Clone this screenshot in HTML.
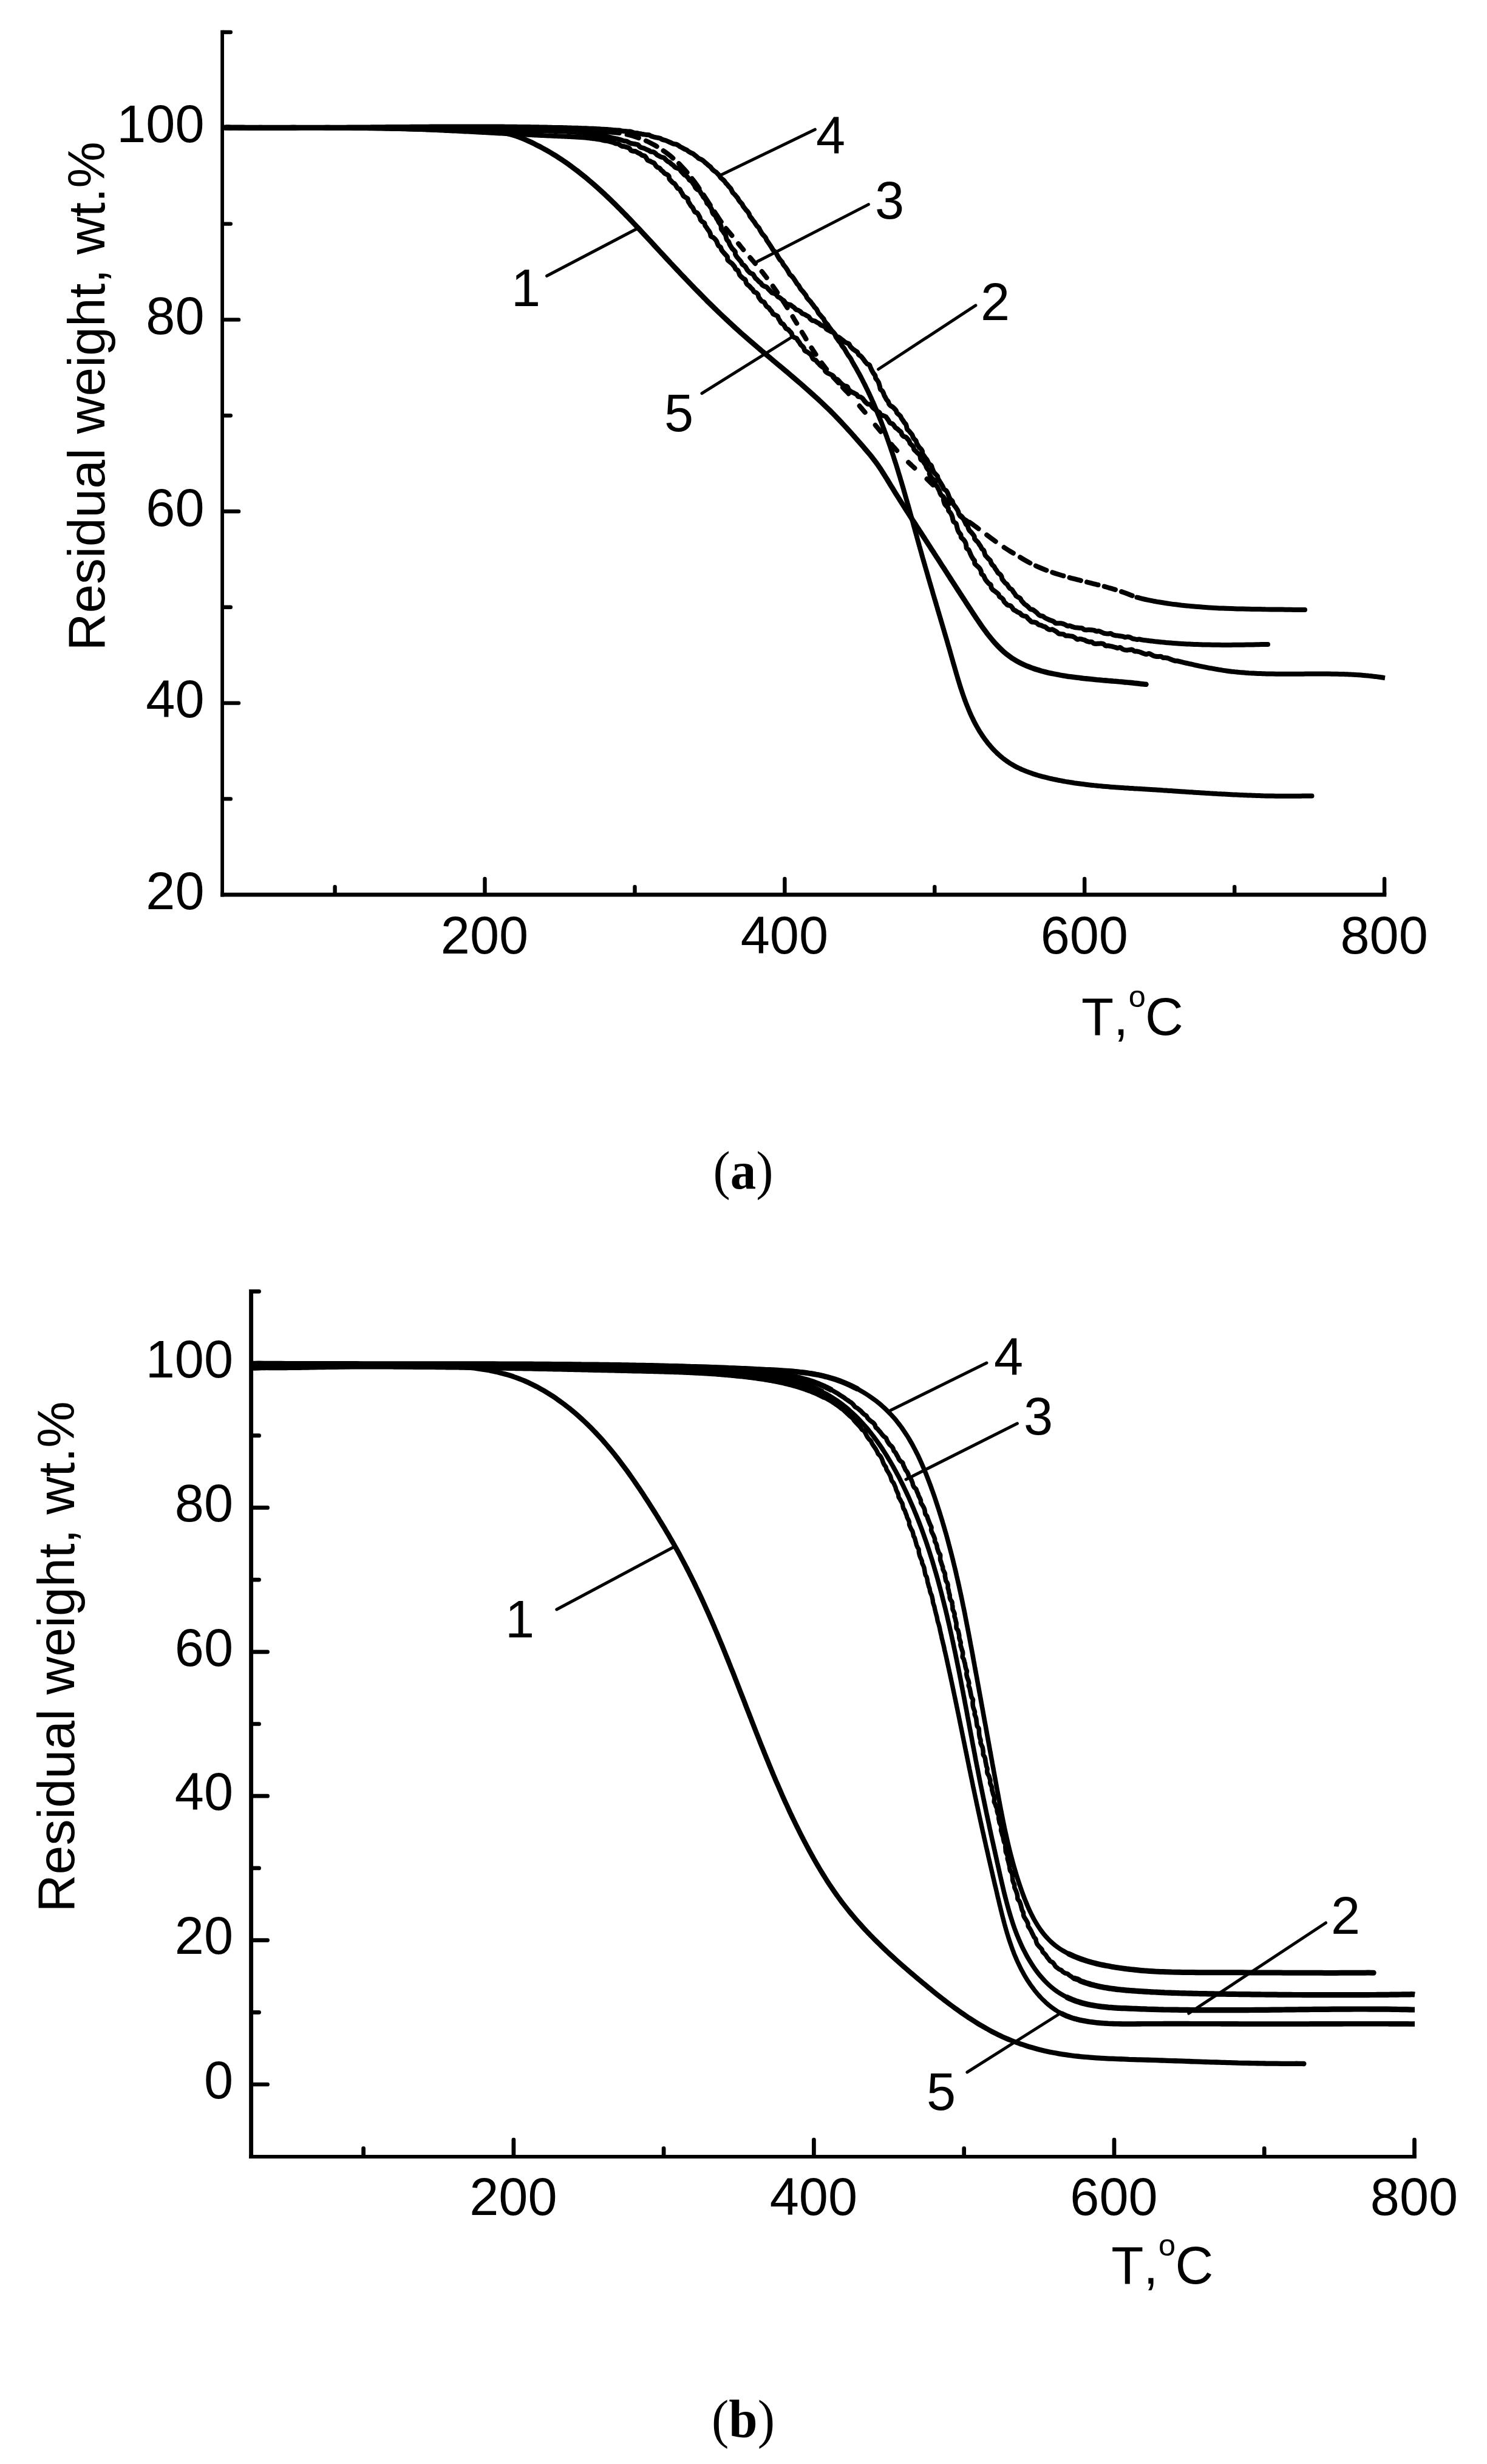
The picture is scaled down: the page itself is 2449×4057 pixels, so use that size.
<!DOCTYPE html>
<html lang="en"><head><meta charset="utf-8"><title>Residual weight vs T</title>
<style>html,body{margin:0;padding:0;background:#fff}svg{display:block}text{font-family:"Liberation Sans",sans-serif;fill:#000;font-kerning:none}.cap{font-family:"Liberation Serif",serif}.c{fill:none;stroke:#000;stroke-linecap:round;stroke-linejoin:round}</style></head><body>
<svg width="2449" height="4057" viewBox="0 0 2449 4057">
<rect width="2449" height="4057" fill="#fff"/>
<g class="c">
<path d="M366.1 49.8 V1476.5" stroke-width="5.8" stroke-linecap="butt"/>
<path d="M363.2 1473.2 H2283.3" stroke-width="6.7" stroke-linecap="butt"/>
<path d="M367.1 1315.4 h12.7M367.1 1157.6 h26.0M367.1 999.8 h12.7M367.1 842.0 h26.0M367.1 684.2 h12.7M367.1 526.4 h26.0M367.1 368.6 h12.7M367.1 210.8 h26.0M367.1 53.0 h12.7M551.6 1472.2 v-12.0M798.5 1472.2 v-25.3M1045.5 1472.2 v-12.0M1292.4 1472.2 v-25.3M1539.3 1472.2 v-12.0M1786.2 1472.2 v-25.3M2033.2 1472.2 v-12.0M2280.1 1472.2 v-25.3" stroke-width="6.4"/>
</g>
<g class="c">
<path d="M413.6 2123.0 V3553.9" stroke-width="6.9" stroke-linecap="butt"/>
<path d="M410.2 3550.9 H2332.8" stroke-width="6" stroke-linecap="butt"/>
<path d="M414.6 3432.0 h26.0M414.6 3313.3 h12.0M414.6 3194.6 h26.0M414.6 3075.9 h12.0M414.6 2957.2 h26.0M414.6 2838.5 h12.0M414.6 2719.8 h26.0M414.6 2601.1 h12.0M414.6 2482.4 h26.0M414.6 2363.7 h12.0M414.6 2245.0 h26.0M414.6 2126.3 h12.0M598.6 3549.9 v-12.5M845.9 3549.9 v-26.7M1093.1 3549.9 v-12.5M1340.4 3549.9 v-26.7M1587.7 3549.9 v-12.5M1835.0 3549.9 v-26.7M2082.2 3549.9 v-12.5M2329.5 3549.9 v-26.7" stroke-width="6.7"/>
</g>
<text x="336.5" y="234.4" font-size="86.5" text-anchor="end">100</text>
<text x="336.5" y="550.0" font-size="86.5" text-anchor="end">80</text>
<text x="336.5" y="865.6" font-size="86.5" text-anchor="end">60</text>
<text x="336.5" y="1181.2" font-size="86.5" text-anchor="end">40</text>
<text x="336.5" y="1496.8" font-size="86.5" text-anchor="end">20</text>
<text x="798.0" y="1570.0" font-size="86.5" text-anchor="middle">200</text>
<text x="1291.9" y="1570.0" font-size="86.5" text-anchor="middle">400</text>
<text x="1785.8" y="1570.0" font-size="86.5" text-anchor="middle">600</text>
<text x="2279.6" y="1570.0" font-size="86.5" text-anchor="middle">800</text>
<text x="384.0" y="2267.8" font-size="86.5" text-anchor="end">100</text>
<text x="384.0" y="2505.2" font-size="86.5" text-anchor="end">80</text>
<text x="384.0" y="2742.6" font-size="86.5" text-anchor="end">60</text>
<text x="384.0" y="2980.0" font-size="86.5" text-anchor="end">40</text>
<text x="384.0" y="3217.4" font-size="86.5" text-anchor="end">20</text>
<text x="384.0" y="3454.8" font-size="86.5" text-anchor="end">0</text>
<text x="845.4" y="3647.0" font-size="86.5" text-anchor="middle">200</text>
<text x="1339.9" y="3647.0" font-size="86.5" text-anchor="middle">400</text>
<text x="1834.5" y="3647.0" font-size="86.5" text-anchor="middle">600</text>
<text x="2329.0" y="3647.0" font-size="86.5" text-anchor="middle">800</text>
<text transform="translate(172.4 1071.5) rotate(-90)" font-size="85.7">Residual weight, wt.%</text>
<text transform="translate(121.8 3148.5) rotate(-90)" font-size="86">Residual weight, wt.%</text>
<text x="1780.9" y="1704.0" font-size="87">T,<tspan font-size="50.5" x="1858.8" dy="-46">o</tspan><tspan x="1886.1" dy="46">C</tspan></text>
<text x="1830.2" y="3759.6" font-size="87">T,<tspan font-size="50.5" x="1908.1" dy="-46">o</tspan><tspan x="1935.4" dy="46">C</tspan></text>
<text class="cap" x="1224" y="1957.4" font-size="88" text-anchor="middle" textLength="99" lengthAdjust="spacingAndGlyphs">(<tspan font-weight="bold">a</tspan>)</text>
<text class="cap" x="1224" y="4013.4" font-size="88" text-anchor="middle" textLength="104" lengthAdjust="spacingAndGlyphs">(<tspan font-weight="bold">b</tspan>)</text>
<text x="842.0" y="503.5" font-size="86.5" text-anchor="start">1</text>
<text x="1344.0" y="252.6" font-size="86.5" text-anchor="start">4</text>
<text x="1441.0" y="360.0" font-size="86.5" text-anchor="start">3</text>
<text x="1615.0" y="527.0" font-size="86.5" text-anchor="start">2</text>
<text x="1094.0" y="709.5" font-size="86.5" text-anchor="start">5</text>
<text x="832.0" y="2696.0" font-size="86.5" text-anchor="start">1</text>
<text x="1637.0" y="2264.0" font-size="86.5" text-anchor="start">4</text>
<text x="1686.0" y="2362.0" font-size="86.5" text-anchor="start">3</text>
<text x="2192.0" y="3184.0" font-size="86.5" text-anchor="start">2</text>
<text x="1526.0" y="3473.5" font-size="86.5" text-anchor="start">5</text>
<path class="c" stroke-width="8.6" d="M369.0 210.3C370.5 210.3 375.0 210.3 378.0 210.3C381.1 210.3 384.1 210.3 387.1 210.3C390.1 210.3 393.1 210.3 396.1 210.4C399.1 210.4 402.1 210.4 405.2 210.4C408.2 210.4 411.2 210.4 414.2 210.4C417.2 210.4 420.2 210.4 423.2 210.4C426.3 210.4 429.3 210.4 432.3 210.4C435.3 210.4 438.3 210.4 441.3 210.4C444.3 210.4 447.4 210.4 450.4 210.4C453.4 210.4 456.4 210.4 459.4 210.4C462.4 210.4 465.4 210.4 468.5 210.4C471.5 210.4 474.5 210.4 477.5 210.4C480.5 210.4 483.5 210.4 486.6 210.4C489.6 210.4 492.6 210.4 495.6 210.3C498.6 210.3 501.6 210.3 504.6 210.3C507.7 210.3 510.7 210.3 513.7 210.3C516.7 210.3 519.7 210.3 522.7 210.3C525.7 210.3 528.8 210.3 531.8 210.3C534.8 210.3 537.8 210.4 540.8 210.4C543.8 210.4 546.8 210.4 549.9 210.4C552.9 210.4 555.9 210.4 558.9 210.4C561.9 210.4 564.9 210.5 567.9 210.5C571.0 210.5 574.0 210.5 577.0 210.5C580.0 210.6 583.0 210.6 586.0 210.6C589.0 210.6 592.1 210.7 595.1 210.7C598.1 210.7 601.1 210.8 604.1 210.8C607.1 210.9 610.1 210.9 613.1 211.0C616.2 211.0 619.2 211.0 622.2 211.1C625.2 211.2 628.2 211.2 631.2 211.3C634.2 211.3 637.2 211.4 640.3 211.4C643.3 211.5 646.3 211.6 649.3 211.6C652.3 211.7 655.3 211.8 658.3 211.8C661.3 211.9 664.4 212.0 667.4 212.0C670.4 212.1 673.4 212.2 676.4 212.2C679.4 212.3 682.4 212.4 685.4 212.4C688.5 212.5 691.5 212.6 694.5 212.6C697.5 212.7 700.5 212.8 703.5 212.9C706.5 212.9 709.6 213.0 712.6 213.1C715.6 213.1 718.6 213.2 721.6 213.3C724.6 213.3 727.6 213.4 730.7 213.5C733.7 213.6 736.7 213.6 739.7 213.7C742.7 213.8 745.7 213.8 748.8 213.9C751.8 214.0 754.8 214.0 757.8 214.1C760.8 214.2 763.8 214.3 766.9 214.4C769.9 214.5 772.9 214.6 775.9 214.7C778.9 214.8 781.9 214.9 784.9 215.0C788.0 215.1 791.0 215.3 794.0 215.4C797.0 215.6 800.0 215.7 803.0 215.9C806.0 216.1 809.0 216.3 812.0 216.5C815.0 216.8 818.0 217.1 821.0 217.4C824.0 217.8 827.0 218.2 829.9 218.7C832.9 219.3 835.8 219.9 838.7 220.6C841.7 221.3 844.6 222.2 847.5 223.1C850.3 224.0 853.2 225.1 856.0 226.1C858.9 227.2 861.7 228.4 864.5 229.6C867.3 230.8 870.1 232.1 872.8 233.3C875.6 234.6 878.3 235.9 881.0 237.3C883.7 238.6 886.4 240.0 889.1 241.4C891.7 242.8 894.4 244.2 897.0 245.7C899.6 247.1 902.2 248.6 904.8 250.1C907.4 251.6 910.0 253.2 912.5 254.8C915.1 256.3 917.6 257.9 920.1 259.6C922.6 261.2 925.1 262.8 927.6 264.5C930.0 266.2 932.5 267.9 934.9 269.6C937.4 271.4 939.8 273.1 942.2 274.9C944.6 276.6 947.0 278.4 949.4 280.3C951.8 282.1 954.1 283.9 956.5 285.8C958.8 287.6 961.1 289.5 963.5 291.4C965.8 293.3 968.1 295.2 970.4 297.2C972.7 299.1 974.9 301.0 977.2 303.0C979.5 305.0 981.7 307.0 984.0 309.0C986.2 311.0 988.4 313.0 990.6 315.0C992.9 317.1 995.1 319.1 997.3 321.2C999.5 323.2 1001.7 325.3 1003.8 327.4C1006.0 329.5 1008.2 331.6 1010.3 333.7C1012.5 335.8 1014.7 337.9 1016.8 340.1C1018.9 342.2 1021.1 344.4 1023.2 346.5C1025.3 348.7 1027.5 350.8 1029.6 353.0C1031.7 355.2 1033.8 357.3 1035.9 359.5C1038.0 361.7 1040.1 363.9 1042.2 366.1C1044.3 368.3 1046.4 370.5 1048.4 372.7C1050.5 374.9 1052.6 377.1 1054.7 379.3C1056.8 381.6 1058.8 383.8 1060.9 386.0C1063.0 388.2 1065.0 390.4 1067.1 392.7C1069.1 394.9 1071.2 397.1 1073.3 399.3C1075.3 401.6 1077.4 403.8 1079.4 406.0C1081.5 408.2 1083.6 410.5 1085.6 412.7C1087.7 414.9 1089.7 417.1 1091.8 419.3C1093.8 421.6 1095.9 423.8 1097.9 426.0C1100.0 428.2 1102.1 430.4 1104.1 432.6C1106.2 434.8 1108.2 437.0 1110.3 439.2C1112.4 441.4 1114.4 443.6 1116.5 445.8C1118.6 448.0 1120.6 450.2 1122.7 452.4C1124.8 454.6 1126.9 456.7 1128.9 458.9C1131.0 461.1 1133.1 463.3 1135.2 465.4C1137.3 467.6 1139.3 469.8 1141.4 471.9C1143.5 474.1 1145.6 476.2 1147.7 478.4C1149.8 480.5 1151.9 482.7 1154.0 484.8C1156.1 487.0 1158.3 489.1 1160.4 491.2C1162.5 493.3 1164.6 495.5 1166.7 497.6C1168.9 499.7 1171.0 501.8 1173.1 503.9C1175.3 506.0 1177.4 508.1 1179.6 510.2C1181.7 512.3 1183.9 514.4 1186.1 516.5C1188.2 518.5 1190.4 520.6 1192.6 522.7C1194.8 524.7 1197.0 526.8 1199.2 528.8C1201.4 530.9 1203.6 532.9 1205.8 535.0C1208.0 537.0 1210.2 539.0 1212.4 541.1C1214.7 543.1 1216.9 545.1 1219.1 547.1C1221.4 549.1 1223.6 551.1 1225.9 553.1C1228.2 555.1 1230.4 557.0 1232.7 559.0C1235.0 561.0 1237.3 563.0 1239.6 564.9C1241.9 566.9 1244.1 568.9 1246.4 570.8C1248.7 572.8 1251.0 574.7 1253.4 576.7C1255.7 578.6 1258.0 580.6 1260.3 582.5C1262.6 584.5 1264.9 586.4 1267.2 588.3C1269.5 590.3 1271.9 592.2 1274.2 594.2C1276.5 596.1 1278.8 598.0 1281.1 600.0C1283.4 601.9 1285.8 603.9 1288.1 605.8C1290.4 607.8 1292.7 609.7 1295.0 611.6C1297.3 613.6 1299.6 615.5 1301.9 617.5C1304.2 619.5 1306.6 621.4 1308.8 623.4C1311.1 625.3 1313.4 627.3 1315.7 629.3C1318.0 631.2 1320.3 633.2 1322.6 635.2C1324.8 637.2 1327.1 639.2 1329.4 641.2C1331.6 643.2 1333.9 645.2 1336.1 647.2C1338.4 649.2 1340.6 651.2 1342.8 653.3C1345.1 655.3 1347.3 657.3 1349.5 659.4C1351.7 661.4 1353.9 663.5 1356.1 665.6C1358.2 667.6 1360.4 669.7 1362.6 671.8C1364.7 673.9 1366.9 676.0 1369.0 678.1C1371.1 680.2 1373.3 682.4 1375.4 684.5C1377.5 686.7 1379.6 688.8 1381.6 691.0C1383.7 693.2 1385.8 695.4 1387.8 697.6C1389.9 699.8 1391.9 702.0 1393.9 704.2C1395.9 706.4 1398.0 708.7 1400.0 710.9C1402.0 713.1 1404.0 715.4 1406.0 717.6C1408.0 719.9 1409.9 722.2 1411.9 724.4C1413.9 726.7 1415.9 729.0 1417.9 731.2C1419.9 733.5 1421.9 735.8 1423.8 738.1C1425.8 740.4 1427.8 742.7 1429.7 745.0C1431.7 747.3 1433.6 749.6 1435.5 751.9C1437.4 754.3 1439.2 756.7 1441.0 759.1C1442.8 761.5 1444.6 763.9 1446.3 766.4C1448.0 768.8 1449.6 771.3 1451.3 773.8C1452.9 776.3 1454.5 778.9 1456.1 781.4C1457.7 783.9 1459.3 786.5 1460.9 789.0C1462.4 791.6 1464.0 794.2 1465.5 796.7C1467.1 799.3 1468.7 801.9 1470.3 804.4C1471.8 807.0 1473.4 809.6 1475.0 812.2C1476.6 814.7 1478.2 817.3 1479.8 819.8C1481.4 822.4 1483.1 825.0 1484.7 827.5C1486.3 830.1 1487.9 832.6 1489.6 835.2C1491.2 837.8 1492.8 840.3 1494.5 842.9C1496.1 845.4 1497.7 848.0 1499.4 850.5C1501.0 853.1 1502.7 855.6 1504.3 858.1C1506.0 860.7 1507.6 863.2 1509.3 865.8C1510.9 868.3 1512.6 870.8 1514.2 873.4C1515.8 875.9 1517.5 878.4 1519.1 881.0C1520.8 883.5 1522.4 886.0 1524.0 888.5C1525.7 891.1 1527.3 893.6 1528.9 896.1C1530.6 898.6 1532.2 901.1 1533.8 903.7C1535.4 906.2 1537.1 908.7 1538.7 911.2C1540.3 913.7 1541.9 916.2 1543.5 918.7C1545.2 921.2 1546.8 923.7 1548.4 926.2C1550.0 928.8 1551.6 931.3 1553.3 933.8C1554.9 936.3 1556.5 938.8 1558.1 941.3C1559.7 943.8 1561.4 946.3 1563.0 948.8C1564.6 951.3 1566.2 953.9 1567.8 956.4C1569.5 958.9 1571.1 961.4 1572.7 963.9C1574.4 966.4 1576.0 969.0 1577.6 971.5C1579.3 974.0 1580.9 976.5 1582.6 979.1C1584.2 981.6 1585.8 984.1 1587.5 986.7C1589.2 989.2 1590.8 991.7 1592.5 994.3C1594.1 996.8 1595.8 999.4 1597.5 1001.9C1599.2 1004.5 1600.8 1007.0 1602.5 1009.6C1604.2 1012.2 1605.9 1014.7 1607.6 1017.3C1609.3 1019.8 1611.0 1022.4 1612.8 1024.9C1614.5 1027.5 1616.3 1030.0 1618.0 1032.5C1619.8 1035.0 1621.6 1037.5 1623.5 1039.9C1625.3 1042.4 1627.1 1044.8 1629.0 1047.2C1630.9 1049.6 1632.8 1051.9 1634.8 1054.2C1636.7 1056.5 1638.7 1058.8 1640.8 1061.0C1642.8 1063.2 1644.9 1065.3 1647.0 1067.4C1649.1 1069.5 1651.3 1071.5 1653.5 1073.4C1655.8 1075.4 1658.0 1077.2 1660.4 1079.0C1662.7 1080.8 1665.1 1082.5 1667.5 1084.2C1670.0 1085.8 1672.5 1087.3 1675.1 1088.8C1677.6 1090.2 1680.3 1091.6 1683.0 1092.9C1685.6 1094.2 1688.4 1095.4 1691.1 1096.6C1693.9 1097.7 1696.7 1098.8 1699.5 1099.8C1702.4 1100.8 1705.2 1101.8 1708.1 1102.7C1711.0 1103.6 1714.0 1104.4 1716.9 1105.2C1719.9 1106.0 1722.8 1106.8 1725.8 1107.5C1728.8 1108.1 1731.8 1108.8 1734.8 1109.4C1737.8 1110.0 1740.8 1110.6 1743.8 1111.1C1746.8 1111.7 1749.8 1112.2 1752.8 1112.7C1755.8 1113.2 1758.8 1113.6 1761.8 1114.1C1764.8 1114.5 1767.8 1114.9 1770.8 1115.3C1773.8 1115.7 1776.8 1116.0 1779.8 1116.4C1782.8 1116.7 1785.7 1117.1 1788.7 1117.4C1791.7 1117.7 1794.7 1118.0 1797.7 1118.3C1800.6 1118.6 1803.6 1118.9 1806.6 1119.2C1809.6 1119.4 1812.6 1119.7 1815.5 1120.0C1818.5 1120.2 1821.5 1120.5 1824.5 1120.7C1827.5 1121.0 1830.4 1121.2 1833.4 1121.5C1836.4 1121.7 1839.4 1122.0 1842.4 1122.3C1845.4 1122.5 1848.4 1122.8 1851.4 1123.1C1854.4 1123.4 1857.4 1123.6 1860.4 1123.9C1863.4 1124.2 1866.4 1124.5 1869.4 1124.9C1872.4 1125.2 1875.4 1125.5 1878.5 1125.9C1881.5 1126.2 1886.0 1126.6 1887.5 1126.8"/>
<path class="c" stroke-width="8" d="M369.0 209.8C369.6 209.7 371.4 209.3 372.7 209.2C374.0 209.2 375.4 209.3 376.8 209.3C378.1 209.3 379.4 209.3 380.8 209.4C382.1 209.4 383.5 209.4 384.8 209.4C386.2 209.4 387.5 209.5 388.8 209.5C390.2 209.5 391.5 209.5 392.9 209.5C394.2 209.5 395.5 209.5 396.9 209.6C398.2 209.6 399.6 209.6 400.9 209.6C402.3 209.6 403.6 209.6 404.9 209.7C406.3 209.7 407.6 209.7 409.0 209.7C410.3 209.7 411.6 209.7 413.0 209.7C414.3 209.7 415.7 209.7 417.0 209.8C418.3 209.8 419.7 209.8 421.0 209.8C422.4 209.8 423.7 209.8 425.0 209.8C426.4 209.8 427.7 209.8 429.0 209.8C430.4 209.9 431.7 209.9 433.1 209.9C434.4 209.9 435.7 209.9 437.1 209.9C438.4 209.9 439.8 209.9 441.1 209.9C442.4 209.9 443.8 209.9 445.1 209.9C446.4 209.9 447.8 209.9 449.1 209.9C450.5 210.0 451.8 210.0 453.1 210.0C454.5 210.0 455.8 210.0 457.1 210.0C458.5 210.0 459.8 210.0 461.1 210.0C462.5 210.0 463.8 210.0 465.2 210.0C466.5 210.0 467.8 210.0 469.2 210.0C470.5 210.0 471.8 210.0 473.2 210.0C474.5 210.0 475.8 210.0 477.2 210.0C478.5 210.0 479.8 210.0 481.2 210.0C482.5 210.0 483.9 210.0 485.2 210.0C486.5 210.0 487.9 210.0 489.2 210.0C490.5 210.0 491.9 210.0 493.2 210.0C494.5 210.0 495.9 210.0 497.2 210.0C498.5 210.0 499.9 210.0 501.2 210.0C502.5 210.0 503.9 210.0 505.2 210.0C506.5 210.0 507.9 210.0 509.2 210.0C510.5 210.0 511.9 210.0 513.2 209.9C514.5 209.9 515.9 209.9 517.2 209.9C518.5 209.9 519.9 209.9 521.2 209.9C522.5 209.9 523.9 209.9 525.2 209.9C526.5 209.9 527.9 209.9 529.2 209.9C530.5 209.9 531.9 209.9 533.2 209.9C534.5 209.9 535.9 209.9 537.2 209.8C538.5 209.8 539.9 209.8 541.2 209.8C542.5 209.8 543.9 209.8 545.2 209.8C546.5 209.8 547.9 209.8 549.2 209.8C550.5 209.8 551.8 209.8 553.2 209.8C554.5 209.8 555.8 209.7 557.2 209.7C558.5 209.7 559.8 209.7 561.2 209.7C562.5 209.7 563.8 209.7 565.2 209.7C566.5 209.7 567.8 209.7 569.2 209.7C570.5 209.6 571.8 209.6 573.2 209.6C574.5 209.6 575.8 209.6 577.1 209.6C578.5 209.6 579.8 209.6 581.1 209.6C582.5 209.6 583.8 209.6 585.1 209.5C586.5 209.5 587.8 209.5 589.1 209.5C590.5 209.5 591.8 209.5 593.1 209.5C594.4 209.5 595.8 209.5 597.1 209.5C598.4 209.4 599.8 209.4 601.1 209.4C602.4 209.4 603.8 209.4 605.1 209.4C606.4 209.4 607.8 209.4 609.1 209.4C610.4 209.4 611.7 209.3 613.1 209.3C614.4 209.3 615.7 209.3 617.1 209.3C618.4 209.3 619.7 209.3 621.1 209.3C622.4 209.3 623.7 209.2 625.0 209.2C626.4 209.2 627.7 209.2 629.0 209.2C630.4 209.2 631.7 209.2 633.0 209.2C634.4 209.2 635.7 209.2 637.0 209.1C638.3 209.1 639.7 209.1 641.0 209.1C642.3 209.1 643.7 209.1 645.0 209.1C646.3 209.1 647.7 209.1 649.0 209.0C650.3 209.0 651.6 209.0 653.0 209.0C654.3 209.0 655.6 209.0 657.0 209.0C658.3 209.0 659.6 209.0 661.0 209.0C662.3 208.9 663.6 208.9 664.9 208.9C666.3 208.9 667.6 208.9 668.9 208.9C670.3 208.9 671.6 208.9 672.9 208.9C674.3 208.9 675.6 208.9 676.9 208.8C678.2 208.8 679.6 208.8 680.9 208.8C682.2 208.8 683.6 208.8 684.9 208.8C686.2 208.8 687.6 208.8 688.9 208.8C690.2 208.8 691.5 208.7 692.9 208.7C694.2 208.7 695.5 208.7 696.9 208.7C698.2 208.7 699.5 208.7 700.9 208.7C702.2 208.7 703.5 208.7 704.8 208.7C706.2 208.7 707.5 208.7 708.8 208.6C710.2 208.6 711.5 208.6 712.8 208.6C714.2 208.6 715.5 208.6 716.8 208.6C718.2 208.6 719.5 208.6 720.8 208.6C722.1 208.6 723.5 208.6 724.8 208.6C726.1 208.6 727.5 208.6 728.8 208.5C730.1 208.5 731.5 208.5 732.8 208.5C734.1 208.5 735.5 208.5 736.8 208.5C738.1 208.5 739.4 208.5 740.8 208.5C742.1 208.5 743.4 208.5 744.8 208.5C746.1 208.5 747.4 208.5 748.8 208.5C750.1 208.5 751.4 208.5 752.8 208.5C754.1 208.5 755.4 208.5 756.8 208.5C758.1 208.5 759.4 208.5 760.7 208.5C762.1 208.5 763.4 208.5 764.7 208.5C766.1 208.5 767.4 208.5 768.7 208.5C770.1 208.5 771.4 208.5 772.7 208.5C774.1 208.5 775.4 208.5 776.7 208.5C778.1 208.5 779.4 208.5 780.7 208.5C782.1 208.5 783.4 208.5 784.7 208.5C786.1 208.5 787.4 208.5 788.7 208.5C790.1 208.5 791.4 208.5 792.7 208.5C794.1 208.5 795.4 208.5 796.7 208.5C798.1 208.5 799.4 208.5 800.7 208.5C802.1 208.5 803.4 208.5 804.7 208.5C806.1 208.5 807.4 208.5 808.7 208.5C810.1 208.5 811.4 208.5 812.7 208.6C814.1 208.6 815.4 208.6 816.7 208.6C818.1 208.6 819.4 208.6 820.7 208.6C822.1 208.6 823.4 208.6 824.7 208.6C826.1 208.6 827.4 208.6 828.7 208.6C830.1 208.7 831.4 208.7 832.7 208.7C834.1 208.7 835.4 208.7 836.7 208.7C838.1 208.7 839.4 208.7 840.8 208.7C842.1 208.8 843.4 208.8 844.8 208.8C846.1 208.8 847.4 208.8 848.8 208.8C850.1 208.8 851.4 208.9 852.8 208.9C854.1 208.9 855.5 208.9 856.8 208.9C858.1 208.9 859.5 208.9 860.8 209.0C862.1 209.0 863.5 209.0 864.8 209.0C866.1 209.0 867.5 209.0 868.8 209.1C870.2 209.1 871.5 209.1 872.8 209.1C874.2 209.1 875.5 209.2 876.8 209.2C878.2 209.2 879.5 209.2 880.9 209.2C882.2 209.3 883.5 209.3 884.9 209.3C886.2 209.3 887.6 209.4 888.9 209.4C890.2 209.4 891.6 209.4 892.9 209.5C894.2 209.5 895.6 209.5 896.9 209.5C898.3 209.6 899.6 209.6 900.9 209.6C902.3 209.6 903.6 209.7 905.0 209.7C906.3 209.7 907.6 209.7 909.0 209.8C910.3 209.8 911.7 209.8 913.0 209.9C914.3 209.9 915.7 209.9 917.0 209.9C918.4 210.0 919.7 210.0 921.1 210.0C922.4 210.1 923.7 210.1 925.1 210.1C926.4 210.2 927.8 210.2 929.1 210.2C930.4 210.3 931.8 210.3 933.1 210.3C934.5 210.4 935.8 210.4 937.2 210.5C938.5 210.5 939.8 210.5 941.2 210.6C942.5 210.6 943.9 210.6 945.2 210.7C946.6 210.7 947.9 210.8 949.2 210.8C950.6 210.8 951.9 210.9 953.3 210.9C954.6 211.0 956.0 211.0 957.3 211.1C958.7 211.1 960.0 211.1 961.3 211.2C962.7 211.2 964.0 211.3 965.4 211.3C966.7 211.4 968.1 211.4 969.4 211.5C970.8 211.5 972.1 211.6 973.4 211.7C974.8 211.7 976.1 211.8 977.5 211.8C978.8 211.9 980.2 212.0 981.5 212.0C982.8 212.1 984.2 212.2 985.5 212.2C986.9 212.3 988.2 212.4 989.5 212.5C990.9 212.5 992.2 212.6 993.6 212.7C994.9 212.8 996.2 212.9 997.6 213.0C998.9 213.1 1000.2 213.1 1001.6 213.2C1002.9 213.3 1004.2 213.5 1005.6 213.6C1006.9 213.7 1008.2 213.7 1009.6 213.9C1010.9 214.0 1012.2 214.2 1013.5 214.3C1014.9 214.4 1016.2 214.4 1017.5 214.5C1018.9 214.6 1020.2 214.6 1021.5 214.8C1022.8 215.1 1024.1 215.6 1025.4 215.8C1026.7 216.0 1028.1 216.0 1029.4 216.1C1030.7 216.2 1032.1 216.3 1033.4 216.4C1034.7 216.4 1036.1 216.3 1037.4 216.5C1038.7 216.7 1040.0 217.1 1041.2 217.6C1042.5 218.0 1043.7 218.7 1045.0 219.0C1046.3 219.2 1047.7 218.9 1049.0 219.1C1050.3 219.2 1051.6 219.7 1052.9 219.9C1054.2 220.2 1055.5 220.3 1056.8 220.6C1058.1 220.8 1059.3 221.2 1060.6 221.4C1061.9 221.6 1063.2 221.8 1064.5 221.9C1065.9 222.0 1067.3 221.8 1068.5 222.1C1069.8 222.5 1070.9 223.4 1072.2 224.0C1073.4 224.5 1074.6 224.9 1075.9 225.2C1077.1 225.6 1078.4 225.9 1079.7 226.2C1081.0 226.4 1082.3 226.6 1083.6 226.9C1084.9 227.2 1086.2 227.3 1087.4 227.8C1088.6 228.3 1089.7 229.3 1090.9 229.8C1092.1 230.3 1093.4 230.5 1094.7 230.8C1096.0 231.2 1097.2 231.6 1098.4 232.1C1099.6 232.6 1100.8 233.3 1102.0 233.8C1103.2 234.3 1104.4 234.8 1105.6 235.3C1106.8 235.9 1107.9 236.6 1109.2 236.9C1110.5 237.3 1112.0 237.1 1113.3 237.5C1114.6 237.8 1115.7 238.5 1116.9 239.2C1118.0 239.9 1119.0 240.8 1120.2 241.5C1121.3 242.2 1122.5 242.8 1123.7 243.4C1124.9 244.0 1126.0 244.8 1127.2 245.3C1128.4 245.9 1129.8 246.2 1130.9 246.9C1132.0 247.6 1132.9 248.7 1134.0 249.4C1135.2 250.2 1136.3 250.8 1137.5 251.4C1138.7 252.0 1140.1 252.4 1141.3 253.0C1142.4 253.7 1143.4 254.7 1144.5 255.6C1145.5 256.4 1146.6 257.2 1147.6 258.0C1148.7 258.9 1149.5 260.0 1150.6 260.8C1151.8 261.5 1153.2 261.8 1154.5 262.4C1155.7 263.0 1156.9 263.7 1158.0 264.5C1159.0 265.3 1159.9 266.4 1160.9 267.3C1161.9 268.2 1163.0 268.9 1164.1 269.8C1165.1 270.7 1166.0 271.7 1167.0 272.6C1168.1 273.4 1169.3 274.1 1170.3 275.0C1171.2 276.0 1171.8 277.3 1172.7 278.3C1173.6 279.3 1174.6 280.3 1175.6 281.1C1176.7 281.9 1178.1 282.5 1179.1 283.3C1180.2 284.1 1181.0 285.2 1182.0 286.2C1182.9 287.1 1183.9 288.1 1184.7 289.1C1185.5 290.2 1186.0 291.6 1186.9 292.6C1187.7 293.6 1188.9 294.3 1190.0 295.2C1191.0 296.1 1192.0 296.9 1192.9 297.9C1193.8 299.0 1194.4 300.2 1195.2 301.2C1196.1 302.3 1197.1 303.1 1198.0 304.1C1198.9 305.1 1199.7 306.2 1200.5 307.3C1201.4 308.3 1202.6 309.1 1203.3 310.2C1204.1 311.3 1204.5 312.6 1205.1 313.8C1205.7 315.0 1206.2 316.3 1207.0 317.4C1207.8 318.5 1209.1 319.2 1210.0 320.2C1210.9 321.2 1211.7 322.3 1212.5 323.3C1213.4 324.3 1214.3 325.3 1215.1 326.4C1215.8 327.5 1216.2 328.8 1217.0 329.9C1217.7 331.1 1218.6 332.0 1219.5 333.1C1220.4 334.1 1221.4 334.9 1222.2 336.0C1222.9 337.1 1223.3 338.5 1224.0 339.7C1224.7 340.8 1225.6 341.8 1226.4 342.8C1227.3 343.9 1228.0 345.0 1228.9 346.0C1229.7 347.0 1230.9 347.8 1231.7 348.9C1232.5 349.9 1233.2 351.1 1233.8 352.3C1234.3 353.5 1234.5 355.0 1235.2 356.2C1235.8 357.3 1236.9 358.2 1237.7 359.3C1238.5 360.3 1239.2 361.5 1240.0 362.5C1240.8 363.6 1241.8 364.6 1242.5 365.6C1243.3 366.7 1243.8 368.0 1244.6 369.1C1245.3 370.2 1246.1 371.3 1246.9 372.3C1247.8 373.3 1249.1 374.0 1249.9 375.1C1250.6 376.2 1251.0 377.6 1251.6 378.8C1252.2 380.0 1252.9 381.1 1253.6 382.2C1254.3 383.4 1254.9 384.5 1255.8 385.6C1256.6 386.6 1257.6 387.5 1258.5 388.5C1259.4 389.5 1260.4 390.4 1261.1 391.6C1261.8 392.7 1261.9 394.2 1262.6 395.4C1263.2 396.6 1264.1 397.5 1264.9 398.6C1265.7 399.7 1266.4 400.8 1267.1 401.9C1267.8 403.0 1268.6 404.1 1269.3 405.2C1270.0 406.4 1270.7 407.5 1271.4 408.7C1272.1 409.8 1272.6 411.0 1273.5 412.0C1274.4 413.0 1275.8 413.7 1276.7 414.7C1277.6 415.7 1278.2 416.9 1278.9 418.0C1279.6 419.2 1280.1 420.4 1280.8 421.5C1281.4 422.7 1282.1 423.9 1282.8 425.0C1283.5 426.1 1284.3 427.2 1285.1 428.3C1286.0 429.3 1287.2 430.1 1287.9 431.2C1288.7 432.3 1289.0 433.7 1289.6 434.8C1290.3 436.0 1291.2 437.0 1292.0 438.0C1292.8 439.1 1293.7 440.1 1294.5 441.2C1295.3 442.3 1296.0 443.4 1296.7 444.5C1297.4 445.7 1298.1 446.8 1298.7 447.9C1299.4 449.1 1299.7 450.6 1300.5 451.6C1301.3 452.7 1302.6 453.4 1303.6 454.3C1304.6 455.2 1305.5 456.2 1306.3 457.3C1307.1 458.3 1307.8 459.5 1308.5 460.6C1309.2 461.8 1310.0 462.9 1310.7 464.0C1311.4 465.1 1312.0 466.3 1312.8 467.4C1313.6 468.4 1314.9 469.2 1315.6 470.3C1316.4 471.4 1316.8 472.8 1317.5 473.9C1318.1 475.1 1318.8 476.2 1319.7 477.3C1320.5 478.3 1321.6 479.2 1322.5 480.2C1323.4 481.2 1324.2 482.2 1325.0 483.3C1325.8 484.4 1326.7 485.4 1327.4 486.5C1328.1 487.7 1328.3 489.2 1329.0 490.4C1329.7 491.5 1330.8 492.4 1331.7 493.3C1332.7 494.3 1333.7 495.2 1334.6 496.2C1335.5 497.2 1336.1 498.4 1336.9 499.5C1337.7 500.5 1338.7 501.5 1339.5 502.6C1340.3 503.7 1340.9 504.9 1341.7 505.9C1342.6 507.0 1343.8 507.7 1344.6 508.8C1345.4 509.9 1345.8 511.2 1346.5 512.4C1347.1 513.6 1347.6 514.9 1348.3 516.0C1349.1 517.1 1350.2 518.0 1351.1 519.0C1352.0 520.0 1352.8 521.0 1353.7 522.0C1354.6 523.1 1355.7 523.9 1356.4 525.0C1357.1 526.2 1357.4 527.6 1358.1 528.8C1358.8 529.9 1359.7 530.9 1360.6 532.0C1361.4 533.0 1362.5 533.9 1363.3 534.9C1364.1 536.0 1364.6 537.2 1365.4 538.3C1366.2 539.4 1367.1 540.4 1367.9 541.5C1368.7 542.6 1369.3 543.8 1370.1 544.8C1371.0 545.8 1372.3 546.6 1373.1 547.6C1374.0 548.6 1374.7 549.8 1375.3 551.0C1375.9 552.2 1376.1 553.7 1376.7 554.9C1377.4 556.0 1378.3 557.0 1379.1 558.1C1379.8 559.2 1380.5 560.3 1381.4 561.4C1382.2 562.4 1383.3 563.3 1384.1 564.4C1384.8 565.5 1385.3 566.8 1386.0 567.9C1386.6 569.1 1387.4 570.2 1388.2 571.2C1389.0 572.3 1390.0 573.2 1390.8 574.3C1391.5 575.4 1392.0 576.7 1392.7 577.8C1393.3 579.0 1394.1 580.1 1394.7 581.2C1395.4 582.4 1396.0 583.6 1396.7 584.7C1397.5 585.8 1398.4 586.8 1399.2 587.8C1400.0 588.9 1400.8 590.0 1401.5 591.1C1402.1 592.3 1402.5 593.6 1403.2 594.7C1403.8 595.9 1404.5 597.0 1405.2 598.2C1405.8 599.3 1406.4 600.5 1407.1 601.7C1407.8 602.8 1408.5 603.9 1409.2 605.1C1409.8 606.2 1410.4 607.4 1411.1 608.5C1411.7 609.7 1412.3 610.9 1413.0 612.0C1413.6 613.2 1414.3 614.3 1415.0 615.5C1415.6 616.6 1416.2 617.8 1416.8 619.0C1417.5 620.1 1418.1 621.3 1418.7 622.5C1419.3 623.7 1419.9 624.8 1420.5 626.0C1421.1 627.2 1421.7 628.4 1422.3 629.6C1422.9 630.7 1423.5 631.9 1424.1 633.1C1424.7 634.3 1425.3 635.5 1425.9 636.7C1426.4 637.9 1427.0 639.1 1427.6 640.2C1428.2 641.4 1428.8 642.6 1429.3 643.8C1429.9 645.0 1430.5 646.2 1431.0 647.4C1431.6 648.6 1432.1 649.8 1432.7 651.0C1433.3 652.2 1433.8 653.4 1434.4 654.6C1434.9 655.8 1435.5 657.1 1436.0 658.3C1436.5 659.5 1437.1 660.7 1437.6 661.9C1438.2 663.1 1438.7 664.3 1439.2 665.5C1439.7 666.8 1440.3 668.0 1440.8 669.2C1441.3 670.4 1441.8 671.6 1442.4 672.9C1442.9 674.1 1443.4 675.3 1443.9 676.5C1444.4 677.8 1444.9 679.0 1445.4 680.2C1445.9 681.5 1446.4 682.7 1446.9 683.9C1447.4 685.1 1447.9 686.4 1448.4 687.6C1448.9 688.8 1449.4 690.1 1449.9 691.3C1450.4 692.6 1450.9 693.8 1451.4 695.0C1451.8 696.3 1452.3 697.5 1452.8 698.8C1453.3 700.0 1453.8 701.2 1454.2 702.5C1454.7 703.7 1455.2 705.0 1455.6 706.2C1456.1 707.5 1456.6 708.7 1457.0 710.0C1457.5 711.2 1458.0 712.5 1458.4 713.7C1458.9 715.0 1459.3 716.2 1459.8 717.5C1460.2 718.7 1460.7 720.0 1461.1 721.3C1461.6 722.5 1462.0 723.8 1462.5 725.0C1462.9 726.3 1463.4 727.5 1463.8 728.8C1464.2 730.1 1464.7 731.3 1465.1 732.6C1465.5 733.9 1466.0 735.1 1466.4 736.4C1466.8 737.7 1467.3 738.9 1467.7 740.2C1468.1 741.5 1468.5 742.7 1469.0 744.0C1469.4 745.3 1469.8 746.5 1470.2 747.8C1470.6 749.1 1471.1 750.3 1471.5 751.6C1471.9 752.9 1472.3 754.2 1472.7 755.4C1473.1 756.7 1473.5 758.0 1473.9 759.2C1474.4 760.5 1474.8 761.8 1475.2 763.1C1475.6 764.3 1476.0 765.6 1476.4 766.9C1476.8 768.2 1477.2 769.5 1477.6 770.7C1478.0 772.0 1478.4 773.3 1478.8 774.6C1479.2 775.9 1479.5 777.1 1479.9 778.4C1480.3 779.7 1480.7 781.0 1481.1 782.3C1481.5 783.5 1481.9 784.8 1482.3 786.1C1482.7 787.4 1483.0 788.7 1483.4 790.0C1483.8 791.2 1484.2 792.5 1484.6 793.8C1485.0 795.1 1485.3 796.4 1485.7 797.7C1486.1 799.0 1486.5 800.2 1486.9 801.5C1487.2 802.8 1487.6 804.1 1488.0 805.4C1488.4 806.7 1488.7 808.0 1489.1 809.3C1489.5 810.5 1489.8 811.8 1490.2 813.1C1490.6 814.4 1491.0 815.7 1491.3 817.0C1491.7 818.3 1492.1 819.6 1492.4 820.9C1492.8 822.1 1493.2 823.4 1493.5 824.7C1493.9 826.0 1494.3 827.3 1494.6 828.6C1495.0 829.9 1495.4 831.2 1495.7 832.5C1496.1 833.8 1496.4 835.0 1496.8 836.3C1497.2 837.6 1497.5 838.9 1497.9 840.2C1498.2 841.5 1498.6 842.8 1499.0 844.1C1499.3 845.4 1499.7 846.7 1500.0 847.9C1500.4 849.2 1500.8 850.5 1501.1 851.8C1501.5 853.1 1501.8 854.4 1502.2 855.7C1502.5 857.0 1502.9 858.3 1503.3 859.6C1503.6 860.8 1504.0 862.1 1504.3 863.4C1504.7 864.7 1505.0 866.0 1505.4 867.3C1505.7 868.6 1506.1 869.9 1506.5 871.2C1506.8 872.4 1507.2 873.7 1507.5 875.0C1507.9 876.3 1508.2 877.6 1508.6 878.9C1508.9 880.2 1509.3 881.5 1509.7 882.7C1510.0 884.0 1510.4 885.3 1510.7 886.6C1511.1 887.9 1511.4 889.2 1511.8 890.5C1512.2 891.7 1512.5 893.0 1512.9 894.3C1513.2 895.6 1513.6 896.9 1513.9 898.2C1514.3 899.4 1514.7 900.7 1515.0 902.0C1515.4 903.3 1515.7 904.6 1516.1 905.8C1516.4 907.1 1516.8 908.4 1517.2 909.7C1517.5 911.0 1517.9 912.2 1518.2 913.5C1518.6 914.8 1519.0 916.1 1519.3 917.4C1519.7 918.6 1520.0 919.9 1520.4 921.2C1520.8 922.5 1521.1 923.7 1521.5 925.0C1521.9 926.3 1522.2 927.6 1522.6 928.8C1523.0 930.1 1523.3 931.4 1523.7 932.7C1524.1 933.9 1524.4 935.2 1524.8 936.5C1525.2 937.7 1525.5 939.0 1525.9 940.3C1526.3 941.6 1526.6 942.8 1527.0 944.1C1527.4 945.4 1527.7 946.6 1528.1 947.9C1528.5 949.2 1528.8 950.4 1529.2 951.7C1529.6 953.0 1529.9 954.3 1530.3 955.5C1530.7 956.8 1531.0 958.1 1531.4 959.3C1531.8 960.6 1532.2 961.9 1532.5 963.1C1532.9 964.4 1533.3 965.7 1533.6 966.9C1534.0 968.2 1534.4 969.5 1534.8 970.7C1535.1 972.0 1535.5 973.3 1535.9 974.6C1536.2 975.8 1536.6 977.1 1537.0 978.4C1537.4 979.6 1537.7 980.9 1538.1 982.2C1538.5 983.4 1538.9 984.7 1539.2 986.0C1539.6 987.2 1540.0 988.5 1540.4 989.8C1540.7 991.0 1541.1 992.3 1541.5 993.6C1541.9 994.8 1542.2 996.1 1542.6 997.4C1543.0 998.7 1543.4 999.9 1543.7 1001.2C1544.1 1002.5 1544.5 1003.7 1544.8 1005.0C1545.2 1006.3 1545.6 1007.5 1546.0 1008.8C1546.3 1010.1 1546.7 1011.4 1547.1 1012.6C1547.5 1013.9 1547.9 1015.2 1548.2 1016.4C1548.6 1017.7 1549.0 1019.0 1549.4 1020.3C1549.7 1021.5 1550.1 1022.8 1550.5 1024.1C1550.9 1025.4 1551.2 1026.6 1551.6 1027.9C1552.0 1029.2 1552.4 1030.5 1552.7 1031.7C1553.1 1033.0 1553.5 1034.3 1553.9 1035.6C1554.2 1036.8 1554.6 1038.1 1555.0 1039.4C1555.4 1040.7 1555.7 1042.0 1556.1 1043.2C1556.5 1044.5 1556.9 1045.8 1557.2 1047.1C1557.6 1048.4 1558.0 1049.6 1558.4 1050.9C1558.7 1052.2 1559.1 1053.5 1559.5 1054.8C1559.9 1056.1 1560.2 1057.3 1560.6 1058.6C1561.0 1059.9 1561.3 1061.2 1561.7 1062.5C1562.1 1063.8 1562.5 1065.1 1562.8 1066.3C1563.2 1067.6 1563.6 1068.9 1564.0 1070.2C1564.3 1071.5 1564.7 1072.8 1565.1 1074.1C1565.4 1075.4 1565.8 1076.7 1566.2 1078.0C1566.6 1079.3 1566.9 1080.6 1567.3 1081.9C1567.7 1083.2 1568.0 1084.5 1568.4 1085.8C1568.8 1087.1 1569.2 1088.4 1569.5 1089.7C1569.9 1091.0 1570.3 1092.3 1570.6 1093.6C1571.0 1094.9 1571.4 1096.2 1571.8 1097.5C1572.1 1098.8 1572.5 1100.1 1572.9 1101.4C1573.2 1102.7 1573.6 1104.0 1574.0 1105.3C1574.4 1106.6 1574.8 1107.9 1575.1 1109.2C1575.5 1110.5 1575.9 1111.8 1576.3 1113.1C1576.7 1114.4 1577.0 1115.7 1577.4 1117.0C1577.8 1118.3 1578.2 1119.6 1578.6 1120.9C1579.0 1122.2 1579.4 1123.5 1579.8 1124.8C1580.2 1126.1 1580.6 1127.4 1581.0 1128.7C1581.4 1130.0 1581.8 1131.3 1582.2 1132.5C1582.6 1133.8 1583.1 1135.1 1583.5 1136.4C1583.9 1137.7 1584.3 1139.0 1584.8 1140.3C1585.2 1141.5 1585.6 1142.8 1586.1 1144.1C1586.5 1145.4 1586.9 1146.6 1587.4 1147.9C1587.8 1149.2 1588.3 1150.4 1588.8 1151.7C1589.2 1153.0 1589.7 1154.2 1590.2 1155.5C1590.6 1156.7 1591.1 1158.0 1591.6 1159.2C1592.1 1160.5 1592.6 1161.7 1593.1 1163.0C1593.6 1164.2 1594.1 1165.5 1594.6 1166.7C1595.1 1167.9 1595.6 1169.2 1596.1 1170.4C1596.6 1171.6 1597.2 1172.8 1597.7 1174.1C1598.2 1175.3 1598.8 1176.5 1599.3 1177.7C1599.9 1178.9 1600.5 1180.1 1601.0 1181.3C1601.6 1182.5 1602.2 1183.7 1602.8 1184.9C1603.3 1186.1 1603.9 1187.3 1604.5 1188.4C1605.2 1189.6 1605.8 1190.8 1606.4 1192.0C1607.0 1193.1 1607.6 1194.3 1608.3 1195.4C1608.9 1196.6 1609.6 1197.7 1610.2 1198.9C1610.9 1200.0 1611.6 1201.2 1612.2 1202.3C1612.9 1203.4 1613.6 1204.5 1614.3 1205.7C1615.0 1206.8 1615.7 1207.9 1616.5 1209.0C1617.2 1210.1 1617.9 1211.2 1618.7 1212.3C1619.4 1213.4 1620.2 1214.4 1620.9 1215.5C1621.7 1216.6 1622.5 1217.6 1623.3 1218.7C1624.1 1219.7 1624.9 1220.8 1625.7 1221.8C1626.5 1222.9 1627.3 1223.9 1628.1 1224.9C1629.0 1225.9 1629.8 1226.9 1630.7 1227.9C1631.5 1228.9 1632.4 1229.9 1633.3 1230.9C1634.1 1231.9 1635.0 1232.8 1635.9 1233.8C1636.8 1234.7 1637.7 1235.7 1638.6 1236.6C1639.6 1237.5 1640.5 1238.4 1641.4 1239.3C1642.4 1240.3 1643.3 1241.1 1644.3 1242.0C1645.3 1242.9 1646.2 1243.8 1647.2 1244.6C1648.2 1245.5 1649.2 1246.3 1650.2 1247.1C1651.2 1248.0 1652.2 1248.8 1653.3 1249.6C1654.3 1250.4 1655.3 1251.2 1656.4 1251.9C1657.4 1252.7 1658.5 1253.4 1659.6 1254.2C1660.7 1254.9 1661.7 1255.6 1662.8 1256.3C1663.9 1257.0 1665.1 1257.7 1666.2 1258.4C1667.3 1259.1 1668.4 1259.7 1669.6 1260.4C1670.7 1261.0 1671.9 1261.6 1673.0 1262.3C1674.2 1262.9 1675.4 1263.5 1676.5 1264.0C1677.7 1264.6 1678.9 1265.2 1680.1 1265.7C1681.3 1266.3 1682.5 1266.8 1683.7 1267.4C1684.9 1267.9 1686.2 1268.4 1687.4 1268.9C1688.6 1269.4 1689.9 1269.9 1691.1 1270.4C1692.3 1270.9 1693.6 1271.3 1694.8 1271.8C1696.1 1272.2 1697.4 1272.7 1698.6 1273.1C1699.9 1273.6 1701.2 1274.0 1702.4 1274.4C1703.7 1274.8 1705.0 1275.2 1706.3 1275.6C1707.6 1276.0 1708.9 1276.4 1710.2 1276.8C1711.5 1277.1 1712.8 1277.5 1714.1 1277.8C1715.4 1278.2 1716.7 1278.6 1718.0 1278.9C1719.3 1279.2 1720.6 1279.6 1721.9 1279.9C1723.2 1280.2 1724.5 1280.5 1725.8 1280.9C1727.1 1281.2 1728.5 1281.5 1729.8 1281.8C1731.1 1282.1 1732.4 1282.4 1733.7 1282.7C1735.0 1282.9 1736.3 1283.2 1737.7 1283.5C1739.0 1283.8 1740.3 1284.1 1741.6 1284.3C1742.9 1284.6 1744.3 1284.8 1745.6 1285.1C1746.9 1285.4 1748.2 1285.6 1749.5 1285.8C1750.8 1286.1 1752.2 1286.3 1753.5 1286.6C1754.8 1286.8 1756.1 1287.0 1757.4 1287.3C1758.8 1287.5 1760.1 1287.7 1761.4 1287.9C1762.7 1288.1 1764.1 1288.3 1765.4 1288.5C1766.7 1288.8 1768.0 1289.0 1769.3 1289.2C1770.7 1289.3 1772.0 1289.5 1773.3 1289.7C1774.6 1289.9 1776.0 1290.1 1777.3 1290.3C1778.6 1290.5 1779.9 1290.6 1781.3 1290.8C1782.6 1291.0 1783.9 1291.2 1785.2 1291.3C1786.6 1291.5 1787.9 1291.6 1789.2 1291.8C1790.5 1292.0 1791.9 1292.1 1793.2 1292.3C1794.5 1292.4 1795.8 1292.6 1797.2 1292.7C1798.5 1292.9 1799.8 1293.0 1801.1 1293.1C1802.5 1293.3 1803.8 1293.4 1805.1 1293.5C1806.5 1293.7 1807.8 1293.8 1809.1 1293.9C1810.4 1294.1 1811.8 1294.2 1813.1 1294.3C1814.4 1294.4 1815.7 1294.6 1817.1 1294.7C1818.4 1294.8 1819.7 1294.9 1821.1 1295.0C1822.4 1295.1 1823.7 1295.2 1825.1 1295.3C1826.4 1295.4 1827.7 1295.6 1829.0 1295.7C1830.4 1295.8 1831.7 1295.9 1833.0 1296.0C1834.4 1296.1 1835.7 1296.2 1837.0 1296.3C1838.3 1296.4 1839.7 1296.4 1841.0 1296.5C1842.3 1296.6 1843.7 1296.7 1845.0 1296.8C1846.3 1296.9 1847.7 1297.0 1849.0 1297.1C1850.3 1297.2 1851.6 1297.3 1853.0 1297.4C1854.3 1297.4 1855.6 1297.5 1857.0 1297.6C1858.3 1297.7 1859.6 1297.8 1861.0 1297.9C1862.3 1297.9 1863.6 1298.0 1865.0 1298.1C1866.3 1298.2 1867.6 1298.3 1868.9 1298.4C1870.3 1298.4 1871.6 1298.5 1872.9 1298.6C1874.3 1298.7 1875.6 1298.8 1876.9 1298.8C1878.3 1298.9 1879.6 1299.0 1880.9 1299.1C1882.3 1299.2 1883.6 1299.2 1884.9 1299.3C1886.2 1299.4 1887.6 1299.5 1888.9 1299.6C1890.2 1299.7 1891.6 1299.7 1892.9 1299.8C1894.2 1299.9 1895.6 1300.0 1896.9 1300.1C1898.2 1300.2 1899.5 1300.2 1900.9 1300.3C1902.2 1300.4 1903.5 1300.5 1904.9 1300.6C1906.2 1300.7 1907.5 1300.8 1908.9 1300.8C1910.2 1300.9 1911.5 1301.0 1912.9 1301.1C1914.2 1301.2 1915.5 1301.3 1916.8 1301.4C1918.2 1301.4 1919.5 1301.5 1920.8 1301.6C1922.2 1301.7 1923.5 1301.8 1924.8 1301.9C1926.1 1302.0 1927.5 1302.1 1928.8 1302.1C1930.1 1302.2 1931.5 1302.3 1932.8 1302.4C1934.1 1302.5 1935.5 1302.6 1936.8 1302.7C1938.1 1302.8 1939.4 1302.8 1940.8 1302.9C1942.1 1303.0 1943.4 1303.1 1944.8 1303.2C1946.1 1303.3 1947.4 1303.4 1948.8 1303.5C1950.1 1303.6 1951.4 1303.6 1952.7 1303.7C1954.1 1303.8 1955.4 1303.9 1956.7 1304.0C1958.1 1304.1 1959.4 1304.2 1960.7 1304.2C1962.0 1304.3 1963.4 1304.4 1964.7 1304.5C1966.0 1304.6 1967.4 1304.7 1968.7 1304.8C1970.0 1304.9 1971.4 1304.9 1972.7 1305.0C1974.0 1305.1 1975.3 1305.2 1976.7 1305.3C1978.0 1305.4 1979.3 1305.4 1980.7 1305.5C1982.0 1305.6 1983.3 1305.7 1984.6 1305.8C1986.0 1305.9 1987.3 1305.9 1988.6 1306.0C1990.0 1306.1 1991.3 1306.2 1992.6 1306.3C1994.0 1306.3 1995.3 1306.4 1996.6 1306.5C1997.9 1306.6 1999.3 1306.7 2000.6 1306.7C2001.9 1306.8 2003.3 1306.9 2004.6 1307.0C2005.9 1307.0 2007.3 1307.1 2008.6 1307.2C2009.9 1307.3 2011.2 1307.3 2012.6 1307.4C2013.9 1307.5 2015.2 1307.6 2016.6 1307.6C2017.9 1307.7 2019.2 1307.8 2020.6 1307.8C2021.9 1307.9 2023.2 1308.0 2024.5 1308.0C2025.9 1308.1 2027.2 1308.2 2028.5 1308.2C2029.9 1308.3 2031.2 1308.4 2032.5 1308.4C2033.9 1308.5 2035.2 1308.6 2036.5 1308.6C2037.8 1308.7 2039.2 1308.8 2040.5 1308.8C2041.8 1308.9 2043.2 1308.9 2044.5 1309.0C2045.8 1309.1 2047.2 1309.1 2048.5 1309.2C2049.8 1309.2 2051.2 1309.3 2052.5 1309.3C2053.8 1309.4 2055.2 1309.4 2056.5 1309.5C2057.8 1309.5 2059.1 1309.6 2060.5 1309.6C2061.8 1309.7 2063.1 1309.7 2064.5 1309.8C2065.8 1309.8 2067.1 1309.9 2068.5 1309.9C2069.8 1310.0 2071.1 1310.0 2072.5 1310.0C2073.8 1310.1 2075.1 1310.1 2076.5 1310.2C2077.8 1310.2 2079.1 1310.2 2080.5 1310.3C2081.8 1310.3 2083.1 1310.3 2084.5 1310.4C2085.8 1310.4 2087.1 1310.4 2088.5 1310.5C2089.8 1310.5 2091.1 1310.5 2092.5 1310.5C2093.8 1310.6 2095.1 1310.6 2096.5 1310.6C2097.8 1310.6 2099.1 1310.6 2100.5 1310.7C2101.8 1310.7 2103.1 1310.7 2104.5 1310.7C2105.8 1310.7 2107.1 1310.7 2108.5 1310.8C2109.8 1310.8 2111.1 1310.8 2112.5 1310.8C2113.8 1310.8 2115.1 1310.8 2116.5 1310.8C2117.8 1310.8 2119.1 1310.8 2120.5 1310.8C2121.8 1310.8 2123.1 1310.8 2124.5 1310.8C2125.8 1310.8 2127.1 1310.8 2128.5 1310.8C2129.8 1310.8 2131.1 1310.8 2132.5 1310.8C2133.8 1310.8 2135.2 1310.8 2136.5 1310.7C2137.8 1310.7 2139.2 1310.7 2140.5 1310.7C2141.8 1310.7 2143.2 1310.6 2144.5 1310.6C2145.8 1310.6 2147.2 1310.6 2148.5 1310.6C2149.9 1310.5 2151.2 1310.5 2152.5 1310.5C2153.9 1310.4 2155.2 1310.4 2156.5 1310.4C2157.9 1310.4 2159.8 1310.5 2160.5 1310.5"/>
<path class="c" stroke-width="8" d="M369.0 210.0C369.7 210.1 371.6 210.4 372.9 210.5C374.2 210.6 375.6 210.5 376.9 210.4C378.3 210.4 379.6 210.4 380.9 210.4C382.3 210.4 383.6 210.3 385.0 210.3C386.3 210.3 387.6 210.3 389.0 210.3C390.3 210.2 391.6 210.2 393.0 210.2C394.3 210.2 395.6 210.2 397.0 210.2C398.3 210.1 399.7 210.1 401.0 210.1C402.3 210.1 403.7 210.1 405.0 210.1C406.3 210.1 407.7 210.0 409.0 210.0C410.3 210.0 411.7 210.0 413.0 210.0C414.3 210.0 415.7 210.0 417.0 209.9C418.4 209.9 419.7 209.9 421.0 209.9C422.4 209.9 423.7 209.9 425.0 209.9C426.4 209.9 427.7 209.9 429.0 209.8C430.4 209.8 431.7 209.8 433.0 209.8C434.4 209.8 435.7 209.8 437.1 209.8C438.4 209.8 439.7 209.8 441.1 209.8C442.4 209.8 443.7 209.8 445.1 209.7C446.4 209.7 447.7 209.7 449.1 209.7C450.4 209.7 451.7 209.7 453.1 209.7C454.4 209.7 455.7 209.7 457.1 209.7C458.4 209.7 459.7 209.7 461.1 209.7C462.4 209.7 463.7 209.7 465.1 209.7C466.4 209.7 467.7 209.7 469.1 209.7C470.4 209.7 471.8 209.7 473.1 209.7C474.4 209.7 475.8 209.7 477.1 209.7C478.4 209.7 479.8 209.7 481.1 209.6C482.4 209.6 483.8 209.6 485.1 209.6C486.4 209.7 487.8 209.7 489.1 209.7C490.4 209.7 491.8 209.7 493.1 209.7C494.4 209.7 495.8 209.7 497.1 209.7C498.4 209.7 499.8 209.7 501.1 209.7C502.4 209.7 503.8 209.7 505.1 209.7C506.4 209.7 507.8 209.7 509.1 209.7C510.4 209.7 511.8 209.7 513.1 209.7C514.4 209.7 515.8 209.7 517.1 209.7C518.4 209.7 519.8 209.7 521.1 209.7C522.4 209.7 523.8 209.7 525.1 209.8C526.4 209.8 527.8 209.8 529.1 209.8C530.4 209.8 531.8 209.8 533.1 209.8C534.4 209.8 535.8 209.8 537.1 209.8C538.4 209.8 539.8 209.8 541.1 209.8C542.4 209.9 543.8 209.9 545.1 209.9C546.4 209.9 547.8 209.9 549.1 209.9C550.4 209.9 551.8 209.9 553.1 209.9C554.4 209.9 555.8 209.9 557.1 210.0C558.4 210.0 559.8 210.0 561.1 210.0C562.4 210.0 563.8 210.0 565.1 210.0C566.4 210.0 567.7 210.0 569.1 210.1C570.4 210.1 571.7 210.1 573.1 210.1C574.4 210.1 575.7 210.1 577.1 210.1C578.4 210.2 579.7 210.2 581.1 210.2C582.4 210.2 583.7 210.2 585.1 210.2C586.4 210.2 587.7 210.2 589.1 210.3C590.4 210.3 591.7 210.3 593.1 210.3C594.4 210.3 595.7 210.3 597.1 210.4C598.4 210.4 599.7 210.4 601.1 210.4C602.4 210.4 603.7 210.4 605.1 210.4C606.4 210.5 607.7 210.5 609.1 210.5C610.4 210.5 611.7 210.5 613.1 210.5C614.4 210.6 615.7 210.6 617.1 210.6C618.4 210.6 619.7 210.6 621.0 210.6C622.4 210.7 623.7 210.7 625.0 210.7C626.4 210.7 627.7 210.7 629.0 210.8C630.4 210.8 631.7 210.8 633.0 210.8C634.4 210.8 635.7 210.8 637.0 210.9C638.4 210.9 639.7 210.9 641.0 210.9C642.4 210.9 643.7 211.0 645.0 211.0C646.4 211.0 647.7 211.0 649.0 211.0C650.4 211.1 651.7 211.1 653.0 211.1C654.4 211.1 655.7 211.1 657.0 211.2C658.4 211.2 659.7 211.2 661.0 211.2C662.4 211.2 663.7 211.3 665.0 211.3C666.4 211.3 667.7 211.3 669.0 211.4C670.4 211.4 671.7 211.4 673.0 211.4C674.3 211.4 675.7 211.5 677.0 211.5C678.3 211.5 679.7 211.5 681.0 211.5C682.3 211.6 683.7 211.6 685.0 211.6C686.3 211.6 687.7 211.7 689.0 211.7C690.3 211.7 691.7 211.7 693.0 211.7C694.3 211.8 695.7 211.8 697.0 211.8C698.3 211.8 699.7 211.9 701.0 211.9C702.3 211.9 703.7 211.9 705.0 212.0C706.3 212.0 707.7 212.0 709.0 212.0C710.3 212.0 711.7 212.1 713.0 212.1C714.3 212.1 715.7 212.1 717.0 212.2C718.3 212.2 719.7 212.2 721.0 212.2C722.3 212.3 723.7 212.3 725.0 212.3C726.3 212.3 727.7 212.4 729.0 212.4C730.3 212.4 731.7 212.4 733.0 212.5C734.3 212.5 735.7 212.5 737.0 212.5C738.3 212.6 739.7 212.6 741.0 212.6C742.3 212.6 743.7 212.7 745.0 212.7C746.3 212.7 747.7 212.7 749.0 212.7C750.3 212.8 751.7 212.8 753.0 212.8C754.3 212.8 755.7 212.9 757.0 212.9C758.3 212.9 759.7 212.9 761.0 213.0C762.3 213.0 763.7 213.0 765.0 213.0C766.3 213.1 767.7 213.1 769.0 213.1C770.3 213.1 771.7 213.2 773.0 213.2C774.3 213.2 775.7 213.2 777.0 213.3C778.3 213.3 779.7 213.3 781.0 213.3C782.3 213.4 783.7 213.4 785.0 213.4C786.3 213.4 787.7 213.5 789.0 213.5C790.3 213.5 791.7 213.5 793.0 213.6C794.3 213.6 795.7 213.6 797.0 213.6C798.4 213.7 799.7 213.7 801.0 213.7C802.4 213.7 803.7 213.8 805.0 213.8C806.4 213.8 807.7 213.8 809.0 213.9C810.4 213.9 811.7 213.9 813.0 213.9C814.4 214.0 815.7 214.0 817.0 214.0C818.4 214.0 819.7 214.1 821.0 214.1C822.4 214.1 823.7 214.1 825.0 214.2C826.4 214.2 827.7 214.2 829.1 214.2C830.4 214.3 831.7 214.3 833.1 214.3C834.4 214.3 835.7 214.4 837.1 214.4C838.4 214.4 839.7 214.4 841.1 214.5C842.4 214.5 843.7 214.5 845.1 214.5C846.4 214.6 847.8 214.6 849.1 214.6C850.4 214.6 851.8 214.7 853.1 214.7C854.4 214.7 855.8 214.7 857.1 214.8C858.4 214.8 859.8 214.8 861.1 214.8C862.5 214.8 863.8 214.9 865.1 214.9C866.5 214.9 867.8 214.9 869.1 215.0C870.5 215.0 871.8 215.0 873.1 215.0C874.5 215.1 875.8 215.1 877.2 215.1C878.5 215.1 879.8 215.1 881.2 215.2C882.5 215.2 883.8 215.2 885.2 215.2C886.5 215.3 887.9 215.3 889.2 215.3C890.5 215.3 891.9 215.4 893.2 215.4C894.5 215.4 895.9 215.4 897.2 215.5C898.5 215.5 899.9 215.5 901.2 215.6C902.6 215.6 903.9 215.6 905.2 215.7C906.6 215.7 907.9 215.7 909.2 215.8C910.6 215.8 911.9 215.9 913.2 215.9C914.6 216.0 915.9 216.0 917.2 216.1C918.6 216.1 919.9 216.2 921.2 216.2C922.6 216.3 923.9 216.3 925.2 216.4C926.6 216.4 927.9 216.5 929.2 216.6C930.6 216.6 931.9 216.7 933.2 216.8C934.6 216.9 935.9 216.9 937.2 217.0C938.6 217.1 939.9 217.2 941.2 217.3C942.5 217.4 943.9 217.5 945.2 217.6C946.5 217.7 947.9 217.8 949.2 217.9C950.5 218.0 951.8 218.1 953.2 218.2C954.5 218.3 955.8 218.4 957.1 218.6C958.5 218.7 959.8 218.8 961.1 219.0C962.4 219.1 963.8 219.2 965.1 219.4C966.4 219.5 967.7 219.7 969.0 219.9C970.4 220.0 971.7 220.2 973.0 220.4C974.3 220.5 975.6 220.7 977.0 220.9C978.3 221.1 979.6 221.3 980.9 221.5C982.2 221.7 983.5 221.9 984.8 222.1C986.2 222.3 987.5 222.5 988.8 222.7C990.1 223.0 991.4 223.2 992.7 223.4C994.0 223.7 995.3 223.9 996.6 224.2C997.9 224.4 999.2 224.7 1000.6 225.0C1001.9 225.2 1003.2 225.4 1004.5 225.8C1005.8 226.1 1007.0 226.6 1008.3 227.0C1009.6 227.3 1010.9 227.5 1012.2 227.8C1013.5 228.0 1014.8 228.3 1016.1 228.5C1017.4 228.8 1018.7 229.2 1020.0 229.5C1021.3 229.9 1022.6 230.3 1023.8 230.8C1025.1 231.2 1026.3 231.9 1027.6 232.2C1028.9 232.5 1030.4 232.1 1031.7 232.5C1033.0 232.9 1034.1 233.8 1035.3 234.4C1036.5 235.0 1037.7 235.6 1038.9 236.0C1040.2 236.3 1041.6 236.4 1042.9 236.6C1044.3 236.9 1045.6 237.1 1046.9 237.4C1048.2 237.7 1049.7 237.7 1050.8 238.4C1052.0 239.1 1052.7 240.9 1053.8 241.7C1054.9 242.5 1056.2 242.8 1057.4 243.3C1058.7 243.7 1060.1 243.9 1061.3 244.4C1062.5 244.9 1063.7 245.6 1064.9 246.1C1066.1 246.7 1067.4 247.1 1068.5 247.7C1069.7 248.3 1070.7 249.3 1071.9 249.8C1073.2 250.2 1074.9 249.8 1076.1 250.3C1077.4 250.7 1078.5 251.6 1079.5 252.4C1080.6 253.2 1081.3 254.6 1082.4 255.3C1083.5 256.1 1084.8 256.5 1086.0 257.1C1087.2 257.7 1088.3 258.3 1089.6 258.8C1090.9 259.2 1092.5 259.1 1093.6 259.8C1094.8 260.4 1095.4 261.8 1096.4 262.8C1097.4 263.8 1098.2 264.8 1099.3 265.5C1100.4 266.3 1101.8 266.6 1102.9 267.3C1104.0 268.1 1104.8 269.2 1105.8 270.1C1106.8 270.9 1108.0 271.6 1109.0 272.4C1109.9 273.3 1110.6 274.6 1111.7 275.3C1112.8 276.1 1114.3 276.3 1115.6 276.8C1116.8 277.4 1118.3 277.6 1119.3 278.5C1120.4 279.4 1120.8 280.9 1121.6 282.0C1122.4 283.1 1123.5 283.9 1124.4 284.9C1125.3 285.8 1126.0 287.0 1127.1 287.8C1128.1 288.6 1129.6 289.0 1130.6 289.9C1131.7 290.7 1132.5 291.7 1133.3 292.8C1134.1 293.9 1134.5 295.3 1135.4 296.3C1136.3 297.3 1137.9 297.7 1138.8 298.6C1139.8 299.5 1140.5 300.7 1141.3 301.8C1142.1 302.9 1143.0 303.9 1143.6 305.1C1144.3 306.3 1144.6 307.8 1145.3 308.9C1146.1 310.0 1147.0 310.9 1148.2 311.8C1149.3 312.6 1151.1 312.9 1152.1 313.8C1153.1 314.8 1153.4 316.3 1154.1 317.4C1154.8 318.5 1155.7 319.6 1156.4 320.7C1157.2 321.9 1157.6 323.2 1158.4 324.3C1159.2 325.4 1160.4 326.2 1161.2 327.3C1162.0 328.4 1162.7 329.6 1163.2 330.9C1163.8 332.1 1163.7 333.8 1164.5 334.9C1165.2 336.0 1166.7 336.7 1167.7 337.7C1168.6 338.7 1169.3 339.9 1170.0 341.1C1170.7 342.2 1171.6 343.3 1172.1 344.6C1172.6 345.9 1172.5 347.5 1173.0 348.8C1173.4 350.1 1174.0 351.3 1174.9 352.4C1175.7 353.4 1177.3 354.1 1178.1 355.2C1179.0 356.3 1179.1 357.7 1179.8 358.9C1180.4 360.1 1181.3 361.2 1182.0 362.3C1182.7 363.5 1183.1 364.8 1183.8 366.0C1184.5 367.1 1185.6 368.1 1186.3 369.2C1186.9 370.4 1187.4 371.7 1187.7 373.1C1187.9 374.4 1187.5 376.1 1188.0 377.4C1188.5 378.7 1189.8 379.5 1190.6 380.6C1191.4 381.7 1192.0 382.9 1192.8 384.0C1193.5 385.1 1194.5 386.1 1195.0 387.3C1195.5 388.6 1195.6 390.0 1196.0 391.3C1196.3 392.6 1196.6 394.0 1197.3 395.1C1198.0 396.2 1199.5 397.0 1200.2 398.1C1200.8 399.2 1200.9 400.7 1201.5 401.9C1202.0 403.1 1202.7 404.2 1203.4 405.3C1204.1 406.4 1204.7 407.6 1205.5 408.7C1206.3 409.7 1207.4 410.6 1208.3 411.6C1209.1 412.6 1210.3 413.4 1210.8 414.6C1211.3 415.9 1210.8 417.7 1211.2 419.0C1211.6 420.2 1212.5 421.3 1213.2 422.4C1214.0 423.4 1214.8 424.4 1215.7 425.4C1216.5 426.4 1217.4 427.4 1218.3 428.4C1219.1 429.4 1220.0 430.3 1220.7 431.4C1221.4 432.5 1221.6 434.1 1222.4 435.1C1223.3 436.1 1224.8 436.5 1225.8 437.4C1226.8 438.2 1227.6 439.3 1228.4 440.3C1229.1 441.4 1229.6 442.8 1230.3 443.9C1231.1 444.9 1232.0 445.9 1232.9 446.8C1233.8 447.8 1234.6 448.8 1235.7 449.6C1236.9 450.3 1238.6 450.4 1239.7 451.2C1240.7 452.0 1241.3 453.3 1242.0 454.5C1242.7 455.6 1243.3 457.0 1244.1 458.0C1245.0 459.0 1246.2 459.7 1247.1 460.6C1248.1 461.5 1248.9 462.6 1249.8 463.5C1250.8 464.4 1252.1 464.9 1253.0 465.9C1253.9 466.9 1254.4 468.4 1255.4 469.3C1256.4 470.2 1257.7 470.7 1259.0 471.3C1260.2 471.9 1261.7 472.1 1262.8 472.9C1263.9 473.7 1264.5 475.0 1265.4 476.0C1266.3 477.0 1267.4 477.9 1268.3 478.8C1269.3 479.8 1270.0 481.1 1271.1 481.8C1272.2 482.5 1273.9 482.6 1275.1 483.2C1276.4 483.8 1277.5 484.5 1278.5 485.4C1279.5 486.3 1280.1 487.7 1281.2 488.6C1282.2 489.4 1283.6 489.8 1284.7 490.5C1285.9 491.3 1286.8 492.3 1287.9 493.1C1288.9 494.0 1290.2 494.5 1291.2 495.4C1292.2 496.4 1292.7 498.0 1293.7 498.9C1294.7 499.8 1296.0 500.4 1297.3 500.9C1298.6 501.4 1300.3 501.3 1301.5 501.8C1302.8 502.4 1303.7 503.4 1304.8 504.2C1305.9 505.0 1307.1 505.7 1308.1 506.6C1309.1 507.5 1309.9 508.8 1311.0 509.6C1312.1 510.3 1313.7 510.4 1314.9 511.0C1316.1 511.6 1317.2 512.3 1318.3 513.2C1319.3 514.0 1320.1 515.4 1321.2 516.2C1322.3 516.9 1323.8 517.1 1325.0 517.7C1326.2 518.3 1327.3 519.1 1328.5 519.7C1329.6 520.4 1331.0 520.7 1332.0 521.6C1333.1 522.5 1333.6 524.1 1334.6 525.1C1335.5 526.1 1336.5 527.0 1337.7 527.6C1338.9 528.2 1340.6 528.1 1341.8 528.6C1343.1 529.1 1344.1 530.0 1345.2 530.6C1346.4 531.3 1347.7 531.7 1348.8 532.5C1349.9 533.2 1350.7 534.4 1351.8 535.1C1352.9 535.8 1354.3 536.1 1355.5 536.7C1356.7 537.2 1358.0 537.7 1359.0 538.6C1360.0 539.5 1360.4 541.2 1361.4 542.1C1362.4 543.0 1363.7 543.4 1364.9 544.0C1366.0 544.7 1367.2 545.4 1368.4 545.9C1369.6 546.5 1371.0 546.7 1372.1 547.4C1373.3 548.1 1374.2 549.2 1375.0 550.2C1375.9 551.2 1376.4 552.8 1377.5 553.6C1378.5 554.5 1380.0 554.6 1381.2 555.2C1382.3 555.9 1383.3 556.8 1384.3 557.6C1385.4 558.4 1386.6 559.1 1387.6 559.9C1388.7 560.7 1389.6 561.6 1390.7 562.4C1391.8 563.2 1392.9 563.9 1394.1 564.5C1395.3 565.1 1397.0 565.2 1398.0 566.0C1399.0 566.9 1399.4 568.6 1400.1 569.8C1400.9 570.9 1401.8 571.9 1402.7 572.9C1403.7 573.9 1404.7 574.8 1405.7 575.6C1406.8 576.4 1408.1 577.0 1409.2 577.8C1410.3 578.6 1411.5 579.3 1412.4 580.3C1413.2 581.4 1413.4 583.1 1414.3 584.1C1415.2 585.1 1416.7 585.5 1417.7 586.4C1418.7 587.3 1419.5 588.3 1420.4 589.4C1421.3 590.4 1422.1 591.5 1422.9 592.6C1423.6 593.7 1424.3 594.9 1425.2 595.9C1426.0 596.9 1426.8 598.0 1427.9 598.9C1429.0 599.7 1430.9 600.0 1431.8 600.9C1432.8 601.9 1433.0 603.4 1433.5 604.7C1434.1 605.9 1434.6 607.2 1435.2 608.4C1435.7 609.6 1436.3 610.8 1437.0 612.0C1437.6 613.2 1438.4 614.2 1439.1 615.4C1439.9 616.5 1440.9 617.4 1441.4 618.6C1441.9 619.9 1441.6 621.5 1442.2 622.7C1442.7 624.0 1443.9 624.9 1444.7 626.0C1445.5 627.1 1446.3 628.2 1446.8 629.4C1447.4 630.6 1447.7 631.9 1448.1 633.2C1448.5 634.5 1448.7 635.9 1449.1 637.2C1449.4 638.5 1449.3 640.0 1450.0 641.1C1450.7 642.2 1452.5 642.9 1453.3 644.0C1454.2 645.1 1454.5 646.3 1455.1 647.5C1455.6 648.7 1455.9 650.1 1456.4 651.3C1457.0 652.4 1457.7 653.5 1458.3 654.7C1458.9 655.8 1459.4 657.1 1460.2 658.1C1460.9 659.2 1462.2 659.9 1462.8 661.1C1463.5 662.2 1463.5 663.9 1464.1 665.1C1464.8 666.2 1465.7 667.2 1466.7 668.1C1467.8 668.9 1469.3 669.4 1470.4 670.2C1471.5 671.0 1472.3 672.0 1473.2 673.0C1474.1 674.0 1475.1 674.9 1475.8 676.0C1476.5 677.2 1476.5 678.8 1477.3 679.9C1478.0 681.0 1479.3 681.7 1480.3 682.6C1481.3 683.5 1482.4 684.4 1483.2 685.4C1483.9 686.5 1484.1 688.0 1484.8 689.1C1485.5 690.3 1486.5 691.2 1487.2 692.3C1488.0 693.4 1488.5 694.6 1489.3 695.7C1490.1 696.8 1491.4 697.5 1492.0 698.7C1492.6 699.9 1492.8 701.4 1493.1 702.7C1493.5 704.0 1493.4 705.6 1494.1 706.8C1494.8 707.9 1496.2 708.6 1497.1 709.6C1498.0 710.6 1498.7 711.7 1499.6 712.7C1500.4 713.8 1501.6 714.6 1502.2 715.8C1502.9 716.9 1503.0 718.4 1503.6 719.6C1504.2 720.8 1505.0 721.9 1505.8 723.0C1506.6 724.0 1508.0 724.7 1508.6 725.9C1509.3 727.0 1509.2 728.6 1509.8 729.9C1510.3 731.1 1511.1 732.1 1511.8 733.3C1512.5 734.4 1513.1 735.6 1513.9 736.7C1514.8 737.7 1516.1 738.4 1517.0 739.5C1517.8 740.5 1518.5 741.7 1519.0 743.0C1519.4 744.3 1519.0 746.1 1519.5 747.3C1520.0 748.6 1521.1 749.5 1521.8 750.6C1522.6 751.6 1523.2 752.8 1524.0 753.9C1524.8 755.0 1525.9 755.9 1526.6 757.0C1527.3 758.1 1527.8 759.4 1528.4 760.6C1529.1 761.7 1529.6 763.0 1530.5 764.0C1531.4 765.0 1533.1 765.5 1533.8 766.6C1534.6 767.7 1534.7 769.3 1535.1 770.5C1535.6 771.8 1536.1 773.1 1536.6 774.3C1537.1 775.5 1537.6 776.8 1538.3 777.9C1539.1 779.0 1540.1 780.0 1541.1 780.9C1542.0 781.9 1543.3 782.7 1543.9 783.9C1544.5 785.1 1544.3 786.8 1544.8 788.1C1545.3 789.3 1546.2 790.3 1546.9 791.4C1547.6 792.6 1548.3 793.7 1549.0 794.8C1549.7 796.0 1550.5 797.1 1551.1 798.2C1551.8 799.4 1552.4 800.6 1553.0 801.8C1553.6 803.0 1553.8 804.4 1554.7 805.4C1555.6 806.4 1557.5 806.9 1558.4 807.8C1559.4 808.8 1559.9 810.1 1560.5 811.3C1561.1 812.5 1561.5 813.8 1562.0 815.1C1562.5 816.3 1562.8 817.7 1563.4 818.9C1564.0 820.1 1564.6 821.3 1565.4 822.3C1566.3 823.4 1567.8 824.0 1568.5 825.2C1569.2 826.3 1569.1 827.9 1569.6 829.1C1570.2 830.3 1571.1 831.4 1571.9 832.5C1572.6 833.5 1573.6 834.5 1574.4 835.6C1575.1 836.7 1575.8 837.9 1576.5 839.0C1577.1 840.2 1577.8 841.3 1578.3 842.6C1578.7 843.9 1578.6 845.6 1579.3 846.7C1580.1 847.8 1581.7 848.3 1582.7 849.3C1583.8 850.2 1584.8 851.2 1585.5 852.2C1586.3 853.3 1586.8 854.6 1587.4 855.8C1588.0 857.0 1588.6 858.2 1589.2 859.4C1589.8 860.6 1590.1 862.0 1590.8 863.1C1591.6 864.2 1593.0 864.9 1593.7 866.0C1594.4 867.2 1594.4 868.8 1594.9 870.0C1595.4 871.3 1595.9 872.5 1596.7 873.6C1597.5 874.7 1598.7 875.5 1599.6 876.5C1600.5 877.5 1601.3 878.6 1602.1 879.6C1603.0 880.7 1603.9 881.6 1604.5 882.9C1605.0 884.2 1604.7 885.9 1605.2 887.2C1605.8 888.4 1607.0 889.2 1607.9 890.2C1608.8 891.2 1610.0 892.0 1610.8 893.1C1611.7 894.1 1612.2 895.4 1612.9 896.5C1613.6 897.6 1614.5 898.6 1615.2 899.8C1615.9 900.9 1616.2 902.3 1617.0 903.4C1617.8 904.4 1619.3 905.1 1620.1 906.2C1620.8 907.3 1621.0 908.7 1621.4 910.1C1621.8 911.4 1621.9 912.9 1622.6 914.1C1623.2 915.3 1624.4 916.1 1625.3 917.1C1626.2 918.1 1627.0 919.1 1628.0 920.1C1629.0 921.1 1630.3 921.8 1631.0 922.9C1631.7 924.0 1631.7 925.7 1632.3 926.9C1632.9 928.1 1633.6 929.2 1634.5 930.2C1635.4 931.2 1636.6 932.0 1637.4 933.0C1638.2 934.1 1638.6 935.5 1639.3 936.6C1640.0 937.7 1641.0 938.7 1641.7 939.8C1642.4 940.9 1642.8 942.3 1643.7 943.3C1644.6 944.3 1646.2 944.8 1647.1 945.8C1648.1 946.7 1648.9 947.8 1649.4 949.0C1650.0 950.3 1649.9 952.0 1650.4 953.2C1651.0 954.5 1652.0 955.4 1652.8 956.5C1653.6 957.5 1654.3 958.7 1655.3 959.6C1656.2 960.6 1657.7 961.1 1658.6 962.1C1659.5 963.1 1659.9 964.4 1660.7 965.5C1661.4 966.6 1662.1 967.8 1663.1 968.7C1664.1 969.6 1665.6 970.0 1666.6 970.9C1667.5 971.9 1668.0 973.2 1668.8 974.3C1669.6 975.4 1670.4 976.4 1671.2 977.5C1672.0 978.6 1672.4 980.0 1673.3 981.0C1674.3 981.9 1675.6 982.5 1676.8 983.2C1678.0 983.9 1679.4 984.3 1680.4 985.3C1681.3 986.2 1681.5 987.9 1682.3 989.0C1683.1 990.1 1684.1 990.9 1685.0 991.9C1685.9 992.9 1686.7 994.1 1687.7 994.9C1688.7 995.8 1690.1 996.3 1691.1 997.2C1692.2 998.0 1693.1 999.0 1694.0 999.9C1695.0 1000.9 1695.6 1002.2 1696.8 1002.9C1698.0 1003.6 1699.7 1003.4 1701.0 1004.0C1702.2 1004.5 1703.2 1005.4 1704.3 1006.2C1705.3 1007.0 1706.4 1007.7 1707.4 1008.7C1708.4 1009.6 1709.1 1010.9 1710.1 1011.7C1711.1 1012.6 1712.2 1013.4 1713.5 1013.8C1714.7 1014.3 1716.4 1014.0 1717.6 1014.6C1718.8 1015.1 1719.6 1016.3 1720.7 1017.1C1721.9 1017.8 1723.1 1018.3 1724.3 1018.9C1725.4 1019.4 1726.6 1020.0 1727.8 1020.5C1729.0 1021.0 1730.3 1021.4 1731.6 1021.9C1732.8 1022.3 1734.1 1022.6 1735.2 1023.3C1736.4 1024.0 1737.3 1025.5 1738.5 1026.0C1739.7 1026.5 1741.3 1026.1 1742.6 1026.2C1744.0 1026.2 1745.4 1026.1 1746.8 1026.3C1748.1 1026.5 1749.4 1026.7 1750.7 1027.1C1751.9 1027.5 1753.2 1028.1 1754.4 1028.6C1755.6 1029.2 1756.7 1030.3 1758.0 1030.6C1759.3 1030.9 1760.9 1030.2 1762.2 1030.4C1763.5 1030.6 1764.7 1031.4 1766.0 1031.9C1767.3 1032.3 1768.6 1032.8 1769.9 1033.1C1771.2 1033.4 1772.6 1033.5 1773.9 1033.6C1775.3 1033.7 1776.6 1033.8 1778.0 1033.9C1779.3 1034.0 1780.8 1033.7 1782.1 1034.2C1783.3 1034.6 1784.4 1036.2 1785.7 1036.7C1787.0 1037.2 1788.4 1037.1 1789.8 1037.2C1791.1 1037.2 1792.5 1037.0 1793.9 1037.0C1795.3 1037.0 1796.6 1037.1 1798.0 1037.2C1799.3 1037.4 1800.7 1037.5 1802.0 1037.9C1803.3 1038.3 1804.5 1039.2 1805.8 1039.4C1807.1 1039.6 1808.6 1038.9 1810.0 1039.1C1811.3 1039.3 1812.5 1040.1 1813.7 1040.7C1815.0 1041.3 1816.2 1042.0 1817.5 1042.4C1818.8 1042.9 1820.1 1043.0 1821.4 1043.2C1822.8 1043.3 1824.1 1043.4 1825.5 1043.4C1826.8 1043.4 1828.3 1042.8 1829.6 1043.1C1830.9 1043.4 1832.0 1044.8 1833.2 1045.3C1834.5 1045.8 1835.8 1046.1 1837.1 1046.3C1838.4 1046.6 1839.8 1046.4 1841.1 1046.6C1842.4 1046.8 1843.7 1047.1 1845.0 1047.3C1846.3 1047.5 1847.7 1047.5 1849.0 1047.8C1850.3 1048.1 1851.5 1049.0 1852.8 1049.2C1854.1 1049.3 1855.6 1048.6 1856.9 1048.6C1858.3 1048.6 1859.6 1048.8 1860.9 1049.2C1862.1 1049.7 1863.3 1050.7 1864.6 1051.2C1865.8 1051.7 1867.1 1051.9 1868.4 1052.2C1869.7 1052.5 1871.0 1052.8 1872.4 1052.9C1873.7 1052.9 1875.1 1052.4 1876.5 1052.5C1877.8 1052.6 1879.1 1053.1 1880.4 1053.4C1881.7 1053.7 1883.0 1054.0 1884.3 1054.1C1885.6 1054.3 1886.9 1054.2 1888.3 1054.4C1889.6 1054.5 1890.9 1054.8 1892.2 1055.0C1893.5 1055.1 1894.9 1055.3 1896.2 1055.4C1897.5 1055.6 1898.8 1055.8 1900.1 1055.9C1901.5 1056.1 1902.8 1056.2 1904.1 1056.4C1905.4 1056.5 1906.8 1056.7 1908.1 1056.8C1909.4 1056.9 1910.7 1057.1 1912.1 1057.2C1913.4 1057.3 1914.7 1057.5 1916.0 1057.6C1917.4 1057.7 1918.7 1057.8 1920.0 1058.0C1921.3 1058.1 1922.7 1058.2 1924.0 1058.3C1925.3 1058.4 1926.7 1058.5 1928.0 1058.6C1929.3 1058.7 1930.6 1058.8 1932.0 1058.9C1933.3 1059.0 1934.6 1059.1 1936.0 1059.2C1937.3 1059.3 1938.6 1059.4 1940.0 1059.5C1941.3 1059.6 1942.6 1059.7 1943.9 1059.8C1945.3 1059.9 1946.6 1059.9 1947.9 1060.0C1949.3 1060.1 1950.6 1060.2 1951.9 1060.2C1953.3 1060.3 1954.6 1060.4 1955.9 1060.4C1957.3 1060.5 1958.6 1060.6 1959.9 1060.6C1961.3 1060.7 1962.6 1060.7 1964.0 1060.8C1965.3 1060.9 1966.6 1060.9 1968.0 1061.0C1969.3 1061.0 1970.6 1061.1 1972.0 1061.1C1973.3 1061.2 1974.6 1061.2 1976.0 1061.2C1977.3 1061.3 1978.6 1061.3 1980.0 1061.4C1981.3 1061.4 1982.6 1061.4 1984.0 1061.5C1985.3 1061.5 1986.7 1061.5 1988.0 1061.6C1989.3 1061.6 1990.7 1061.6 1992.0 1061.6C1993.3 1061.7 1994.7 1061.7 1996.0 1061.7C1997.3 1061.7 1998.7 1061.8 2000.0 1061.8C2001.4 1061.8 2002.7 1061.8 2004.0 1061.8C2005.4 1061.8 2006.7 1061.8 2008.0 1061.8C2009.4 1061.9 2010.7 1061.9 2012.0 1061.9C2013.4 1061.9 2014.7 1061.9 2016.0 1061.9C2017.4 1061.9 2018.7 1061.9 2020.1 1061.9C2021.4 1061.9 2022.7 1061.9 2024.1 1061.9C2025.4 1061.9 2026.7 1061.9 2028.1 1061.9C2029.4 1061.9 2030.7 1061.8 2032.1 1061.8C2033.4 1061.8 2034.7 1061.8 2036.1 1061.8C2037.4 1061.8 2038.7 1061.8 2040.1 1061.8C2041.4 1061.7 2042.7 1061.7 2044.1 1061.7C2045.4 1061.7 2046.7 1061.7 2048.1 1061.7C2049.4 1061.6 2050.7 1061.6 2052.1 1061.6C2053.4 1061.6 2054.7 1061.6 2056.1 1061.5C2057.4 1061.5 2058.7 1061.5 2060.1 1061.5C2061.4 1061.4 2062.7 1061.4 2064.0 1061.4C2065.4 1061.3 2066.7 1061.3 2068.0 1061.3C2069.4 1061.3 2070.7 1061.2 2072.0 1061.2C2073.3 1061.2 2074.7 1061.1 2076.0 1061.1C2077.3 1061.1 2078.6 1061.0 2080.0 1061.0C2081.3 1061.0 2082.6 1060.9 2083.9 1060.9C2085.3 1060.9 2087.3 1061.0 2088.0 1061.0"/>
<path class="c" stroke-width="8" style="stroke-linecap:butt" d="M366.5 210.5C367.2 210.5 369.2 210.3 370.6 210.2C371.9 210.2 373.2 210.3 374.6 210.3C375.9 210.3 377.2 210.3 378.6 210.4C379.9 210.4 381.2 210.4 382.5 210.4C383.9 210.4 385.2 210.5 386.5 210.5C387.9 210.5 389.2 210.5 390.5 210.5C391.9 210.5 393.2 210.6 394.5 210.6C395.9 210.6 397.2 210.6 398.5 210.6C399.9 210.6 401.2 210.6 402.5 210.6C403.9 210.7 405.2 210.7 406.5 210.7C407.9 210.7 409.2 210.7 410.5 210.7C411.9 210.7 413.2 210.7 414.5 210.7C415.9 210.7 417.2 210.7 418.5 210.7C419.9 210.7 421.2 210.8 422.5 210.8C423.9 210.8 425.2 210.8 426.5 210.8C427.9 210.8 429.2 210.8 430.5 210.8C431.9 210.8 433.2 210.8 434.5 210.8C435.9 210.8 437.2 210.8 438.5 210.8C439.9 210.8 441.2 210.8 442.5 210.8C443.9 210.8 445.2 210.8 446.6 210.8C447.9 210.8 449.2 210.8 450.6 210.8C451.9 210.8 453.2 210.8 454.6 210.8C455.9 210.8 457.2 210.8 458.6 210.8C459.9 210.8 461.2 210.8 462.6 210.8C463.9 210.8 465.3 210.7 466.6 210.7C467.9 210.7 469.3 210.7 470.6 210.7C471.9 210.7 473.3 210.7 474.6 210.7C475.9 210.7 477.3 210.7 478.6 210.7C480.0 210.7 481.3 210.7 482.6 210.7C484.0 210.7 485.3 210.7 486.6 210.7C488.0 210.7 489.3 210.7 490.7 210.6C492.0 210.6 493.3 210.6 494.7 210.6C496.0 210.6 497.3 210.6 498.7 210.6C500.0 210.6 501.4 210.6 502.7 210.6C504.0 210.6 505.4 210.6 506.7 210.6C508.0 210.6 509.4 210.6 510.7 210.6C512.1 210.6 513.4 210.6 514.7 210.5C516.1 210.5 517.4 210.5 518.7 210.5C520.1 210.5 521.4 210.5 522.8 210.5C524.1 210.5 525.4 210.5 526.8 210.5C528.1 210.5 529.4 210.5 530.8 210.5C532.1 210.5 533.5 210.5 534.8 210.5C536.1 210.5 537.5 210.5 538.8 210.5C540.1 210.5 541.5 210.5 542.8 210.5C544.2 210.5 545.5 210.5 546.8 210.5C548.2 210.5 549.5 210.5 550.8 210.5C552.2 210.5 553.5 210.5 554.9 210.5C556.2 210.5 557.5 210.5 558.9 210.5C560.2 210.5 561.5 210.5 562.9 210.5C564.2 210.5 565.6 210.5 566.9 210.5C568.2 210.5 569.6 210.5 570.9 210.5C572.2 210.5 573.6 210.5 574.9 210.5C576.2 210.5 577.6 210.5 578.9 210.5C580.3 210.5 581.6 210.5 582.9 210.5C584.3 210.5 585.6 210.6 586.9 210.6C588.3 210.6 589.6 210.6 591.0 210.6C592.3 210.6 593.6 210.6 595.0 210.6C596.3 210.6 597.6 210.7 599.0 210.7C600.3 210.7 601.6 210.7 603.0 210.7C604.3 210.7 605.6 210.7 607.0 210.8C608.3 210.8 609.7 210.8 611.0 210.8C612.3 210.8 613.7 210.8 615.0 210.9C616.3 210.9 617.7 210.9 619.0 210.9C620.3 211.0 621.7 211.0 623.0 211.0C624.3 211.0 625.7 211.0 627.0 211.1C628.3 211.1 629.7 211.1 631.0 211.2C632.3 211.2 633.7 211.2 635.0 211.2C636.3 211.3 637.7 211.3 639.0 211.3C640.3 211.4 641.7 211.4 643.0 211.4C644.3 211.5 645.7 211.5 647.0 211.5C648.3 211.6 649.7 211.6 651.0 211.6C652.3 211.7 653.7 211.7 655.0 211.8C656.3 211.8 657.7 211.8 659.0 211.9C660.3 211.9 661.7 211.9 663.0 212.0C664.3 212.0 665.7 212.1 667.0 212.1C668.3 212.2 669.7 212.2 671.0 212.2C672.3 212.3 673.7 212.3 675.0 212.4C676.3 212.4 677.7 212.5 679.0 212.5C680.3 212.6 681.7 212.6 683.0 212.7C684.3 212.7 685.7 212.8 687.0 212.8C688.3 212.9 689.6 212.9 691.0 213.0C692.3 213.0 693.6 213.1 695.0 213.1C696.3 213.2 697.6 213.2 699.0 213.3C700.3 213.3 701.6 213.4 703.0 213.4C704.3 213.5 705.6 213.6 707.0 213.6C708.3 213.7 709.6 213.7 710.9 213.8C712.3 213.8 713.6 213.9 714.9 214.0C716.3 214.0 717.6 214.1 718.9 214.1C720.3 214.2 721.6 214.2 722.9 214.3C724.3 214.4 725.6 214.4 726.9 214.5C728.3 214.6 729.6 214.6 730.9 214.7C732.2 214.7 733.6 214.8 734.9 214.9C736.2 214.9 737.6 215.0 738.9 215.1C740.2 215.1 741.6 215.2 742.9 215.2C744.2 215.3 745.6 215.4 746.9 215.4C748.2 215.5 749.5 215.6 750.9 215.6C752.2 215.7 753.5 215.8 754.9 215.8C756.2 215.9 757.5 216.0 758.9 216.0C760.2 216.1 761.5 216.2 762.9 216.2C764.2 216.3 765.5 216.4 766.9 216.4C768.2 216.5 769.5 216.6 770.8 216.6C772.2 216.7 773.5 216.8 774.8 216.8C776.2 216.9 777.5 217.0 778.8 217.1C780.2 217.1 781.5 217.2 782.8 217.3C784.2 217.3 785.5 217.4 786.8 217.5C788.2 217.5 789.5 217.6 790.8 217.7C792.2 217.8 793.5 217.8 794.8 217.9C796.2 218.0 797.5 218.0 798.8 218.1C800.1 218.2 801.5 218.3 802.8 218.3C804.1 218.4 805.5 218.5 806.8 218.5C808.1 218.6 809.5 218.7 810.8 218.7C812.1 218.8 813.5 218.9 814.8 219.0C816.1 219.0 817.5 219.1 818.8 219.2C820.1 219.2 821.5 219.3 822.8 219.4C824.1 219.5 825.5 219.5 826.8 219.6C828.1 219.7 829.5 219.7 830.8 219.8C832.1 219.9 833.5 220.0 834.8 220.0C836.1 220.1 837.5 220.2 838.8 220.2C840.2 220.3 841.5 220.4 842.8 220.4C844.2 220.5 845.5 220.6 846.8 220.7C848.2 220.7 849.5 220.8 850.8 220.9C852.2 220.9 853.5 221.0 854.8 221.1C856.2 221.1 857.5 221.2 858.8 221.3C860.2 221.4 861.5 221.4 862.9 221.5C864.2 221.6 865.5 221.6 866.9 221.7C868.2 221.8 869.5 221.8 870.9 221.9C872.2 222.0 873.5 222.0 874.9 222.1C876.2 222.2 877.6 222.2 878.9 222.3C880.2 222.4 881.6 222.4 882.9 222.5C884.2 222.6 885.6 222.6 886.9 222.7C888.3 222.8 889.6 222.8 890.9 222.9C892.3 223.0 893.6 223.0 895.0 223.1C896.3 223.1 897.6 223.2 899.0 223.3C900.3 223.3 901.6 223.4 903.0 223.5C904.3 223.5 905.7 223.6 907.0 223.6C908.3 223.7 909.7 223.8 911.0 223.8C912.4 223.9 913.7 223.9 915.1 224.0C916.4 224.1 917.7 224.1 919.1 224.2C920.4 224.2 921.8 224.3 923.1 224.3C924.4 224.4 925.8 224.5 927.1 224.5C928.5 224.6 929.8 224.6 931.2 224.7C932.5 224.7 933.8 224.8 935.2 224.9C936.5 224.9 937.9 225.0 939.2 225.0C940.5 225.1 941.9 225.2 943.2 225.2C944.6 225.3 945.9 225.4 947.2 225.5C948.6 225.5 949.9 225.6 951.3 225.7C952.6 225.8 953.9 225.9 955.3 226.0C956.6 226.1 957.9 226.2 959.3 226.3C960.6 226.4 961.9 226.5 963.3 226.6C964.6 226.7 965.9 226.8 967.3 227.0C968.6 227.1 969.9 227.2 971.2 227.4C972.6 227.5 973.9 227.7 975.2 227.9C976.5 228.0 977.8 228.2 979.2 228.4C980.5 228.6 981.8 228.8 983.1 229.0C984.4 229.2 985.7 229.4 987.0 229.6C988.3 229.8 989.6 230.0 990.9 230.3C992.2 230.6 993.5 231.0 994.8 231.3C996.1 231.6 997.4 231.7 998.7 231.9C1000.1 232.1 1001.4 232.2 1002.7 232.5C1004.0 232.8 1005.3 233.2 1006.5 233.6C1007.8 233.9 1009.1 234.3 1010.3 234.8C1011.6 235.2 1012.7 235.9 1014.0 236.3C1015.3 236.6 1016.8 236.3 1018.1 236.8C1019.3 237.2 1020.3 238.4 1021.5 239.1C1022.6 239.8 1023.8 240.5 1025.0 240.9C1026.3 241.2 1027.8 241.0 1029.1 241.3C1030.5 241.6 1031.7 242.1 1032.9 242.6C1034.2 243.0 1035.5 243.3 1036.6 244.2C1037.7 245.0 1038.2 247.0 1039.3 247.8C1040.4 248.6 1041.8 248.6 1043.2 248.8C1044.5 249.1 1046.1 249.0 1047.3 249.5C1048.6 249.9 1049.6 251.0 1050.7 251.6C1051.9 252.2 1053.2 252.6 1054.4 253.3C1055.5 254.0 1056.3 255.2 1057.5 255.7C1058.7 256.3 1060.4 256.1 1061.6 256.8C1062.7 257.6 1063.5 258.9 1064.3 260.0C1065.1 261.1 1065.6 262.8 1066.6 263.7C1067.6 264.6 1069.1 264.7 1070.3 265.2C1071.5 265.8 1072.6 266.6 1073.9 267.1C1075.1 267.7 1076.7 267.9 1077.6 268.8C1078.6 269.6 1079.0 271.3 1079.8 272.4C1080.6 273.5 1081.5 274.5 1082.6 275.3C1083.7 276.0 1085.4 276.1 1086.4 276.9C1087.5 277.7 1088.0 279.1 1088.9 280.1C1089.9 281.0 1091.0 281.7 1092.0 282.6C1093.0 283.6 1093.6 284.8 1094.7 285.6C1095.8 286.4 1097.4 286.6 1098.6 287.4C1099.7 288.1 1100.9 288.9 1101.6 290.1C1102.2 291.3 1101.9 293.4 1102.5 294.7C1103.1 295.9 1104.3 296.7 1105.2 297.7C1106.1 298.7 1106.8 299.8 1107.9 300.6C1108.9 301.5 1110.5 301.9 1111.4 302.9C1112.4 303.8 1112.9 305.1 1113.6 306.3C1114.4 307.4 1114.8 308.8 1115.8 309.7C1116.8 310.6 1118.6 310.9 1119.6 311.8C1120.6 312.8 1120.9 314.3 1121.5 315.4C1122.2 316.6 1123.0 317.7 1123.7 318.9C1124.4 320.1 1124.7 321.5 1125.6 322.5C1126.5 323.5 1128.0 324.1 1129.2 324.9C1130.3 325.7 1131.9 326.2 1132.7 327.3C1133.4 328.5 1133.0 330.4 1133.6 331.7C1134.1 333.0 1135.0 334.0 1135.7 335.1C1136.4 336.3 1136.9 337.6 1137.7 338.7C1138.5 339.8 1139.8 340.5 1140.6 341.6C1141.4 342.7 1141.8 344.0 1142.4 345.2C1143.1 346.4 1143.3 347.9 1144.3 348.8C1145.3 349.8 1147.4 349.9 1148.5 350.9C1149.5 351.8 1150.0 353.1 1150.6 354.2C1151.3 355.4 1152.0 356.5 1152.5 357.8C1153.0 359.1 1153.1 360.7 1153.7 361.9C1154.4 363.0 1155.4 364.0 1156.5 364.9C1157.5 365.7 1159.3 366.2 1160.1 367.2C1160.9 368.3 1160.7 370.0 1161.3 371.3C1161.9 372.5 1162.9 373.4 1163.6 374.5C1164.4 375.6 1164.9 376.9 1165.7 377.9C1166.4 379.0 1167.5 379.9 1168.2 381.1C1168.9 382.2 1169.4 383.5 1169.8 384.8C1170.3 386.1 1170.0 387.9 1170.8 388.9C1171.7 390.0 1173.7 390.2 1174.8 391.1C1176.0 391.9 1176.9 392.9 1177.8 393.9C1178.7 394.9 1179.5 395.9 1180.1 397.1C1180.8 398.3 1181.0 399.7 1181.6 400.9C1182.1 402.2 1182.5 403.5 1183.3 404.5C1184.2 405.5 1186.0 405.9 1186.8 407.0C1187.6 408.0 1187.6 409.7 1188.1 410.9C1188.7 412.1 1189.5 413.2 1190.3 414.2C1191.1 415.3 1192.1 416.2 1193.0 417.2C1193.9 418.2 1194.9 419.1 1195.7 420.2C1196.6 421.2 1197.6 422.0 1198.1 423.4C1198.5 424.7 1197.9 426.8 1198.4 428.0C1199.0 429.2 1200.3 429.9 1201.4 430.8C1202.4 431.7 1203.6 432.4 1204.7 433.3C1205.7 434.2 1206.6 435.2 1207.4 436.2C1208.3 437.2 1209.2 438.2 1209.9 439.3C1210.6 440.4 1210.7 442.0 1211.6 443.0C1212.5 444.0 1214.3 444.3 1215.2 445.3C1216.0 446.3 1216.3 447.7 1216.9 449.0C1217.4 450.3 1217.6 451.8 1218.3 452.9C1219.0 454.0 1220.1 454.9 1221.1 455.8C1222.0 456.8 1223.0 457.7 1224.1 458.5C1225.1 459.4 1226.9 459.7 1227.6 460.8C1228.4 461.9 1228.1 463.8 1228.7 465.1C1229.2 466.4 1229.9 467.5 1230.8 468.5C1231.7 469.4 1233.1 470.0 1234.1 471.0C1235.1 471.9 1235.8 473.0 1236.7 474.0C1237.6 475.0 1238.8 475.7 1239.6 476.7C1240.5 477.8 1240.7 479.3 1241.7 480.2C1242.7 481.1 1244.5 481.3 1245.6 482.1C1246.8 482.9 1247.7 483.8 1248.4 485.0C1249.0 486.2 1249.0 488.0 1249.6 489.3C1250.1 490.6 1251.1 491.5 1251.9 492.6C1252.7 493.7 1253.4 494.9 1254.4 495.7C1255.5 496.5 1257.4 496.6 1258.4 497.5C1259.4 498.4 1259.8 499.9 1260.5 501.1C1261.2 502.2 1261.7 503.6 1262.6 504.5C1263.5 505.5 1265.1 505.9 1266.1 506.8C1267.0 507.8 1267.6 509.0 1268.5 510.1C1269.3 511.1 1270.4 511.9 1271.2 513.0C1272.0 514.1 1272.1 515.8 1273.1 516.7C1274.0 517.7 1275.6 518.0 1276.9 518.7C1278.2 519.3 1279.8 519.7 1280.6 520.7C1281.5 521.7 1281.6 523.4 1282.3 524.6C1282.9 525.9 1283.7 526.9 1284.4 528.1C1285.1 529.3 1285.5 530.7 1286.4 531.7C1287.3 532.6 1289.0 533.0 1290.0 533.9C1291.0 534.8 1291.6 536.0 1292.3 537.2C1293.0 538.3 1293.4 539.8 1294.4 540.7C1295.4 541.6 1297.1 541.8 1298.2 542.7C1299.3 543.5 1300.0 544.6 1300.9 545.6C1301.8 546.6 1302.9 547.5 1303.6 548.6C1304.2 549.8 1304.2 551.6 1304.9 552.8C1305.7 553.9 1306.7 554.8 1307.9 555.5C1309.1 556.2 1311.0 556.4 1312.0 557.2C1313.0 558.1 1313.3 559.6 1314.1 560.7C1314.9 561.8 1315.9 562.7 1316.6 563.8C1317.3 565.0 1317.7 566.4 1318.6 567.4C1319.4 568.5 1320.7 569.1 1321.6 570.1C1322.5 571.0 1323.3 572.1 1324.0 573.3C1324.6 574.5 1324.5 576.4 1325.4 577.4C1326.3 578.4 1328.0 578.7 1329.2 579.4C1330.4 580.1 1331.4 580.9 1332.5 581.7C1333.6 582.6 1334.9 583.2 1335.7 584.2C1336.6 585.2 1336.9 586.8 1337.5 588.0C1338.1 589.2 1338.6 590.6 1339.6 591.5C1340.6 592.3 1342.5 592.3 1343.6 593.2C1344.7 594.0 1345.1 595.3 1346.0 596.3C1346.9 597.3 1347.9 598.2 1348.8 599.1C1349.8 600.1 1350.5 601.2 1351.5 602.1C1352.5 603.0 1353.7 603.6 1354.8 604.4C1355.9 605.2 1357.2 605.7 1358.0 606.8C1358.7 608.0 1358.5 610.2 1359.3 611.3C1360.0 612.5 1361.3 613.0 1362.5 613.8C1363.6 614.5 1364.8 615.1 1366.1 615.7C1367.3 616.3 1368.7 616.7 1369.9 617.4C1371.0 618.1 1372.1 618.9 1373.0 619.9C1373.9 620.9 1374.2 622.6 1375.2 623.4C1376.3 624.3 1378.1 624.1 1379.2 624.8C1380.3 625.6 1381.1 626.7 1382.0 627.7C1383.0 628.7 1383.8 629.8 1384.7 630.7C1385.7 631.7 1386.7 632.6 1387.8 633.4C1388.8 634.2 1390.0 634.9 1391.3 635.4C1392.5 635.9 1394.4 635.7 1395.4 636.6C1396.4 637.4 1396.6 639.4 1397.4 640.6C1398.2 641.8 1399.1 642.8 1400.1 643.6C1401.2 644.5 1402.4 645.1 1403.5 645.8C1404.7 646.4 1406.0 647.0 1407.2 647.6C1408.4 648.3 1409.7 648.7 1410.8 649.5C1411.8 650.4 1412.2 652.1 1413.3 652.8C1414.5 653.5 1416.3 653.3 1417.6 653.9C1418.8 654.4 1419.9 655.2 1420.8 656.2C1421.8 657.1 1422.4 658.5 1423.3 659.6C1424.2 660.7 1425.0 661.7 1426.0 662.7C1427.0 663.6 1427.8 664.7 1429.1 665.3C1430.3 665.8 1432.4 665.4 1433.5 666.0C1434.7 666.7 1435.2 668.2 1436.1 669.3C1437.0 670.3 1437.8 671.5 1438.8 672.4C1439.8 673.3 1441.0 673.9 1442.0 674.7C1443.1 675.5 1444.1 676.4 1445.2 677.2C1446.2 678.0 1447.6 678.4 1448.5 679.4C1449.5 680.4 1449.7 682.2 1450.8 683.0C1451.8 683.8 1453.5 683.9 1454.8 684.4C1456.2 684.9 1457.7 685.2 1458.7 686.0C1459.8 686.8 1460.4 688.1 1461.2 689.2C1462.0 690.3 1462.8 691.4 1463.6 692.6C1464.3 693.8 1464.6 695.4 1465.6 696.2C1466.7 697.1 1468.5 697.0 1469.6 697.8C1470.8 698.5 1471.5 699.6 1472.4 700.7C1473.2 701.7 1473.7 703.1 1474.7 704.0C1475.6 705.0 1477.0 705.4 1478.0 706.3C1479.1 707.1 1479.9 708.2 1480.9 709.0C1481.9 709.9 1483.2 710.4 1484.0 711.5C1484.8 712.6 1484.7 714.5 1485.4 715.7C1486.1 716.8 1487.1 717.7 1488.2 718.5C1489.4 719.2 1491.2 719.3 1492.4 720.1C1493.5 720.8 1494.1 722.0 1495.0 723.1C1495.8 724.1 1496.8 725.0 1497.5 726.2C1498.1 727.4 1498.1 729.1 1498.8 730.2C1499.5 731.3 1500.8 732.0 1501.7 732.9C1502.7 733.9 1503.7 734.8 1504.3 736.0C1504.9 737.2 1504.7 739.0 1505.4 740.1C1506.0 741.3 1507.4 742.0 1508.3 742.9C1509.3 743.9 1510.1 744.9 1511.1 745.8C1512.1 746.8 1513.6 747.4 1514.3 748.5C1515.1 749.6 1515.2 751.1 1515.6 752.4C1515.9 753.8 1515.8 755.4 1516.5 756.6C1517.3 757.7 1519.0 758.1 1520.0 759.1C1520.9 760.1 1521.4 761.3 1522.2 762.4C1523.0 763.5 1524.0 764.5 1524.6 765.7C1525.2 766.9 1525.3 768.4 1525.9 769.6C1526.5 770.8 1527.4 771.8 1528.2 772.9C1529.0 773.9 1530.4 774.7 1530.8 776.0C1531.2 777.3 1530.5 779.2 1530.8 780.6C1531.1 782.0 1531.9 783.0 1532.6 784.2C1533.3 785.3 1534.0 786.5 1534.9 787.5C1535.8 788.5 1537.4 789.2 1538.2 790.2C1539.1 791.3 1539.8 792.4 1540.2 793.7C1540.6 795.0 1540.1 796.8 1540.6 798.0C1541.2 799.3 1542.7 800.0 1543.5 801.1C1544.2 802.2 1544.6 803.5 1545.2 804.7C1545.8 805.9 1546.5 807.0 1547.0 808.3C1547.6 809.5 1547.8 810.9 1548.3 812.1C1548.9 813.3 1549.5 814.5 1550.4 815.5C1551.3 816.6 1553.1 817.1 1553.7 818.3C1554.3 819.5 1553.8 821.3 1553.9 822.7C1554.1 824.1 1554.4 825.5 1554.8 826.7C1555.2 828.0 1555.6 829.3 1556.3 830.5C1557.0 831.6 1558.1 832.6 1559.0 833.6C1559.9 834.7 1561.1 835.6 1561.7 836.8C1562.2 838.0 1561.7 839.7 1562.3 841.0C1562.8 842.2 1564.3 842.9 1565.1 844.0C1565.9 845.1 1566.5 846.3 1567.1 847.5C1567.6 848.8 1568.1 850.0 1568.5 851.3C1568.8 852.7 1569.0 854.1 1569.3 855.4C1569.7 856.7 1569.8 858.1 1570.7 859.2C1571.5 860.3 1573.7 860.7 1574.5 861.8C1575.3 862.9 1575.3 864.4 1575.6 865.7C1576.0 867.1 1576.2 868.4 1576.6 869.7C1577.0 871.1 1577.3 872.4 1577.8 873.6C1578.4 874.9 1579.1 876.0 1579.8 877.2C1580.6 878.3 1581.9 879.1 1582.4 880.4C1582.9 881.6 1582.3 883.4 1582.9 884.6C1583.5 885.8 1585.0 886.6 1586.0 887.6C1586.9 888.7 1588.0 889.6 1588.7 890.8C1589.5 891.9 1590.0 893.1 1590.5 894.4C1590.9 895.7 1591.0 897.2 1591.3 898.5C1591.5 899.9 1591.2 901.6 1591.9 902.8C1592.6 904.0 1594.6 904.4 1595.5 905.5C1596.3 906.6 1596.6 908.0 1597.1 909.2C1597.6 910.5 1598.1 911.7 1598.7 913.0C1599.2 914.2 1599.8 915.5 1600.4 916.6C1601.1 917.8 1601.8 919.0 1602.5 920.1C1603.3 921.2 1604.6 922.1 1605.0 923.3C1605.5 924.6 1604.8 926.6 1605.3 927.8C1605.8 929.1 1607.1 929.9 1608.1 930.9C1609.1 931.9 1610.4 932.7 1611.4 933.6C1612.4 934.6 1613.3 935.6 1614.0 936.7C1614.7 937.9 1615.3 939.1 1615.7 940.4C1616.1 941.8 1615.7 943.6 1616.4 944.7C1617.0 945.9 1618.7 946.4 1619.6 947.4C1620.4 948.5 1620.8 949.8 1621.4 951.0C1622.0 952.2 1622.5 953.5 1623.2 954.6C1623.9 955.8 1624.8 956.8 1625.7 957.8C1626.5 958.8 1627.4 959.8 1628.4 960.7C1629.4 961.6 1631.1 962.0 1631.8 963.1C1632.5 964.3 1632.1 966.2 1632.6 967.5C1633.1 968.8 1633.9 969.9 1634.8 970.9C1635.7 971.8 1637.1 972.4 1638.2 973.2C1639.3 974.0 1640.3 974.9 1641.3 975.7C1642.4 976.6 1643.6 977.2 1644.4 978.3C1645.2 979.3 1645.2 981.1 1646.0 982.2C1646.8 983.2 1648.3 983.6 1649.4 984.4C1650.4 985.2 1651.4 986.1 1652.2 987.1C1653.0 988.2 1653.2 989.9 1654.0 991.0C1654.8 992.1 1655.8 992.9 1656.8 993.8C1657.8 994.7 1658.6 995.9 1659.8 996.4C1661.0 997.0 1663.0 996.7 1664.2 997.4C1665.4 998.0 1666.1 999.2 1667.0 1000.3C1667.8 1001.3 1668.3 1002.9 1669.2 1003.8C1670.2 1004.7 1671.7 1005.0 1672.8 1005.7C1674.0 1006.4 1674.9 1007.3 1676.1 1007.9C1677.3 1008.6 1678.8 1008.7 1679.9 1009.5C1681.0 1010.3 1681.6 1011.8 1682.6 1012.6C1683.7 1013.4 1685.0 1013.8 1686.3 1014.2C1687.6 1014.7 1689.3 1014.5 1690.4 1015.2C1691.5 1015.9 1692.1 1017.5 1693.1 1018.5C1694.0 1019.6 1695.1 1020.4 1696.1 1021.3C1697.1 1022.2 1697.9 1023.6 1699.2 1024.1C1700.4 1024.6 1702.2 1024.2 1703.5 1024.5C1704.9 1024.7 1706.3 1025.0 1707.4 1025.7C1708.6 1026.4 1709.3 1027.9 1710.5 1028.5C1711.7 1029.2 1713.2 1029.1 1714.5 1029.5C1715.7 1030.0 1716.8 1030.8 1718.1 1031.2C1719.3 1031.7 1720.7 1031.8 1721.9 1032.5C1723.1 1033.1 1723.9 1034.5 1725.1 1035.2C1726.2 1035.9 1727.3 1036.7 1728.7 1036.8C1730.1 1037.0 1731.9 1036.1 1733.2 1036.3C1734.5 1036.6 1735.5 1037.6 1736.7 1038.3C1737.9 1039.0 1739.1 1039.6 1740.2 1040.3C1741.3 1041.1 1742.2 1042.5 1743.4 1043.1C1744.6 1043.7 1746.0 1043.7 1747.4 1043.9C1748.7 1044.1 1750.2 1043.8 1751.5 1044.2C1752.7 1044.6 1753.7 1046.2 1754.9 1046.6C1756.2 1047.0 1757.7 1046.7 1759.0 1046.8C1760.4 1047.0 1761.7 1047.2 1763.0 1047.4C1764.3 1047.6 1765.7 1047.5 1767.0 1048.0C1768.2 1048.4 1769.4 1049.3 1770.5 1050.0C1771.7 1050.8 1772.7 1052.3 1774.0 1052.7C1775.2 1053.0 1776.9 1052.0 1778.3 1052.0C1779.7 1052.0 1780.9 1052.4 1782.2 1052.7C1783.5 1053.1 1784.8 1053.4 1786.1 1053.8C1787.3 1054.3 1788.5 1055.2 1789.7 1055.7C1791.0 1056.2 1792.2 1056.7 1793.6 1056.9C1794.9 1057.1 1796.4 1056.4 1797.7 1056.8C1799.0 1057.2 1800.0 1058.8 1801.2 1059.3C1802.5 1059.9 1803.8 1059.9 1805.2 1059.9C1806.6 1060.0 1808.0 1059.8 1809.4 1059.8C1810.7 1059.7 1812.2 1059.3 1813.5 1059.4C1814.9 1059.5 1816.2 1059.6 1817.5 1060.3C1818.7 1060.9 1819.7 1062.8 1820.9 1063.2C1822.2 1063.7 1823.7 1063.1 1825.1 1063.2C1826.4 1063.3 1827.7 1063.6 1829.0 1063.9C1830.3 1064.1 1831.6 1064.5 1832.9 1064.8C1834.2 1065.2 1835.5 1065.6 1836.8 1065.9C1838.1 1066.3 1839.4 1066.8 1840.7 1066.9C1842.1 1066.9 1843.7 1065.8 1845.0 1066.1C1846.3 1066.4 1847.4 1068.0 1848.6 1068.6C1849.8 1069.3 1851.1 1069.9 1852.4 1070.1C1853.7 1070.4 1855.1 1070.4 1856.5 1070.4C1857.9 1070.3 1859.3 1070.0 1860.7 1069.9C1862.1 1069.8 1863.5 1069.3 1864.8 1069.7C1866.1 1070.1 1867.1 1071.8 1868.4 1072.2C1869.7 1072.7 1871.2 1072.2 1872.5 1072.4C1873.8 1072.6 1875.2 1072.8 1876.4 1073.2C1877.7 1073.6 1879.0 1074.3 1880.2 1074.8C1881.5 1075.3 1882.8 1075.8 1884.1 1076.2C1885.3 1076.6 1886.5 1077.3 1887.9 1077.3C1889.3 1077.2 1891.0 1075.9 1892.4 1076.0C1893.7 1076.0 1894.8 1077.1 1896.1 1077.8C1897.3 1078.4 1898.5 1079.3 1899.7 1079.7C1901.0 1080.2 1902.3 1080.5 1903.6 1080.7C1905.0 1080.9 1906.3 1081.0 1907.7 1081.1C1909.1 1081.1 1910.6 1080.5 1911.9 1080.8C1913.2 1081.1 1914.2 1082.5 1915.5 1082.9C1916.8 1083.3 1918.3 1083.0 1919.6 1083.1C1920.9 1083.3 1922.3 1083.4 1923.6 1083.7C1924.9 1084.1 1926.1 1084.8 1927.3 1085.3C1928.6 1085.8 1929.9 1086.3 1931.1 1086.7C1932.4 1087.2 1933.6 1087.8 1934.9 1088.0C1936.3 1088.3 1937.7 1088.0 1939.0 1088.2C1940.4 1088.4 1941.6 1088.8 1942.9 1089.1C1944.2 1089.5 1945.5 1089.8 1946.8 1090.2C1948.1 1090.5 1949.4 1090.8 1950.7 1091.1C1952.0 1091.4 1953.3 1091.7 1954.6 1092.0C1955.9 1092.3 1957.2 1092.6 1958.5 1092.9C1959.8 1093.2 1961.1 1093.4 1962.4 1093.7C1963.7 1094.0 1965.0 1094.3 1966.3 1094.6C1967.6 1094.9 1968.9 1095.2 1970.2 1095.5C1971.5 1095.7 1972.8 1096.0 1974.1 1096.3C1975.4 1096.6 1976.7 1096.9 1978.0 1097.1C1979.3 1097.4 1980.6 1097.7 1981.9 1097.9C1983.2 1098.2 1984.5 1098.5 1985.8 1098.7C1987.1 1099.0 1988.4 1099.2 1989.8 1099.5C1991.1 1099.7 1992.4 1100.0 1993.7 1100.2C1995.0 1100.5 1996.3 1100.7 1997.6 1100.9C1998.9 1101.2 2000.2 1101.4 2001.5 1101.6C2002.8 1101.9 2004.1 1102.1 2005.4 1102.3C2006.7 1102.5 2008.1 1102.7 2009.4 1102.9C2010.7 1103.2 2012.0 1103.4 2013.3 1103.6C2014.6 1103.8 2015.9 1103.9 2017.2 1104.1C2018.6 1104.3 2019.9 1104.5 2021.2 1104.7C2022.5 1104.9 2023.8 1105.0 2025.1 1105.2C2026.5 1105.4 2027.8 1105.5 2029.1 1105.7C2030.4 1105.8 2031.7 1106.0 2033.0 1106.1C2034.4 1106.3 2035.7 1106.4 2037.0 1106.5C2038.3 1106.7 2039.7 1106.8 2041.0 1106.9C2042.3 1107.0 2043.6 1107.2 2044.9 1107.3C2046.3 1107.4 2047.6 1107.5 2048.9 1107.6C2050.3 1107.7 2051.6 1107.8 2052.9 1107.9C2054.2 1108.0 2055.6 1108.1 2056.9 1108.2C2058.2 1108.2 2059.5 1108.3 2060.9 1108.4C2062.2 1108.5 2063.5 1108.5 2064.9 1108.6C2066.2 1108.7 2067.5 1108.8 2068.9 1108.8C2070.2 1108.9 2071.5 1108.9 2072.9 1109.0C2074.2 1109.0 2075.5 1109.1 2076.9 1109.1C2078.2 1109.2 2079.5 1109.2 2080.9 1109.3C2082.2 1109.3 2083.5 1109.4 2084.9 1109.4C2086.2 1109.4 2087.5 1109.5 2088.9 1109.5C2090.2 1109.5 2091.6 1109.5 2092.9 1109.6C2094.2 1109.6 2095.6 1109.6 2096.9 1109.6C2098.2 1109.7 2099.6 1109.7 2100.9 1109.7C2102.3 1109.7 2103.6 1109.7 2104.9 1109.7C2106.3 1109.7 2107.6 1109.7 2109.0 1109.8C2110.3 1109.8 2111.6 1109.8 2113.0 1109.8C2114.3 1109.8 2115.7 1109.8 2117.0 1109.8C2118.3 1109.8 2119.7 1109.8 2121.0 1109.8C2122.4 1109.8 2123.7 1109.8 2125.0 1109.8C2126.4 1109.8 2127.7 1109.8 2129.1 1109.8C2130.4 1109.7 2131.8 1109.7 2133.1 1109.7C2134.4 1109.7 2135.8 1109.7 2137.1 1109.7C2138.5 1109.7 2139.8 1109.7 2141.1 1109.7C2142.5 1109.7 2143.8 1109.7 2145.2 1109.7C2146.5 1109.7 2147.9 1109.6 2149.2 1109.6C2150.5 1109.6 2151.9 1109.6 2153.2 1109.6C2154.6 1109.6 2155.9 1109.6 2157.2 1109.6C2158.6 1109.6 2159.9 1109.6 2161.3 1109.6C2162.6 1109.6 2163.9 1109.6 2165.3 1109.6C2166.6 1109.5 2168.0 1109.5 2169.3 1109.5C2170.7 1109.5 2172.0 1109.5 2173.3 1109.5C2174.7 1109.5 2176.0 1109.5 2177.4 1109.5C2178.7 1109.5 2180.0 1109.5 2181.4 1109.6C2182.7 1109.6 2184.0 1109.6 2185.4 1109.6C2186.7 1109.6 2188.1 1109.6 2189.4 1109.6C2190.7 1109.6 2192.1 1109.6 2193.4 1109.7C2194.8 1109.7 2196.1 1109.7 2197.4 1109.7C2198.8 1109.7 2200.1 1109.8 2201.4 1109.8C2202.8 1109.8 2204.1 1109.9 2205.4 1109.9C2206.8 1109.9 2208.1 1110.0 2209.4 1110.0C2210.8 1110.0 2212.1 1110.1 2213.4 1110.1C2214.8 1110.2 2216.1 1110.2 2217.4 1110.3C2218.8 1110.3 2220.1 1110.4 2221.4 1110.4C2222.8 1110.5 2224.1 1110.6 2225.4 1110.6C2226.8 1110.7 2228.1 1110.8 2229.4 1110.8C2230.7 1110.9 2232.1 1111.0 2233.4 1111.1C2234.7 1111.1 2236.0 1111.2 2237.4 1111.3C2238.7 1111.4 2240.0 1111.5 2241.3 1111.6C2242.7 1111.7 2244.0 1111.8 2245.3 1111.9C2246.6 1112.0 2248.0 1112.1 2249.3 1112.3C2250.6 1112.4 2251.9 1112.5 2253.2 1112.6C2254.6 1112.8 2255.9 1112.9 2257.2 1113.0C2258.5 1113.2 2259.8 1113.3 2261.2 1113.5C2262.5 1113.6 2263.8 1113.8 2265.1 1113.9C2266.4 1114.1 2267.7 1114.3 2269.0 1114.4C2270.4 1114.6 2271.7 1114.8 2273.0 1115.0C2274.3 1115.2 2275.6 1115.3 2276.9 1115.5C2278.2 1115.8 2280.3 1116.3 2281.0 1116.4"/>
<path class="c" stroke-width="8" d="M369.0 210.0C370.5 210.0 375.0 210.0 378.0 210.0C381.0 210.0 384.0 210.0 387.0 210.0C390.0 210.0 393.0 210.0 396.0 210.0C399.1 210.0 402.1 210.0 405.1 210.0C408.1 210.0 411.1 210.0 414.1 210.0C417.1 210.0 420.1 210.0 423.1 210.0C426.1 210.0 429.1 210.0 432.1 210.0C435.1 210.0 438.1 210.0 441.1 210.0C444.1 210.0 447.1 210.0 450.1 210.0C453.1 210.0 456.2 210.0 459.2 210.0C462.2 210.0 465.2 210.0 468.2 210.0C471.2 210.0 474.2 210.0 477.2 210.0C480.2 210.0 483.2 210.0 486.2 210.0C489.2 210.0 492.2 210.0 495.2 210.0C498.2 210.0 501.2 210.0 504.2 210.0C507.2 210.0 510.2 210.0 513.3 210.0C516.3 210.0 519.3 210.0 522.3 210.0C525.3 210.0 528.3 210.0 531.3 210.0C534.3 210.0 537.3 210.0 540.3 210.0C543.3 210.0 546.3 210.0 549.3 210.0C552.3 210.0 555.3 210.0 558.3 210.0C561.3 210.0 564.3 210.0 567.4 210.0C570.4 210.0 573.4 210.0 576.4 210.0C579.4 210.0 582.4 210.0 585.4 210.0C588.4 210.0 591.4 210.0 594.4 210.0C597.4 210.0 600.4 210.0 603.4 210.1C606.4 210.1 609.4 210.1 612.4 210.1C615.4 210.1 618.4 210.1 621.5 210.1C624.5 210.1 627.5 210.1 630.5 210.1C633.5 210.1 636.5 210.1 639.5 210.2C642.5 210.2 645.5 210.2 648.5 210.2C651.5 210.2 654.5 210.2 657.5 210.2C660.5 210.3 663.5 210.3 666.5 210.3C669.5 210.3 672.5 210.3 675.5 210.3C678.6 210.3 681.6 210.4 684.6 210.4C687.6 210.4 690.6 210.4 693.6 210.4C696.6 210.5 699.6 210.5 702.6 210.5C705.6 210.5 708.6 210.5 711.6 210.6C714.6 210.6 717.6 210.6 720.6 210.6C723.6 210.7 726.6 210.7 729.6 210.7C732.6 210.8 735.7 210.8 738.7 210.8C741.7 210.8 744.7 210.9 747.7 210.9C750.7 210.9 753.7 211.0 756.7 211.0C759.7 211.0 762.7 211.1 765.7 211.1C768.7 211.1 771.7 211.2 774.7 211.2C777.7 211.2 780.7 211.3 783.7 211.3C786.7 211.4 789.7 211.4 792.7 211.4C795.8 211.5 798.8 211.5 801.8 211.6C804.8 211.6 807.8 211.7 810.8 211.7C813.8 211.8 816.8 211.8 819.8 211.8C822.8 211.9 825.8 211.9 828.8 212.0C831.8 212.0 834.8 212.1 837.8 212.2C840.8 212.2 843.8 212.3 846.8 212.3C849.8 212.4 852.8 212.4 855.8 212.5C858.9 212.6 861.9 212.6 864.9 212.7C867.9 212.7 870.9 212.8 873.9 212.9C876.9 212.9 879.9 213.0 882.9 213.1C885.9 213.1 888.9 213.2 891.9 213.3C894.9 213.3 897.9 213.4 900.9 213.5C903.9 213.6 906.9 213.6 909.9 213.7C912.9 213.8 915.9 213.9 918.9 213.9C921.9 214.0 924.9 214.1 927.9 214.2C930.9 214.3 934.0 214.4 937.0 214.4C940.0 214.5 943.0 214.6 946.0 214.7C949.0 214.8 952.0 214.9 955.0 215.0C958.0 215.1 961.0 215.2 964.0 215.3C967.0 215.4 970.0 215.4 973.0 215.5C976.0 215.6 979.0 215.7 982.0 215.9C985.0 216.0 988.0 216.0 991.0 216.2C994.0 216.4 998.5 216.9 1000.0 217.0"/>
<path class="c" stroke-width="8" stroke-dasharray="20 13" d="M1000.0 217.0C1001.5 217.2 1006.1 217.6 1009.2 218.0C1012.3 218.3 1015.4 218.5 1018.5 218.9C1021.6 219.3 1024.6 219.8 1027.7 220.4C1030.7 221.0 1033.7 221.7 1036.7 222.4C1039.7 223.2 1042.6 224.0 1045.5 225.0C1048.5 225.9 1051.4 226.9 1054.2 228.0C1057.1 229.0 1059.9 230.2 1062.7 231.4C1065.5 232.6 1068.3 233.9 1071.0 235.3C1073.7 236.7 1076.4 238.1 1079.1 239.6C1081.7 241.1 1084.3 242.7 1086.9 244.3C1089.5 246.0 1092.0 247.7 1094.5 249.5C1097.0 251.2 1099.4 253.0 1101.8 254.9C1104.2 256.8 1106.5 258.8 1108.8 260.8C1111.2 262.8 1113.4 264.8 1115.6 266.9C1117.8 269.0 1120.0 271.2 1122.1 273.4C1124.2 275.6 1126.3 277.8 1128.3 280.1C1130.3 282.4 1132.3 284.8 1134.2 287.1C1136.2 289.5 1138.1 291.9 1139.9 294.3C1141.8 296.8 1143.7 299.2 1145.5 301.7C1147.3 304.2 1149.1 306.7 1150.8 309.3C1152.6 311.8 1154.3 314.3 1156.1 316.9C1157.8 319.5 1159.5 322.1 1161.2 324.6C1162.9 327.2 1164.6 329.8 1166.2 332.4C1167.9 335.0 1169.6 337.6 1171.3 340.2C1172.9 342.8 1174.6 345.4 1176.3 347.9C1177.9 350.5 1179.6 353.1 1181.3 355.6C1182.9 358.2 1184.6 360.7 1186.3 363.2C1188.0 365.7 1189.7 368.2 1191.5 370.7C1193.2 373.2 1196.1 376.8 1197.0 378.0"/>
<path class="c" stroke-width="8" stroke-dasharray="13 17" d="M1197.0 378.0C1198.0 379.2 1201.1 382.6 1203.1 385.0C1205.0 387.3 1206.9 389.8 1208.9 392.2C1210.8 394.5 1212.7 396.9 1214.6 399.3C1216.6 401.7 1218.5 404.1 1220.4 406.5C1222.4 408.9 1224.3 411.2 1226.3 413.6C1228.3 415.9 1230.3 418.3 1232.3 420.6C1234.3 422.9 1236.3 425.2 1238.3 427.6C1240.4 429.9 1242.4 432.2 1244.4 434.6C1246.4 436.9 1248.3 439.3 1250.3 441.7C1252.2 444.0 1254.2 446.4 1256.1 448.8C1258.0 451.2 1259.9 453.7 1261.8 456.1C1263.6 458.6 1265.5 461.0 1267.3 463.5C1269.1 466.0 1271.0 468.5 1272.8 471.0C1274.5 473.5 1276.3 476.0 1278.1 478.5C1279.8 481.1 1281.6 483.6 1283.3 486.2C1285.0 488.7 1286.7 491.3 1288.4 493.9C1290.1 496.5 1291.8 499.0 1293.4 501.6C1295.1 504.2 1296.7 506.9 1298.3 509.5C1300.0 512.1 1301.6 514.7 1303.2 517.4C1304.8 520.0 1306.4 522.6 1307.9 525.3C1309.5 527.9 1311.1 530.6 1312.7 533.2C1314.2 535.9 1315.8 538.6 1317.4 541.2C1319.0 543.9 1320.5 546.5 1322.1 549.2C1323.7 551.8 1325.3 554.4 1326.9 557.1C1328.4 559.7 1330.0 562.3 1331.7 565.0C1333.3 567.6 1334.9 570.2 1336.6 572.8C1338.2 575.4 1339.9 578.0 1341.6 580.5C1343.2 583.1 1345.0 585.6 1346.7 588.2C1348.4 590.7 1350.2 593.2 1352.0 595.7C1353.8 598.2 1355.6 600.7 1357.5 603.1C1359.3 605.6 1361.2 608.0 1363.2 610.4C1365.1 612.8 1367.1 615.1 1369.1 617.5C1371.1 619.8 1373.2 622.1 1375.3 624.4C1377.4 626.7 1379.6 628.9 1381.8 631.1C1383.9 633.4 1387.0 636.9 1388.0 638.0"/>
<path class="c" stroke-width="8" stroke-dasharray="14 27" d="M1388.0 638.0C1389.0 639.1 1392.1 642.3 1394.2 644.5C1396.3 646.7 1398.3 648.9 1400.4 651.1C1402.4 653.3 1404.4 655.5 1406.4 657.8C1408.4 660.0 1410.4 662.3 1412.3 664.5C1414.3 666.8 1416.3 669.1 1418.2 671.4C1420.1 673.7 1422.1 676.0 1424.0 678.3C1425.9 680.6 1427.8 683.0 1429.7 685.3C1431.6 687.6 1433.5 689.9 1435.4 692.3C1437.3 694.6 1439.2 697.0 1441.1 699.3C1443.0 701.6 1444.9 704.0 1446.8 706.3C1448.7 708.6 1450.6 710.9 1452.6 713.3C1454.5 715.6 1456.4 717.9 1458.3 720.2C1460.2 722.5 1462.2 724.8 1464.1 727.1C1466.1 729.4 1468.0 731.6 1470.0 733.9C1472.0 736.1 1474.0 738.4 1476.0 740.6C1478.0 742.8 1480.1 745.0 1482.1 747.2C1484.2 749.3 1486.3 751.5 1488.4 753.6C1490.5 755.7 1492.6 757.8 1494.7 759.9C1496.9 762.0 1499.1 764.0 1501.3 766.1C1503.5 768.1 1505.7 770.1 1508.0 772.0C1510.2 774.0 1512.5 776.0 1514.7 778.0C1517.0 779.9 1519.2 781.9 1521.5 783.9C1523.7 785.9 1525.9 787.9 1528.0 790.0C1530.2 792.1 1532.3 794.2 1534.4 796.3C1536.5 798.5 1538.5 800.6 1540.5 802.9C1542.5 805.1 1544.5 807.3 1546.4 809.6C1548.4 811.9 1550.3 814.2 1552.1 816.6C1554.0 818.9 1555.8 821.3 1557.7 823.6C1559.6 826.0 1561.4 828.4 1563.3 830.7C1565.2 833.0 1567.1 835.3 1569.1 837.5C1571.0 839.8 1573.0 842.0 1575.1 844.1C1577.2 846.2 1579.4 848.2 1581.7 850.1C1584.0 852.1 1586.3 853.9 1588.9 855.6C1591.4 857.2 1595.6 859.3 1597.0 860.0"/>
<path class="c" stroke-width="8" stroke-dasharray="18 17" d="M1597.0 860.0C1598.2 860.9 1602.0 863.6 1604.4 865.4C1606.9 867.2 1609.3 869.0 1611.8 870.8C1614.2 872.6 1616.7 874.4 1619.1 876.3C1621.6 878.1 1624.0 879.9 1626.5 881.8C1628.9 883.6 1631.4 885.4 1633.8 887.2C1636.3 889.0 1638.8 890.9 1641.3 892.6C1643.7 894.4 1646.2 896.2 1648.8 897.9C1651.3 899.6 1653.8 901.4 1656.3 903.0C1658.9 904.7 1661.5 906.4 1664.1 908.0C1666.7 909.6 1669.3 911.1 1671.9 912.6C1674.6 914.1 1678.7 916.3 1680.0 917.0"/>
<path class="c" stroke-width="8" stroke-dasharray="19 10.5" d="M1680.0 917.5C1681.3 918.3 1685.2 920.7 1687.9 922.3C1690.5 923.8 1693.2 925.3 1695.9 926.7C1698.6 928.1 1701.3 929.5 1704.1 930.8C1706.8 932.1 1709.6 933.3 1712.4 934.5C1715.2 935.7 1718.0 936.9 1720.8 938.0C1723.7 939.1 1726.5 940.1 1729.4 941.1C1732.2 942.1 1735.1 943.1 1738.0 944.1C1740.9 945.0 1743.8 945.9 1746.7 946.8C1749.6 947.7 1752.5 948.5 1755.4 949.3C1758.3 950.2 1761.3 951.0 1764.2 951.8C1767.2 952.5 1770.1 953.3 1773.1 954.1C1776.0 954.8 1779.0 955.6 1781.9 956.3C1784.9 957.1 1787.9 957.8 1790.8 958.6C1793.8 959.3 1796.8 960.0 1799.7 960.8C1802.7 961.5 1805.6 962.3 1808.6 963.0C1811.5 963.8 1814.5 964.6 1817.4 965.3C1820.4 966.1 1823.3 966.9 1826.2 967.8C1829.2 968.6 1832.1 969.5 1835.0 970.3C1837.9 971.2 1840.8 972.1 1843.7 973.1C1846.6 974.0 1849.5 975.0 1852.3 976.0C1855.2 977.0 1858.0 978.1 1860.9 979.2C1863.7 980.3 1867.9 982.1 1869.3 982.7"/>
<path class="c" stroke-width="8" d="M1872.5 983.5C1874.0 983.9 1878.5 985.2 1881.5 985.9C1884.5 986.7 1887.5 987.3 1890.5 987.9C1893.6 988.5 1896.6 989.1 1899.6 989.7C1902.7 990.2 1905.7 990.8 1908.7 991.3C1911.8 991.8 1914.8 992.3 1917.9 992.8C1920.9 993.2 1924.0 993.7 1927.0 994.1C1930.1 994.6 1933.1 995.0 1936.2 995.3C1939.2 995.7 1942.3 996.1 1945.4 996.5C1948.4 996.8 1951.5 997.1 1954.6 997.4C1957.6 997.8 1960.7 998.0 1963.8 998.3C1966.8 998.6 1969.9 998.9 1973.0 999.1C1976.1 999.4 1979.2 999.6 1982.2 999.8C1985.3 1000.0 1988.4 1000.2 1991.5 1000.4C1994.6 1000.6 1997.6 1000.8 2000.7 1000.9C2003.8 1001.1 2006.9 1001.2 2010.0 1001.4C2013.1 1001.5 2016.2 1001.7 2019.3 1001.8C2022.3 1001.9 2025.4 1002.0 2028.5 1002.1C2031.6 1002.2 2034.7 1002.3 2037.8 1002.4C2040.9 1002.5 2044.0 1002.5 2047.1 1002.6C2050.2 1002.7 2053.3 1002.8 2056.4 1002.8C2059.5 1002.9 2062.5 1002.9 2065.6 1003.0C2068.7 1003.0 2071.8 1003.1 2074.9 1003.1C2078.0 1003.2 2081.1 1003.2 2084.2 1003.3C2087.3 1003.3 2090.4 1003.3 2093.5 1003.4C2096.6 1003.4 2099.6 1003.4 2102.7 1003.5C2105.8 1003.5 2108.9 1003.6 2112.0 1003.6C2115.1 1003.6 2118.2 1003.7 2121.2 1003.7C2124.3 1003.8 2127.4 1003.8 2130.5 1003.9C2133.6 1003.9 2136.6 1004.0 2139.7 1004.1C2142.8 1004.1 2147.5 1004.0 2149.0 1004.0"/>
<path class="c" stroke-width="8.3" d="M417.0 2252.4C418.5 2252.3 423.0 2251.9 426.0 2251.8C429.0 2251.7 432.0 2251.9 435.0 2251.9C438.0 2252.0 441.0 2252.0 444.0 2252.0C447.1 2252.0 450.1 2252.0 453.1 2252.0C456.1 2252.0 459.1 2252.0 462.1 2252.0C465.1 2252.0 468.1 2252.0 471.1 2252.0C474.1 2252.0 477.1 2251.9 480.1 2251.9C483.1 2251.9 486.1 2251.8 489.1 2251.8C492.1 2251.8 495.1 2251.7 498.1 2251.7C501.1 2251.6 504.1 2251.6 507.1 2251.5C510.0 2251.5 513.0 2251.4 516.0 2251.4C519.0 2251.3 522.0 2251.2 525.0 2251.2C528.0 2251.1 531.0 2251.1 534.0 2251.0C537.0 2250.9 540.0 2250.9 543.0 2250.8C546.0 2250.7 549.0 2250.6 552.0 2250.6C555.0 2250.5 558.0 2250.4 561.0 2250.3C564.0 2250.3 567.0 2250.2 570.0 2250.1C573.0 2250.0 576.0 2250.0 579.0 2249.9C582.0 2249.8 585.0 2249.7 588.0 2249.7C591.0 2249.6 594.0 2249.5 597.0 2249.5C600.0 2249.4 603.0 2249.3 606.0 2249.3C609.0 2249.2 612.0 2249.1 615.0 2249.1C618.0 2249.0 621.0 2248.9 624.0 2248.9C627.0 2248.8 630.0 2248.8 633.0 2248.7C636.0 2248.7 639.0 2248.6 642.0 2248.6C645.0 2248.5 648.0 2248.5 651.0 2248.5C654.0 2248.4 657.0 2248.4 660.0 2248.4C663.0 2248.4 666.0 2248.3 669.1 2248.3C672.1 2248.3 675.1 2248.3 678.1 2248.3C681.1 2248.3 684.1 2248.3 687.1 2248.3C690.2 2248.3 693.2 2248.3 696.2 2248.3C699.2 2248.4 702.2 2248.4 705.2 2248.4C708.3 2248.5 711.3 2248.5 714.3 2248.5C717.3 2248.6 720.4 2248.7 723.4 2248.7C726.4 2248.8 729.4 2248.9 732.4 2249.0C735.4 2249.1 738.5 2249.3 741.5 2249.4C744.5 2249.5 747.5 2249.7 750.5 2249.9C753.5 2250.1 756.5 2250.3 759.5 2250.5C762.5 2250.7 765.5 2251.0 768.5 2251.3C771.4 2251.5 774.4 2251.8 777.4 2252.2C780.4 2252.5 783.3 2252.9 786.3 2253.3C789.2 2253.7 792.2 2254.1 795.1 2254.6C798.1 2255.0 801.0 2255.5 803.9 2256.0C806.8 2256.6 809.7 2257.1 812.6 2257.7C815.5 2258.4 818.4 2259.0 821.3 2259.7C824.2 2260.4 827.0 2261.1 829.9 2261.9C832.7 2262.6 835.6 2263.5 838.4 2264.3C841.2 2265.2 844.0 2266.1 846.8 2267.1C849.6 2268.0 852.4 2269.0 855.1 2270.1C857.9 2271.2 860.6 2272.3 863.4 2273.4C866.1 2274.6 868.8 2275.8 871.5 2277.1C874.2 2278.3 876.9 2279.6 879.6 2281.0C882.2 2282.3 884.9 2283.7 887.5 2285.1C890.1 2286.6 892.7 2288.0 895.3 2289.5C897.9 2291.1 900.5 2292.6 903.1 2294.2C905.6 2295.8 908.1 2297.4 910.7 2299.1C913.2 2300.7 915.7 2302.4 918.1 2304.2C920.6 2305.9 923.1 2307.7 925.5 2309.5C928.0 2311.3 930.4 2313.1 932.8 2315.0C935.2 2316.8 937.5 2318.7 939.9 2320.6C942.2 2322.5 944.6 2324.5 946.9 2326.4C949.2 2328.4 951.5 2330.4 953.7 2332.4C956.0 2334.4 958.2 2336.5 960.4 2338.5C962.7 2340.6 964.9 2342.7 967.0 2344.8C969.2 2346.9 971.3 2349.0 973.5 2351.1C975.6 2353.3 977.7 2355.4 979.8 2357.6C981.8 2359.8 983.9 2362.0 985.9 2364.2C988.0 2366.4 990.0 2368.6 992.0 2370.8C994.0 2373.1 995.9 2375.3 997.9 2377.6C999.9 2379.9 1001.8 2382.2 1003.7 2384.5C1005.6 2386.8 1007.5 2389.1 1009.4 2391.4C1011.3 2393.7 1013.2 2396.1 1015.0 2398.4C1016.9 2400.8 1018.7 2403.1 1020.5 2405.5C1022.3 2407.9 1024.1 2410.3 1025.9 2412.7C1027.7 2415.0 1029.5 2417.5 1031.3 2419.9C1033.0 2422.3 1034.8 2424.7 1036.5 2427.2C1038.2 2429.6 1040.0 2432.0 1041.7 2434.5C1043.4 2436.9 1045.1 2439.4 1046.8 2441.9C1048.5 2444.4 1050.2 2446.8 1051.9 2449.3C1053.5 2451.8 1055.2 2454.3 1056.9 2456.8C1058.5 2459.3 1060.2 2461.8 1061.8 2464.3C1063.5 2466.8 1065.1 2469.3 1066.7 2471.8C1068.4 2474.4 1070.0 2476.9 1071.6 2479.4C1073.2 2481.9 1074.8 2484.5 1076.4 2487.0C1078.0 2489.5 1079.6 2492.1 1081.2 2494.6C1082.8 2497.2 1084.4 2499.7 1085.9 2502.3C1087.5 2504.9 1089.1 2507.4 1090.6 2510.0C1092.2 2512.5 1093.7 2515.1 1095.3 2517.7C1096.8 2520.3 1098.3 2522.9 1099.9 2525.4C1101.4 2528.0 1102.9 2530.6 1104.4 2533.2C1105.9 2535.8 1107.4 2538.4 1108.9 2541.0C1110.4 2543.6 1111.8 2546.3 1113.3 2548.9C1114.8 2551.5 1116.2 2554.1 1117.7 2556.7C1119.1 2559.4 1120.5 2562.0 1121.9 2564.6C1123.4 2567.3 1124.8 2569.9 1126.2 2572.6C1127.6 2575.2 1129.0 2577.9 1130.3 2580.5C1131.7 2583.2 1133.1 2585.9 1134.4 2588.5C1135.8 2591.2 1137.1 2593.9 1138.5 2596.6C1139.8 2599.2 1141.1 2601.9 1142.5 2604.6C1143.8 2607.3 1145.1 2610.0 1146.4 2612.7C1147.7 2615.4 1149.0 2618.1 1150.3 2620.8C1151.5 2623.5 1152.8 2626.2 1154.1 2628.9C1155.4 2631.6 1156.6 2634.4 1157.9 2637.1C1159.1 2639.8 1160.3 2642.5 1161.6 2645.3C1162.8 2648.0 1164.0 2650.7 1165.3 2653.5C1166.5 2656.2 1167.7 2658.9 1168.9 2661.7C1170.1 2664.4 1171.3 2667.2 1172.5 2669.9C1173.7 2672.7 1174.9 2675.4 1176.1 2678.2C1177.2 2680.9 1178.4 2683.7 1179.6 2686.4C1180.8 2689.2 1181.9 2692.0 1183.1 2694.7C1184.2 2697.5 1185.4 2700.3 1186.5 2703.0C1187.7 2705.8 1188.8 2708.6 1190.0 2711.4C1191.1 2714.1 1192.2 2716.9 1193.4 2719.7C1194.5 2722.5 1195.6 2725.3 1196.7 2728.0C1197.9 2730.8 1199.0 2733.6 1200.1 2736.4C1201.2 2739.2 1202.3 2742.0 1203.4 2744.8C1204.6 2747.6 1205.7 2750.3 1206.8 2753.1C1207.9 2755.9 1209.0 2758.7 1210.1 2761.5C1211.2 2764.3 1212.3 2767.1 1213.4 2769.9C1214.5 2772.7 1215.6 2775.5 1216.6 2778.3C1217.7 2781.1 1218.8 2783.9 1219.9 2786.7C1221.0 2789.5 1222.1 2792.3 1223.2 2795.1C1224.3 2797.9 1225.4 2800.7 1226.5 2803.5C1227.5 2806.3 1228.6 2809.1 1229.7 2811.9C1230.8 2814.7 1231.9 2817.5 1233.0 2820.3C1234.1 2823.1 1235.2 2825.9 1236.3 2828.7C1237.3 2831.5 1238.4 2834.3 1239.5 2837.1C1240.6 2839.9 1241.7 2842.7 1242.8 2845.5C1243.9 2848.3 1245.0 2851.1 1246.1 2853.9C1247.2 2856.7 1248.3 2859.5 1249.4 2862.3C1250.5 2865.1 1251.6 2867.9 1252.7 2870.7C1253.8 2873.5 1255.0 2876.3 1256.1 2879.1C1257.2 2881.8 1258.3 2884.6 1259.4 2887.4C1260.6 2890.2 1261.7 2893.0 1262.8 2895.8C1264.0 2898.5 1265.1 2901.3 1266.2 2904.1C1267.4 2906.9 1268.5 2909.7 1269.7 2912.4C1270.8 2915.2 1272.0 2918.0 1273.1 2920.7C1274.3 2923.5 1275.5 2926.3 1276.6 2929.0C1277.8 2931.8 1279.0 2934.6 1280.2 2937.3C1281.4 2940.1 1282.6 2942.8 1283.8 2945.6C1285.0 2948.3 1286.2 2951.1 1287.4 2953.8C1288.6 2956.6 1289.8 2959.3 1291.0 2962.0C1292.3 2964.8 1293.5 2967.5 1294.8 2970.2C1296.0 2973.0 1297.3 2975.7 1298.5 2978.4C1299.8 2981.1 1301.0 2983.8 1302.3 2986.6C1303.6 2989.3 1304.9 2992.0 1306.2 2994.7C1307.5 2997.4 1308.8 3000.1 1310.1 3002.8C1311.4 3005.5 1312.7 3008.2 1314.1 3010.8C1315.4 3013.5 1316.7 3016.2 1318.1 3018.9C1319.5 3021.6 1320.8 3024.2 1322.2 3026.9C1323.6 3029.6 1325.0 3032.2 1326.4 3034.9C1327.8 3037.5 1329.2 3040.2 1330.6 3042.8C1332.0 3045.5 1333.4 3048.1 1334.9 3050.7C1336.3 3053.4 1337.8 3056.0 1339.3 3058.6C1340.7 3061.2 1342.2 3063.8 1343.7 3066.4C1345.2 3069.0 1346.7 3071.6 1348.3 3074.2C1349.8 3076.8 1351.3 3079.4 1352.9 3081.9C1354.4 3084.5 1356.0 3087.1 1357.6 3089.6C1359.2 3092.1 1360.8 3094.7 1362.4 3097.2C1364.0 3099.7 1365.7 3102.2 1367.3 3104.7C1369.0 3107.2 1370.7 3109.7 1372.4 3112.2C1374.1 3114.6 1375.8 3117.1 1377.5 3119.5C1379.3 3122.0 1381.0 3124.4 1382.8 3126.8C1384.6 3129.2 1386.4 3131.6 1388.2 3134.0C1390.0 3136.3 1391.9 3138.7 1393.7 3141.0C1395.6 3143.4 1397.4 3145.7 1399.3 3148.0C1401.2 3150.3 1403.1 3152.6 1405.1 3154.9C1407.0 3157.2 1409.0 3159.5 1410.9 3161.7C1412.9 3164.0 1414.9 3166.2 1416.9 3168.4C1418.9 3170.7 1420.9 3172.9 1422.9 3175.1C1424.9 3177.3 1427.0 3179.4 1429.0 3181.6C1431.1 3183.8 1433.2 3185.9 1435.3 3188.1C1437.4 3190.2 1439.5 3192.4 1441.6 3194.5C1443.7 3196.6 1445.8 3198.7 1448.0 3200.8C1450.1 3202.9 1452.3 3205.0 1454.4 3207.1C1456.6 3209.1 1458.8 3211.2 1460.9 3213.3C1463.1 3215.3 1465.3 3217.4 1467.5 3219.4C1469.8 3221.4 1472.0 3223.4 1474.2 3225.5C1476.4 3227.5 1478.7 3229.5 1480.9 3231.5C1483.2 3233.5 1485.4 3235.5 1487.7 3237.5C1490.0 3239.4 1492.2 3241.4 1494.5 3243.4C1496.8 3245.4 1499.1 3247.3 1501.4 3249.3C1503.7 3251.2 1506.0 3253.2 1508.3 3255.1C1510.6 3257.1 1512.9 3259.0 1515.2 3260.9C1517.5 3262.9 1519.8 3264.8 1522.2 3266.7C1524.5 3268.7 1526.8 3270.6 1529.1 3272.5C1531.5 3274.4 1533.8 3276.3 1536.2 3278.2C1538.5 3280.1 1540.9 3282.0 1543.3 3283.9C1545.6 3285.7 1548.0 3287.6 1550.4 3289.5C1552.8 3291.3 1555.1 3293.2 1557.5 3295.0C1559.9 3296.8 1562.3 3298.7 1564.8 3300.5C1567.2 3302.3 1569.6 3304.1 1572.0 3305.8C1574.5 3307.6 1576.9 3309.4 1579.4 3311.1C1581.8 3312.9 1584.3 3314.6 1586.8 3316.3C1589.3 3318.0 1591.7 3319.7 1594.2 3321.4C1596.7 3323.0 1599.3 3324.7 1601.8 3326.3C1604.3 3327.9 1606.8 3329.5 1609.4 3331.1C1612.0 3332.7 1614.5 3334.2 1617.1 3335.7C1619.7 3337.2 1622.3 3338.7 1624.9 3340.2C1627.5 3341.6 1630.1 3343.1 1632.7 3344.5C1635.4 3345.9 1638.0 3347.2 1640.7 3348.5C1643.3 3349.9 1646.0 3351.2 1648.7 3352.4C1651.4 3353.7 1654.1 3354.9 1656.9 3356.1C1659.6 3357.3 1662.3 3358.4 1665.1 3359.5C1667.8 3360.6 1670.6 3361.7 1673.4 3362.7C1676.2 3363.8 1679.0 3364.8 1681.8 3365.7C1684.6 3366.7 1687.4 3367.6 1690.3 3368.5C1693.1 3369.4 1696.0 3370.3 1698.8 3371.1C1701.7 3371.9 1704.5 3372.7 1707.4 3373.5C1710.3 3374.3 1713.2 3375.0 1716.1 3375.7C1719.0 3376.4 1721.9 3377.1 1724.8 3377.7C1727.8 3378.4 1730.7 3379.0 1733.6 3379.5C1736.6 3380.1 1739.5 3380.7 1742.4 3381.2C1745.4 3381.7 1748.3 3382.2 1751.3 3382.6C1754.3 3383.1 1757.2 3383.5 1760.2 3383.9C1763.2 3384.3 1766.2 3384.7 1769.2 3385.1C1772.1 3385.4 1775.1 3385.7 1778.1 3386.0C1781.1 3386.4 1784.1 3386.6 1787.1 3386.9C1790.1 3387.2 1793.1 3387.4 1796.1 3387.6C1799.1 3387.9 1802.1 3388.1 1805.1 3388.3C1808.2 3388.5 1811.2 3388.7 1814.2 3388.8C1817.2 3389.0 1820.2 3389.2 1823.2 3389.3C1826.2 3389.5 1829.3 3389.6 1832.3 3389.7C1835.3 3389.9 1838.3 3390.0 1841.3 3390.1C1844.3 3390.2 1847.4 3390.3 1850.4 3390.4C1853.4 3390.5 1856.4 3390.6 1859.4 3390.8C1862.4 3390.9 1865.4 3391.0 1868.4 3391.1C1871.5 3391.2 1874.5 3391.3 1877.5 3391.3C1880.5 3391.4 1883.5 3391.5 1886.5 3391.6C1889.5 3391.7 1892.5 3391.8 1895.5 3391.9C1898.5 3392.0 1901.5 3392.1 1904.5 3392.2C1907.5 3392.3 1910.5 3392.4 1913.5 3392.5C1916.5 3392.6 1919.5 3392.7 1922.5 3392.8C1925.5 3392.9 1928.5 3393.0 1931.5 3393.1C1934.5 3393.2 1937.5 3393.3 1940.5 3393.4C1943.5 3393.5 1946.5 3393.6 1949.5 3393.7C1952.5 3393.8 1955.5 3393.9 1958.5 3394.0C1961.5 3394.2 1964.5 3394.3 1967.5 3394.4C1970.5 3394.5 1973.5 3394.6 1976.4 3394.7C1979.4 3394.8 1982.4 3394.9 1985.4 3395.0C1988.4 3395.1 1991.4 3395.2 1994.4 3395.3C1997.4 3395.4 2000.4 3395.4 2003.4 3395.5C2006.4 3395.6 2009.4 3395.7 2012.4 3395.8C2015.4 3395.9 2018.3 3396.0 2021.3 3396.1C2024.3 3396.2 2027.3 3396.2 2030.3 3396.3C2033.3 3396.4 2036.3 3396.5 2039.3 3396.6C2042.3 3396.6 2045.3 3396.7 2048.3 3396.8C2051.3 3396.9 2054.3 3396.9 2057.3 3397.0C2060.3 3397.1 2063.3 3397.1 2066.3 3397.2C2069.3 3397.2 2072.3 3397.3 2075.3 3397.3C2078.3 3397.4 2081.3 3397.4 2084.3 3397.5C2087.3 3397.5 2090.3 3397.6 2093.3 3397.6C2096.3 3397.6 2099.3 3397.7 2102.3 3397.7C2105.3 3397.7 2108.3 3397.7 2111.3 3397.8C2114.3 3397.8 2117.3 3397.8 2120.4 3397.8C2123.4 3397.8 2126.4 3397.8 2129.4 3397.8C2132.4 3397.8 2135.4 3397.7 2138.4 3397.8C2141.4 3397.8 2145.9 3398.0 2147.4 3398.0"/>
<path class="c" stroke-width="7.6" d="M417.0 2245.3C418.5 2245.3 423.1 2245.1 426.1 2245.1C429.1 2245.1 432.1 2245.1 435.1 2245.2C438.1 2245.2 441.1 2245.2 444.0 2245.2C447.0 2245.2 450.0 2245.3 453.0 2245.3C456.0 2245.3 459.0 2245.3 462.0 2245.3C465.0 2245.3 468.0 2245.3 471.0 2245.4C474.0 2245.4 477.0 2245.4 480.0 2245.4C483.0 2245.4 486.0 2245.4 489.0 2245.4C492.0 2245.4 495.0 2245.5 498.0 2245.5C501.0 2245.5 504.0 2245.5 507.0 2245.5C510.0 2245.5 513.0 2245.5 516.0 2245.5C519.0 2245.5 522.0 2245.5 525.0 2245.5C528.0 2245.6 531.0 2245.6 534.0 2245.6C537.0 2245.6 540.0 2245.6 543.0 2245.6C546.0 2245.6 549.0 2245.6 552.0 2245.6C555.0 2245.6 558.0 2245.6 561.0 2245.6C564.0 2245.6 567.0 2245.6 570.0 2245.6C573.0 2245.6 576.0 2245.6 579.0 2245.6C582.0 2245.6 585.0 2245.6 588.0 2245.6C591.0 2245.6 594.0 2245.7 597.0 2245.7C600.0 2245.7 603.0 2245.7 606.0 2245.7C609.0 2245.7 612.0 2245.7 615.0 2245.7C618.0 2245.7 621.0 2245.7 624.0 2245.7C627.0 2245.7 630.0 2245.7 633.0 2245.7C636.0 2245.7 639.0 2245.7 642.0 2245.7C645.0 2245.7 648.0 2245.7 651.0 2245.7C654.0 2245.7 657.0 2245.7 660.0 2245.7C663.0 2245.7 666.0 2245.7 669.1 2245.7C672.1 2245.7 675.1 2245.7 678.1 2245.7C681.1 2245.7 684.1 2245.7 687.1 2245.7C690.1 2245.7 693.1 2245.7 696.1 2245.7C699.1 2245.7 702.1 2245.7 705.1 2245.7C708.1 2245.7 711.1 2245.7 714.1 2245.7C717.1 2245.7 720.1 2245.7 723.1 2245.7C726.1 2245.7 729.1 2245.7 732.1 2245.7C735.1 2245.7 738.1 2245.7 741.1 2245.7C744.1 2245.7 747.1 2245.7 750.1 2245.7C753.1 2245.7 756.1 2245.7 759.1 2245.7C762.1 2245.7 765.2 2245.7 768.2 2245.7C771.2 2245.8 774.2 2245.8 777.2 2245.8C780.2 2245.8 783.2 2245.8 786.2 2245.8C789.2 2245.8 792.2 2245.8 795.2 2245.8C798.2 2245.8 801.2 2245.8 804.2 2245.8C807.2 2245.8 810.2 2245.8 813.2 2245.8C816.2 2245.9 819.2 2245.9 822.2 2245.9C825.2 2245.9 828.2 2245.9 831.2 2245.9C834.2 2245.9 837.2 2245.9 840.2 2245.9C843.2 2246.0 846.2 2246.0 849.2 2246.0C852.2 2246.0 855.2 2246.0 858.2 2246.0C861.2 2246.0 864.2 2246.1 867.2 2246.1C870.2 2246.1 873.2 2246.1 876.2 2246.1C879.2 2246.1 882.2 2246.2 885.2 2246.2C888.2 2246.2 891.2 2246.2 894.2 2246.2C897.2 2246.2 900.2 2246.3 903.2 2246.3C906.2 2246.3 909.2 2246.3 912.2 2246.4C915.2 2246.4 918.2 2246.4 921.2 2246.4C924.2 2246.5 927.2 2246.5 930.2 2246.5C933.2 2246.5 936.2 2246.6 939.2 2246.6C942.2 2246.6 945.2 2246.7 948.2 2246.7C951.2 2246.7 954.2 2246.7 957.2 2246.8C960.2 2246.8 963.2 2246.8 966.2 2246.9C969.2 2246.9 972.2 2246.9 975.2 2247.0C978.2 2247.0 981.2 2247.1 984.2 2247.1C987.2 2247.1 990.2 2247.2 993.2 2247.2C996.2 2247.3 999.2 2247.3 1002.2 2247.3C1005.2 2247.4 1008.1 2247.4 1011.1 2247.5C1014.1 2247.5 1017.1 2247.6 1020.1 2247.6C1023.1 2247.7 1026.1 2247.7 1029.1 2247.8C1032.1 2247.8 1035.1 2247.9 1038.1 2247.9C1041.1 2248.0 1044.1 2248.0 1047.1 2248.1C1050.1 2248.1 1053.1 2248.2 1056.1 2248.3C1059.1 2248.3 1062.1 2248.4 1065.0 2248.4C1068.0 2248.5 1071.0 2248.6 1074.0 2248.6C1077.0 2248.7 1080.0 2248.8 1083.0 2248.8C1086.0 2248.9 1089.0 2249.0 1092.0 2249.0C1095.0 2249.1 1098.0 2249.2 1101.0 2249.3C1104.0 2249.3 1107.0 2249.4 1110.0 2249.5C1113.0 2249.6 1116.0 2249.6 1119.0 2249.7C1122.0 2249.8 1125.0 2249.9 1128.0 2250.0C1131.0 2250.1 1134.0 2250.2 1137.0 2250.3C1140.0 2250.3 1143.0 2250.4 1146.0 2250.5C1149.0 2250.6 1152.0 2250.7 1155.0 2250.8C1158.0 2250.9 1161.0 2251.0 1164.0 2251.1C1167.0 2251.2 1170.0 2251.3 1173.0 2251.4C1176.0 2251.5 1179.0 2251.7 1182.0 2251.8C1185.0 2251.9 1188.0 2252.0 1191.0 2252.1C1194.0 2252.2 1197.0 2252.3 1200.0 2252.5C1203.0 2252.6 1206.0 2252.7 1209.0 2252.8C1212.1 2253.0 1215.1 2253.1 1218.1 2253.2C1221.1 2253.3 1224.1 2253.5 1227.1 2253.6C1230.1 2253.7 1233.1 2253.9 1236.1 2254.0C1239.1 2254.2 1242.2 2254.3 1245.2 2254.5C1248.2 2254.6 1251.2 2254.7 1254.2 2254.9C1257.2 2255.1 1260.2 2255.2 1263.3 2255.4C1266.3 2255.5 1269.3 2255.7 1272.3 2255.8C1275.3 2256.0 1278.4 2256.2 1281.4 2256.3C1284.4 2256.5 1287.4 2256.7 1290.4 2256.9C1293.4 2257.1 1296.5 2257.3 1299.5 2257.5C1302.5 2257.7 1305.5 2258.0 1308.5 2258.3C1311.5 2258.5 1314.5 2258.8 1317.5 2259.2C1320.5 2259.5 1323.5 2259.8 1326.4 2260.2C1329.4 2260.6 1332.4 2261.1 1335.4 2261.5C1338.3 2262.0 1341.3 2262.5 1344.2 2263.1C1347.2 2263.6 1350.1 2264.2 1353.0 2264.9C1355.9 2265.5 1358.8 2266.3 1361.7 2267.0C1364.6 2267.8 1367.5 2268.6 1370.3 2269.5C1373.2 2270.4 1376.1 2271.3 1378.9 2272.3C1381.7 2273.3 1384.5 2274.3 1387.3 2275.4C1390.1 2276.5 1392.8 2277.6 1395.6 2278.8C1398.3 2280.0 1401.0 2281.3 1403.7 2282.6C1406.4 2283.9 1409.1 2285.2 1411.7 2286.6C1414.3 2288.0 1416.9 2289.5 1419.5 2291.0C1422.1 2292.5 1424.6 2294.0 1427.1 2295.6C1429.6 2297.2 1432.1 2298.9 1434.5 2300.6C1436.9 2302.3 1439.3 2304.0 1441.7 2305.8C1444.0 2307.6 1446.3 2309.4 1448.6 2311.3C1450.9 2313.2 1453.1 2315.2 1455.3 2317.1C1457.5 2319.1 1459.6 2321.1 1461.7 2323.2C1463.8 2325.3 1465.8 2327.4 1467.8 2329.5C1469.8 2331.7 1471.8 2333.9 1473.7 2336.1C1475.6 2338.4 1477.4 2340.7 1479.2 2343.0C1481.1 2345.3 1482.8 2347.7 1484.6 2350.0C1486.3 2352.4 1488.0 2354.9 1489.6 2357.3C1491.3 2359.8 1492.9 2362.3 1494.5 2364.8C1496.1 2367.3 1497.6 2369.9 1499.1 2372.5C1500.6 2375.0 1502.1 2377.6 1503.5 2380.3C1504.9 2382.9 1506.3 2385.6 1507.7 2388.2C1509.1 2390.9 1510.4 2393.6 1511.8 2396.3C1513.1 2399.1 1514.4 2401.8 1515.6 2404.6C1516.9 2407.3 1518.1 2410.1 1519.3 2412.9C1520.5 2415.7 1521.7 2418.5 1522.9 2421.3C1524.0 2424.1 1525.2 2426.9 1526.3 2429.8C1527.4 2432.6 1528.5 2435.5 1529.6 2438.3C1530.7 2441.2 1531.7 2444.0 1532.8 2446.9C1533.8 2449.7 1534.8 2452.6 1535.9 2455.5C1536.9 2458.3 1537.9 2461.2 1538.9 2464.1C1539.9 2467.0 1540.8 2469.8 1541.8 2472.7C1542.8 2475.6 1543.7 2478.5 1544.6 2481.3C1545.6 2484.2 1546.5 2487.1 1547.4 2490.0C1548.3 2492.9 1549.2 2495.7 1550.1 2498.6C1551.0 2501.5 1551.9 2504.4 1552.7 2507.3C1553.6 2510.2 1554.4 2513.1 1555.3 2515.9C1556.1 2518.8 1556.9 2521.7 1557.8 2524.6C1558.6 2527.5 1559.4 2530.4 1560.2 2533.3C1561.0 2536.2 1561.8 2539.1 1562.5 2542.0C1563.3 2544.9 1564.1 2547.8 1564.8 2550.7C1565.6 2553.6 1566.3 2556.5 1567.1 2559.4C1567.8 2562.3 1568.5 2565.2 1569.3 2568.1C1570.0 2571.0 1570.7 2573.9 1571.4 2576.8C1572.1 2579.7 1572.8 2582.6 1573.5 2585.5C1574.2 2588.4 1574.9 2591.3 1575.5 2594.3C1576.2 2597.2 1576.9 2600.1 1577.5 2603.0C1578.2 2605.9 1578.8 2608.8 1579.5 2611.7C1580.1 2614.7 1580.7 2617.6 1581.4 2620.5C1582.0 2623.4 1582.6 2626.3 1583.3 2629.3C1583.9 2632.2 1584.5 2635.1 1585.1 2638.0C1585.7 2640.9 1586.3 2643.9 1586.9 2646.8C1587.5 2649.7 1588.1 2652.6 1588.7 2655.6C1589.3 2658.5 1589.8 2661.4 1590.4 2664.4C1591.0 2667.3 1591.6 2670.2 1592.1 2673.2C1592.7 2676.1 1593.3 2679.0 1593.8 2682.0C1594.4 2684.9 1595.0 2687.8 1595.5 2690.8C1596.1 2693.7 1596.6 2696.6 1597.2 2699.6C1597.7 2702.5 1598.3 2705.4 1598.8 2708.4C1599.4 2711.3 1599.9 2714.3 1600.5 2717.2C1601.0 2720.1 1601.6 2723.1 1602.1 2726.0C1602.6 2729.0 1603.2 2731.9 1603.7 2734.9C1604.3 2737.8 1604.8 2740.8 1605.3 2743.7C1605.9 2746.7 1606.4 2749.6 1606.9 2752.6C1607.5 2755.5 1608.0 2758.4 1608.6 2761.4C1609.1 2764.4 1609.6 2767.3 1610.2 2770.3C1610.7 2773.2 1611.2 2776.2 1611.8 2779.1C1612.3 2782.1 1612.8 2785.0 1613.4 2788.0C1613.9 2790.9 1614.5 2793.9 1615.0 2796.8C1615.5 2799.8 1616.1 2802.8 1616.6 2805.7C1617.1 2808.7 1617.7 2811.6 1618.2 2814.6C1618.8 2817.5 1619.3 2820.5 1619.8 2823.5C1620.4 2826.4 1620.9 2829.4 1621.4 2832.3C1622.0 2835.3 1622.5 2838.3 1623.1 2841.2C1623.6 2844.2 1624.1 2847.1 1624.7 2850.1C1625.2 2853.1 1625.7 2856.0 1626.3 2859.0C1626.8 2861.9 1627.4 2864.9 1627.9 2867.9C1628.4 2870.8 1629.0 2873.8 1629.5 2876.7C1630.0 2879.7 1630.6 2882.7 1631.1 2885.6C1631.7 2888.6 1632.2 2891.5 1632.7 2894.5C1633.3 2897.5 1633.8 2900.4 1634.3 2903.4C1634.9 2906.4 1635.4 2909.3 1636.0 2912.3C1636.5 2915.2 1637.0 2918.2 1637.6 2921.2C1638.1 2924.1 1638.7 2927.1 1639.2 2930.0C1639.7 2933.0 1640.3 2935.9 1640.8 2938.9C1641.3 2941.9 1641.9 2944.8 1642.4 2947.8C1643.0 2950.7 1643.5 2953.7 1644.1 2956.6C1644.6 2959.6 1645.1 2962.6 1645.7 2965.5C1646.3 2968.5 1646.8 2971.4 1647.4 2974.4C1647.9 2977.3 1648.5 2980.3 1649.1 2983.2C1649.6 2986.2 1650.2 2989.1 1650.8 2992.1C1651.4 2995.0 1652.0 2997.9 1652.6 3000.9C1653.2 3003.8 1653.8 3006.8 1654.4 3009.7C1655.0 3012.6 1655.7 3015.6 1656.3 3018.5C1657.0 3021.4 1657.6 3024.4 1658.3 3027.3C1658.9 3030.2 1659.6 3033.1 1660.3 3036.1C1661.0 3039.0 1661.7 3041.9 1662.4 3044.8C1663.1 3047.7 1663.9 3050.6 1664.6 3053.5C1665.4 3056.5 1666.1 3059.4 1666.9 3062.3C1667.7 3065.2 1668.5 3068.1 1669.3 3071.0C1670.1 3073.8 1670.9 3076.7 1671.8 3079.6C1672.6 3082.5 1673.5 3085.4 1674.4 3088.3C1675.3 3091.1 1676.2 3094.0 1677.1 3096.9C1678.0 3099.8 1679.0 3102.6 1680.0 3105.5C1680.9 3108.3 1681.9 3111.2 1682.9 3114.0C1684.0 3116.9 1685.0 3119.7 1686.1 3122.6C1687.1 3125.4 1688.2 3128.2 1689.4 3131.0C1690.5 3133.8 1691.7 3136.6 1692.9 3139.4C1694.1 3142.2 1695.3 3144.9 1696.6 3147.6C1697.9 3150.3 1699.2 3153.0 1700.6 3155.6C1701.9 3158.3 1703.3 3160.9 1704.8 3163.4C1706.3 3166.0 1707.8 3168.5 1709.4 3171.0C1711.0 3173.4 1712.6 3175.8 1714.3 3178.2C1716.0 3180.5 1717.8 3182.8 1719.6 3185.1C1721.4 3187.3 1723.3 3189.5 1725.3 3191.5C1727.2 3193.6 1729.3 3195.7 1731.4 3197.6C1733.5 3199.5 1735.7 3201.4 1738.0 3203.2C1740.3 3205.0 1742.6 3206.7 1745.0 3208.3C1747.4 3209.9 1749.9 3211.4 1752.5 3212.9C1755.0 3214.4 1757.7 3215.8 1760.3 3217.1C1763.0 3218.4 1765.7 3219.7 1768.5 3220.9C1771.2 3222.1 1774.0 3223.2 1776.9 3224.3C1779.7 3225.3 1782.6 3226.4 1785.5 3227.3C1788.4 3228.3 1791.3 3229.2 1794.3 3230.0C1797.2 3230.9 1800.2 3231.7 1803.2 3232.4C1806.2 3233.2 1809.2 3233.9 1812.2 3234.6C1815.2 3235.2 1818.2 3235.8 1821.2 3236.4C1824.3 3237.0 1827.3 3237.6 1830.3 3238.1C1833.3 3238.6 1836.4 3239.1 1839.4 3239.6C1842.4 3240.1 1845.4 3240.5 1848.4 3240.9C1851.4 3241.3 1854.5 3241.7 1857.5 3242.1C1860.5 3242.4 1863.5 3242.8 1866.5 3243.1C1869.5 3243.4 1872.5 3243.7 1875.5 3244.0C1878.5 3244.3 1881.5 3244.5 1884.5 3244.8C1887.5 3245.0 1890.5 3245.2 1893.5 3245.4C1896.5 3245.6 1899.5 3245.8 1902.5 3246.0C1905.5 3246.1 1908.5 3246.3 1911.4 3246.4C1914.4 3246.5 1917.4 3246.7 1920.4 3246.8C1923.4 3246.9 1926.4 3247.0 1929.4 3247.1C1932.4 3247.1 1935.3 3247.2 1938.3 3247.3C1941.3 3247.3 1944.3 3247.4 1947.3 3247.4C1950.3 3247.5 1953.3 3247.5 1956.2 3247.6C1959.2 3247.6 1962.2 3247.6 1965.2 3247.6C1968.2 3247.6 1971.2 3247.7 1974.2 3247.7C1977.1 3247.7 1980.1 3247.7 1983.1 3247.7C1986.1 3247.7 1989.1 3247.7 1992.1 3247.7C1995.1 3247.7 1998.1 3247.7 2001.1 3247.7C2004.0 3247.7 2007.0 3247.7 2010.0 3247.7C2013.0 3247.7 2016.0 3247.7 2019.0 3247.7C2022.0 3247.8 2025.0 3247.8 2028.0 3247.8C2031.0 3247.8 2034.0 3247.8 2037.0 3247.8C2040.0 3247.8 2043.0 3247.8 2046.0 3247.8C2049.0 3247.9 2052.0 3247.9 2055.0 3247.9C2058.0 3247.9 2061.0 3247.9 2064.0 3247.9C2067.0 3247.9 2070.0 3247.9 2073.0 3248.0C2076.0 3248.0 2079.0 3248.0 2082.1 3248.0C2085.1 3248.0 2088.1 3248.0 2091.1 3248.0C2094.1 3248.1 2097.1 3248.1 2100.1 3248.1C2103.1 3248.1 2106.1 3248.1 2109.1 3248.1C2112.1 3248.1 2115.1 3248.2 2118.1 3248.2C2121.1 3248.2 2124.1 3248.2 2127.2 3248.2C2130.2 3248.2 2133.2 3248.2 2136.2 3248.2C2139.2 3248.3 2142.2 3248.3 2145.2 3248.3C2148.2 3248.3 2151.2 3248.3 2154.2 3248.3C2157.2 3248.3 2160.2 3248.3 2163.2 3248.3C2166.2 3248.3 2169.2 3248.3 2172.2 3248.3C2175.2 3248.3 2178.2 3248.4 2181.2 3248.4C2184.3 3248.4 2187.3 3248.4 2190.3 3248.4C2193.3 3248.4 2196.3 3248.4 2199.3 3248.4C2202.3 3248.3 2205.3 3248.3 2208.3 3248.3C2211.3 3248.3 2214.3 3248.3 2217.2 3248.3C2220.2 3248.3 2223.2 3248.3 2226.2 3248.3C2229.2 3248.3 2232.2 3248.3 2235.2 3248.2C2238.2 3248.2 2241.2 3248.2 2244.2 3248.2C2247.2 3248.2 2250.2 3248.1 2253.2 3248.1C2256.2 3248.1 2260.7 3248.2 2262.2 3248.2"/>
<path class="c" stroke-width="9" d="M417.0 2245.3C418.5 2245.3 423.1 2245.1 426.1 2245.1C429.1 2245.1 432.1 2245.1 435.1 2245.2C438.1 2245.2 441.1 2245.2 444.0 2245.2C447.0 2245.2 450.0 2245.3 453.0 2245.3C456.0 2245.3 459.0 2245.3 462.0 2245.3C465.0 2245.3 468.0 2245.3 471.0 2245.4C474.0 2245.4 477.0 2245.4 480.0 2245.4C483.0 2245.4 486.0 2245.4 489.0 2245.4C492.0 2245.4 495.0 2245.5 498.0 2245.5C501.0 2245.5 504.0 2245.5 507.0 2245.5C510.0 2245.5 513.0 2245.5 516.0 2245.5C519.0 2245.5 522.0 2245.5 525.0 2245.5C528.0 2245.6 531.0 2245.6 534.0 2245.6C537.0 2245.6 540.0 2245.6 543.0 2245.6C546.0 2245.6 549.0 2245.6 552.0 2245.6C555.0 2245.6 558.0 2245.6 561.0 2245.6C564.0 2245.6 567.0 2245.6 570.0 2245.6C573.0 2245.6 576.0 2245.6 579.0 2245.6C582.0 2245.6 585.0 2245.6 588.0 2245.6C591.0 2245.6 594.0 2245.7 597.0 2245.7C600.0 2245.7 603.0 2245.7 606.0 2245.7C609.0 2245.7 612.0 2245.7 615.0 2245.7C618.0 2245.7 621.0 2245.7 624.0 2245.7C627.0 2245.7 630.0 2245.7 633.0 2245.7C636.0 2245.7 639.0 2245.7 642.0 2245.7C645.0 2245.7 648.0 2245.7 651.0 2245.7C654.0 2245.7 657.0 2245.7 660.0 2245.7C663.0 2245.7 666.0 2245.7 669.1 2245.7C672.1 2245.7 675.1 2245.7 678.1 2245.7C681.1 2245.7 684.1 2245.7 687.1 2245.7C690.1 2245.7 693.1 2245.7 696.1 2245.7C699.1 2245.7 702.1 2245.7 705.1 2245.7C708.1 2245.7 711.1 2245.7 714.1 2245.7C717.1 2245.7 720.1 2245.7 723.1 2245.7C726.1 2245.7 729.1 2245.7 732.1 2245.7C735.1 2245.7 738.1 2245.7 741.1 2245.7C744.1 2245.7 747.1 2245.7 750.1 2245.7C753.1 2245.7 756.1 2245.7 759.1 2245.7C762.1 2245.7 765.2 2245.7 768.2 2245.7C771.2 2245.8 774.2 2245.8 777.2 2245.8C780.2 2245.8 783.2 2245.8 786.2 2245.8C789.2 2245.8 792.2 2245.8 795.2 2245.8C798.2 2245.8 801.2 2245.8 804.2 2245.8C807.2 2245.8 810.2 2245.8 813.2 2245.8C816.2 2245.9 819.2 2245.9 822.2 2245.9C825.2 2245.9 828.2 2245.9 831.2 2245.9C834.2 2245.9 837.2 2245.9 840.2 2245.9C843.2 2246.0 846.2 2246.0 849.2 2246.0C852.2 2246.0 855.2 2246.0 858.2 2246.0C861.2 2246.0 864.2 2246.1 867.2 2246.1C870.2 2246.1 873.2 2246.1 876.2 2246.1C879.2 2246.1 882.2 2246.2 885.2 2246.2C888.2 2246.2 891.2 2246.2 894.2 2246.2C897.2 2246.2 900.2 2246.3 903.2 2246.3C906.2 2246.3 909.2 2246.3 912.2 2246.4C915.2 2246.4 918.2 2246.4 921.2 2246.4C924.2 2246.5 927.2 2246.5 930.2 2246.5C933.2 2246.5 936.2 2246.6 939.2 2246.6C942.2 2246.6 945.2 2246.7 948.2 2246.7C951.2 2246.7 954.2 2246.7 957.2 2246.8C960.2 2246.8 963.2 2246.8 966.2 2246.9C969.2 2246.9 972.2 2246.9 975.2 2247.0C978.2 2247.0 981.2 2247.1 984.2 2247.1C987.2 2247.1 990.2 2247.2 993.2 2247.2C996.2 2247.3 999.2 2247.3 1002.2 2247.3C1005.2 2247.4 1008.1 2247.4 1011.1 2247.5C1014.1 2247.5 1017.1 2247.6 1020.1 2247.6C1023.1 2247.7 1026.1 2247.7 1029.1 2247.8C1032.1 2247.8 1035.1 2247.9 1038.1 2247.9C1041.1 2248.0 1044.1 2248.0 1047.1 2248.1C1050.1 2248.1 1053.1 2248.2 1056.1 2248.3C1059.1 2248.3 1062.1 2248.4 1065.0 2248.4C1068.0 2248.5 1071.0 2248.6 1074.0 2248.6C1077.0 2248.7 1080.0 2248.8 1083.0 2248.8C1086.0 2248.9 1089.0 2249.0 1092.0 2249.0C1095.0 2249.1 1098.0 2249.2 1101.0 2249.3C1104.0 2249.3 1107.0 2249.4 1110.0 2249.5C1113.0 2249.6 1116.0 2249.6 1119.0 2249.7C1122.0 2249.8 1125.0 2249.9 1128.0 2250.0C1131.0 2250.1 1134.0 2250.2 1137.0 2250.3C1140.0 2250.3 1143.0 2250.4 1146.0 2250.5C1149.0 2250.6 1152.0 2250.7 1155.0 2250.8C1158.0 2250.9 1161.0 2251.0 1164.0 2251.1C1167.0 2251.2 1170.0 2251.3 1173.0 2251.4C1176.0 2251.5 1179.0 2251.7 1182.0 2251.8C1185.0 2251.9 1188.0 2252.0 1191.0 2252.1C1194.0 2252.2 1197.0 2252.3 1200.0 2252.5C1203.0 2252.6 1206.0 2252.7 1209.0 2252.8C1212.1 2253.0 1215.1 2253.1 1218.1 2253.2C1221.1 2253.3 1224.1 2253.5 1227.1 2253.6C1230.1 2253.7 1233.1 2253.9 1236.1 2254.0C1239.1 2254.2 1242.2 2254.3 1245.2 2254.5C1248.2 2254.6 1251.2 2254.7 1254.2 2254.9C1257.2 2255.1 1260.2 2255.2 1263.3 2255.4C1266.3 2255.5 1269.3 2255.7 1272.3 2255.8C1275.3 2256.0 1278.4 2256.2 1281.4 2256.3C1284.4 2256.5 1287.4 2256.7 1290.4 2256.9C1293.4 2257.1 1296.5 2257.3 1299.5 2257.5C1302.5 2257.7 1305.5 2258.0 1308.5 2258.3C1311.5 2258.5 1314.5 2258.8 1317.5 2259.2C1320.5 2259.5 1323.5 2259.8 1326.4 2260.2C1329.4 2260.6 1332.4 2261.1 1335.4 2261.5C1338.3 2262.0 1341.3 2262.5 1344.2 2263.1C1347.2 2263.6 1350.1 2264.2 1353.0 2264.9C1355.9 2265.5 1358.8 2266.3 1361.7 2267.0C1364.6 2267.8 1367.5 2268.6 1370.3 2269.5C1373.2 2270.4 1376.1 2271.3 1378.9 2272.3C1381.7 2273.3 1384.5 2274.3 1387.3 2275.4C1390.1 2276.5 1392.8 2277.6 1395.6 2278.8C1398.3 2280.0 1401.0 2281.3 1403.7 2282.6C1406.4 2283.9 1410.4 2286.0 1411.7 2286.6"/>
<path class="c" stroke-width="9" d="M1760.3 3217.1C1761.7 3217.7 1765.7 3219.7 1768.5 3220.9C1771.2 3222.1 1774.0 3223.2 1776.9 3224.3C1779.7 3225.3 1782.6 3226.4 1785.5 3227.3C1788.4 3228.3 1791.3 3229.2 1794.3 3230.0C1797.2 3230.9 1800.2 3231.7 1803.2 3232.4C1806.2 3233.2 1809.2 3233.9 1812.2 3234.6C1815.2 3235.2 1818.2 3235.8 1821.2 3236.4C1824.3 3237.0 1827.3 3237.6 1830.3 3238.1C1833.3 3238.6 1836.4 3239.1 1839.4 3239.6C1842.4 3240.1 1845.4 3240.5 1848.4 3240.9C1851.4 3241.3 1854.5 3241.7 1857.5 3242.1C1860.5 3242.4 1863.5 3242.8 1866.5 3243.1C1869.5 3243.4 1872.5 3243.7 1875.5 3244.0C1878.5 3244.3 1881.5 3244.5 1884.5 3244.8C1887.5 3245.0 1890.5 3245.2 1893.5 3245.4C1896.5 3245.6 1899.5 3245.8 1902.5 3246.0C1905.5 3246.1 1908.5 3246.3 1911.4 3246.4C1914.4 3246.5 1917.4 3246.7 1920.4 3246.8C1923.4 3246.9 1926.4 3247.0 1929.4 3247.1C1932.4 3247.1 1935.3 3247.2 1938.3 3247.3C1941.3 3247.3 1944.3 3247.4 1947.3 3247.4C1950.3 3247.5 1953.3 3247.5 1956.2 3247.6C1959.2 3247.6 1962.2 3247.6 1965.2 3247.6C1968.2 3247.6 1971.2 3247.7 1974.2 3247.7C1977.1 3247.7 1980.1 3247.7 1983.1 3247.7C1986.1 3247.7 1989.1 3247.7 1992.1 3247.7C1995.1 3247.7 1998.1 3247.7 2001.1 3247.7C2004.0 3247.7 2007.0 3247.7 2010.0 3247.7C2013.0 3247.7 2016.0 3247.7 2019.0 3247.7C2022.0 3247.8 2025.0 3247.8 2028.0 3247.8C2031.0 3247.8 2034.0 3247.8 2037.0 3247.8C2040.0 3247.8 2043.0 3247.8 2046.0 3247.8C2049.0 3247.9 2052.0 3247.9 2055.0 3247.9C2058.0 3247.9 2061.0 3247.9 2064.0 3247.9C2067.0 3247.9 2070.0 3247.9 2073.0 3248.0C2076.0 3248.0 2079.0 3248.0 2082.1 3248.0C2085.1 3248.0 2088.1 3248.0 2091.1 3248.0C2094.1 3248.1 2097.1 3248.1 2100.1 3248.1C2103.1 3248.1 2106.1 3248.1 2109.1 3248.1C2112.1 3248.1 2115.1 3248.2 2118.1 3248.2C2121.1 3248.2 2124.1 3248.2 2127.2 3248.2C2130.2 3248.2 2133.2 3248.2 2136.2 3248.2C2139.2 3248.3 2142.2 3248.3 2145.2 3248.3C2148.2 3248.3 2151.2 3248.3 2154.2 3248.3C2157.2 3248.3 2160.2 3248.3 2163.2 3248.3C2166.2 3248.3 2169.2 3248.3 2172.2 3248.3C2175.2 3248.3 2178.2 3248.4 2181.2 3248.4C2184.3 3248.4 2187.3 3248.4 2190.3 3248.4C2193.3 3248.4 2196.3 3248.4 2199.3 3248.4C2202.3 3248.3 2205.3 3248.3 2208.3 3248.3C2211.3 3248.3 2214.3 3248.3 2217.2 3248.3C2220.2 3248.3 2223.2 3248.3 2226.2 3248.3C2229.2 3248.3 2232.2 3248.3 2235.2 3248.2C2238.2 3248.2 2241.2 3248.2 2244.2 3248.2C2247.2 3248.2 2250.2 3248.1 2253.2 3248.1C2256.2 3248.1 2260.7 3248.2 2262.2 3248.2"/>
<path class="c" stroke-width="7.6" style="stroke-linecap:butt" d="M414.5 2247.0C415.2 2247.0 417.3 2246.9 418.7 2246.9C420.1 2246.9 421.4 2246.9 422.7 2246.9C424.0 2246.9 425.4 2246.9 426.7 2246.9C428.0 2246.9 429.3 2246.9 430.7 2246.9C432.0 2246.9 433.3 2246.9 434.7 2246.9C436.0 2247.0 437.3 2247.0 438.6 2247.0C440.0 2247.0 441.3 2247.0 442.6 2247.0C444.0 2247.0 445.3 2247.0 446.6 2247.0C447.9 2247.0 449.3 2247.0 450.6 2247.0C451.9 2247.0 453.3 2247.0 454.6 2247.0C455.9 2247.0 457.3 2247.0 458.6 2247.0C459.9 2247.0 461.2 2247.0 462.6 2247.1C463.9 2247.1 465.2 2247.1 466.6 2247.1C467.9 2247.1 469.2 2247.1 470.6 2247.1C471.9 2247.1 473.2 2247.1 474.6 2247.1C475.9 2247.1 477.2 2247.1 478.5 2247.1C479.9 2247.1 481.2 2247.1 482.5 2247.1C483.9 2247.1 485.2 2247.1 486.5 2247.1C487.9 2247.1 489.2 2247.1 490.5 2247.1C491.9 2247.1 493.2 2247.1 494.5 2247.2C495.9 2247.2 497.2 2247.2 498.5 2247.2C499.9 2247.2 501.2 2247.2 502.5 2247.2C503.9 2247.2 505.2 2247.2 506.5 2247.2C507.9 2247.2 509.2 2247.2 510.5 2247.2C511.9 2247.2 513.2 2247.2 514.5 2247.2C515.9 2247.2 517.2 2247.2 518.5 2247.2C519.8 2247.2 521.2 2247.2 522.5 2247.2C523.8 2247.2 525.2 2247.2 526.5 2247.2C527.8 2247.2 529.2 2247.2 530.5 2247.2C531.9 2247.3 533.2 2247.3 534.5 2247.3C535.9 2247.3 537.2 2247.3 538.5 2247.3C539.9 2247.3 541.2 2247.3 542.5 2247.3C543.9 2247.3 545.2 2247.3 546.5 2247.3C547.9 2247.3 549.2 2247.3 550.5 2247.3C551.9 2247.3 553.2 2247.3 554.5 2247.3C555.9 2247.3 557.2 2247.3 558.5 2247.3C559.9 2247.3 561.2 2247.3 562.5 2247.3C563.9 2247.3 565.2 2247.3 566.5 2247.3C567.9 2247.3 569.2 2247.3 570.5 2247.3C571.9 2247.4 573.2 2247.4 574.6 2247.4C575.9 2247.4 577.2 2247.4 578.6 2247.4C579.9 2247.4 581.2 2247.4 582.6 2247.4C583.9 2247.4 585.2 2247.4 586.6 2247.4C587.9 2247.4 589.2 2247.4 590.6 2247.4C591.9 2247.4 593.2 2247.4 594.6 2247.4C595.9 2247.4 597.3 2247.4 598.6 2247.4C599.9 2247.4 601.3 2247.4 602.6 2247.4C603.9 2247.4 605.3 2247.4 606.6 2247.4C607.9 2247.4 609.3 2247.4 610.6 2247.4C611.9 2247.5 613.3 2247.5 614.6 2247.5C616.0 2247.5 617.3 2247.5 618.6 2247.5C620.0 2247.5 621.3 2247.5 622.6 2247.5C624.0 2247.5 625.3 2247.5 626.6 2247.5C628.0 2247.5 629.3 2247.5 630.7 2247.5C632.0 2247.5 633.3 2247.5 634.7 2247.5C636.0 2247.5 637.3 2247.5 638.7 2247.5C640.0 2247.5 641.3 2247.5 642.7 2247.5C644.0 2247.5 645.4 2247.5 646.7 2247.6C648.0 2247.6 649.4 2247.6 650.7 2247.6C652.0 2247.6 653.4 2247.6 654.7 2247.6C656.1 2247.6 657.4 2247.6 658.7 2247.6C660.1 2247.6 661.4 2247.6 662.7 2247.6C664.1 2247.6 665.4 2247.6 666.7 2247.6C668.1 2247.6 669.4 2247.6 670.8 2247.6C672.1 2247.6 673.4 2247.6 674.8 2247.6C676.1 2247.6 677.4 2247.7 678.8 2247.7C680.1 2247.7 681.5 2247.7 682.8 2247.7C684.1 2247.7 685.5 2247.7 686.8 2247.7C688.1 2247.7 689.5 2247.7 690.8 2247.7C692.2 2247.7 693.5 2247.7 694.8 2247.7C696.2 2247.7 697.5 2247.7 698.8 2247.7C700.2 2247.7 701.5 2247.7 702.8 2247.7C704.2 2247.8 705.5 2247.8 706.9 2247.8C708.2 2247.8 709.5 2247.8 710.9 2247.8C712.2 2247.8 713.5 2247.8 714.9 2247.8C716.2 2247.8 717.6 2247.8 718.9 2247.8C720.2 2247.8 721.6 2247.8 722.9 2247.8C724.2 2247.8 725.6 2247.8 726.9 2247.9C728.3 2247.9 729.6 2247.9 730.9 2247.9C732.3 2247.9 733.6 2247.9 734.9 2247.9C736.3 2247.9 737.6 2247.9 739.0 2247.9C740.3 2247.9 741.6 2247.9 743.0 2247.9C744.3 2247.9 745.6 2247.9 747.0 2248.0C748.3 2248.0 749.7 2248.0 751.0 2248.0C752.3 2248.0 753.7 2248.0 755.0 2248.0C756.3 2248.0 757.7 2248.0 759.0 2248.0C760.3 2248.0 761.7 2248.0 763.0 2248.0C764.4 2248.0 765.7 2248.1 767.0 2248.1C768.4 2248.1 769.7 2248.1 771.0 2248.1C772.4 2248.1 773.7 2248.1 775.1 2248.1C776.4 2248.1 777.7 2248.1 779.1 2248.1C780.4 2248.1 781.7 2248.2 783.1 2248.2C784.4 2248.2 785.8 2248.2 787.1 2248.2C788.4 2248.2 789.8 2248.2 791.1 2248.2C792.4 2248.2 793.8 2248.2 795.1 2248.2C796.4 2248.3 797.8 2248.3 799.1 2248.3C800.5 2248.3 801.8 2248.3 803.1 2248.3C804.5 2248.3 805.8 2248.3 807.1 2248.3C808.5 2248.3 809.8 2248.3 811.1 2248.4C812.5 2248.4 813.8 2248.4 815.2 2248.4C816.5 2248.4 817.8 2248.4 819.2 2248.4C820.5 2248.4 821.8 2248.4 823.2 2248.5C824.5 2248.5 825.8 2248.5 827.2 2248.5C828.5 2248.5 829.9 2248.5 831.2 2248.5C832.5 2248.5 833.9 2248.5 835.2 2248.6C836.5 2248.6 837.9 2248.6 839.2 2248.6C840.5 2248.6 841.9 2248.6 843.2 2248.6C844.5 2248.6 845.9 2248.6 847.2 2248.7C848.6 2248.7 849.9 2248.7 851.2 2248.7C852.6 2248.7 853.9 2248.7 855.2 2248.7C856.6 2248.7 857.9 2248.8 859.2 2248.8C860.6 2248.8 861.9 2248.8 863.2 2248.8C864.6 2248.8 865.9 2248.8 867.3 2248.9C868.6 2248.9 869.9 2248.9 871.3 2248.9C872.6 2248.9 873.9 2248.9 875.3 2248.9C876.6 2248.9 877.9 2249.0 879.3 2249.0C880.6 2249.0 881.9 2249.0 883.3 2249.0C884.6 2249.0 885.9 2249.1 887.3 2249.1C888.6 2249.1 889.9 2249.1 891.3 2249.1C892.6 2249.1 893.9 2249.1 895.3 2249.2C896.6 2249.2 897.9 2249.2 899.3 2249.2C900.6 2249.2 902.0 2249.2 903.3 2249.3C904.6 2249.3 906.0 2249.3 907.3 2249.3C908.6 2249.3 910.0 2249.3 911.3 2249.4C912.6 2249.4 914.0 2249.4 915.3 2249.4C916.6 2249.4 918.0 2249.4 919.3 2249.5C920.6 2249.5 922.0 2249.5 923.3 2249.5C924.6 2249.5 926.0 2249.5 927.3 2249.6C928.6 2249.6 930.0 2249.6 931.3 2249.6C932.6 2249.6 934.0 2249.7 935.3 2249.7C936.6 2249.7 938.0 2249.7 939.3 2249.7C940.6 2249.7 941.9 2249.8 943.3 2249.8C944.6 2249.8 945.9 2249.8 947.3 2249.8C948.6 2249.9 949.9 2249.9 951.3 2249.9C952.6 2249.9 953.9 2249.9 955.3 2250.0C956.6 2250.0 957.9 2250.0 959.3 2250.0C960.6 2250.0 961.9 2250.1 963.3 2250.1C964.6 2250.1 965.9 2250.1 967.3 2250.2C968.6 2250.2 969.9 2250.2 971.2 2250.2C972.6 2250.2 973.9 2250.3 975.2 2250.3C976.6 2250.3 977.9 2250.3 979.2 2250.4C980.6 2250.4 981.9 2250.4 983.2 2250.4C984.6 2250.4 985.9 2250.5 987.2 2250.5C988.5 2250.5 989.9 2250.5 991.2 2250.6C992.5 2250.6 993.9 2250.6 995.2 2250.6C996.5 2250.7 997.9 2250.7 999.2 2250.7C1000.5 2250.7 1001.8 2250.8 1003.2 2250.8C1004.5 2250.8 1005.8 2250.8 1007.2 2250.9C1008.5 2250.9 1009.8 2250.9 1011.1 2250.9C1012.5 2251.0 1013.8 2251.0 1015.1 2251.0C1016.5 2251.0 1017.8 2251.1 1019.1 2251.1C1020.4 2251.1 1021.8 2251.1 1023.1 2251.2C1024.4 2251.2 1025.8 2251.2 1027.1 2251.3C1028.4 2251.3 1029.7 2251.3 1031.1 2251.3C1032.4 2251.4 1033.7 2251.4 1035.1 2251.4C1036.4 2251.4 1037.7 2251.5 1039.0 2251.5C1040.4 2251.5 1041.7 2251.6 1043.0 2251.6C1044.3 2251.6 1045.7 2251.6 1047.0 2251.7C1048.3 2251.7 1049.7 2251.7 1051.0 2251.8C1052.3 2251.8 1053.6 2251.8 1055.0 2251.9C1056.3 2251.9 1057.6 2251.9 1058.9 2252.0C1060.3 2252.0 1061.6 2252.0 1062.9 2252.0C1064.3 2252.1 1065.6 2252.1 1066.9 2252.1C1068.2 2252.2 1069.6 2252.2 1070.9 2252.2C1072.2 2252.3 1073.6 2252.3 1074.9 2252.3C1076.2 2252.4 1077.5 2252.4 1078.9 2252.4C1080.2 2252.5 1081.5 2252.5 1082.8 2252.5C1084.2 2252.6 1085.5 2252.6 1086.8 2252.6C1088.2 2252.7 1089.5 2252.7 1090.8 2252.7C1092.2 2252.8 1093.5 2252.8 1094.8 2252.8C1096.1 2252.9 1097.5 2252.9 1098.8 2253.0C1100.1 2253.0 1101.5 2253.0 1102.8 2253.1C1104.1 2253.1 1105.5 2253.1 1106.8 2253.2C1108.1 2253.2 1109.4 2253.2 1110.8 2253.3C1112.1 2253.3 1113.4 2253.4 1114.8 2253.4C1116.1 2253.4 1117.4 2253.5 1118.8 2253.5C1120.1 2253.6 1121.4 2253.6 1122.8 2253.6C1124.1 2253.7 1125.4 2253.7 1126.8 2253.8C1128.1 2253.8 1129.5 2253.8 1130.8 2253.9C1132.1 2253.9 1133.5 2254.0 1134.8 2254.0C1136.1 2254.0 1137.5 2254.1 1138.8 2254.1C1140.1 2254.2 1141.5 2254.2 1142.8 2254.2C1144.2 2254.3 1145.5 2254.3 1146.8 2254.4C1148.2 2254.4 1149.5 2254.5 1150.8 2254.5C1152.2 2254.5 1153.5 2254.6 1154.9 2254.6C1156.2 2254.7 1157.6 2254.7 1158.9 2254.8C1160.2 2254.8 1161.6 2254.9 1162.9 2254.9C1164.3 2254.9 1165.6 2255.0 1167.0 2255.0C1168.3 2255.1 1169.6 2255.1 1171.0 2255.2C1172.3 2255.2 1173.7 2255.3 1175.0 2255.3C1176.4 2255.4 1177.7 2255.4 1179.1 2255.5C1180.4 2255.5 1181.8 2255.6 1183.1 2255.6C1184.5 2255.7 1185.8 2255.7 1187.2 2255.8C1188.5 2255.8 1189.9 2255.9 1191.2 2255.9C1192.6 2256.0 1193.9 2256.0 1195.3 2256.1C1196.6 2256.1 1198.0 2256.2 1199.3 2256.2C1200.7 2256.3 1202.0 2256.3 1203.4 2256.4C1204.8 2256.4 1206.1 2256.5 1207.5 2256.5C1208.8 2256.6 1210.2 2256.6 1211.5 2256.7C1212.9 2256.7 1214.3 2256.8 1215.6 2256.9C1217.0 2256.9 1218.3 2257.0 1219.7 2257.0C1221.0 2257.1 1222.4 2257.2 1223.8 2257.2C1225.1 2257.3 1226.5 2257.4 1227.8 2257.4C1229.2 2257.5 1230.6 2257.6 1231.9 2257.7C1233.3 2257.7 1234.6 2257.8 1236.0 2257.9C1237.3 2258.0 1238.7 2258.1 1240.1 2258.1C1241.4 2258.2 1242.8 2258.3 1244.1 2258.4C1245.5 2258.5 1246.8 2258.6 1248.2 2258.7C1249.5 2258.8 1250.9 2258.9 1252.2 2259.0C1253.6 2259.1 1254.9 2259.2 1256.3 2259.3C1257.6 2259.5 1259.0 2259.6 1260.3 2259.7C1261.6 2259.8 1263.0 2260.0 1264.3 2260.1C1265.7 2260.2 1267.0 2260.4 1268.4 2260.5C1269.7 2260.6 1271.0 2260.8 1272.4 2261.0C1273.7 2261.1 1275.0 2261.3 1276.4 2261.4C1277.7 2261.6 1279.0 2261.8 1280.3 2261.9C1281.7 2262.1 1283.0 2262.3 1284.3 2262.5C1285.6 2262.7 1287.0 2262.9 1288.3 2263.1C1289.6 2263.3 1290.9 2263.5 1292.2 2263.7C1293.5 2263.9 1294.8 2264.2 1296.1 2264.4C1297.4 2264.6 1298.7 2264.8 1300.0 2265.1C1301.3 2265.3 1302.6 2265.6 1303.9 2265.8C1305.2 2266.1 1306.5 2266.4 1307.8 2266.7C1309.1 2266.9 1310.4 2267.2 1311.7 2267.5C1313.0 2267.8 1314.2 2268.1 1315.5 2268.4C1316.8 2268.7 1318.1 2269.0 1319.3 2269.4C1320.6 2269.7 1321.8 2270.0 1323.1 2270.4C1324.4 2270.7 1325.6 2271.1 1326.9 2271.4C1328.1 2271.8 1329.4 2272.1 1330.6 2272.5C1331.9 2272.9 1333.1 2273.3 1334.3 2273.7C1335.6 2274.1 1336.8 2274.5 1338.0 2274.9C1339.3 2275.4 1340.5 2275.8 1341.7 2276.2C1342.9 2276.7 1344.1 2277.1 1345.3 2277.6C1346.6 2278.0 1347.8 2278.5 1349.0 2279.0C1350.2 2279.5 1351.4 2280.0 1352.5 2280.5C1353.7 2281.0 1354.9 2281.5 1356.1 2282.1C1357.3 2282.6 1358.5 2283.1 1359.6 2283.7C1360.8 2284.2 1362.0 2284.8 1363.1 2285.4C1364.3 2285.9 1365.4 2286.5 1366.6 2287.1C1367.7 2287.7 1368.9 2288.3 1370.0 2289.0C1371.1 2289.6 1372.3 2290.2 1373.4 2290.9C1374.5 2291.5 1375.7 2292.1 1376.8 2292.8C1377.9 2293.5 1379.0 2294.1 1380.1 2294.8C1381.2 2295.5 1382.3 2296.3 1383.4 2297.0C1384.5 2297.7 1385.6 2298.4 1386.7 2299.1C1387.8 2299.7 1388.9 2300.4 1390.0 2301.1C1391.1 2301.9 1392.0 2302.8 1393.1 2303.6C1394.2 2304.3 1395.3 2305.0 1396.4 2305.7C1397.5 2306.5 1398.5 2307.2 1399.6 2308.0C1400.7 2308.7 1401.9 2309.3 1402.9 2310.2C1403.9 2311.1 1404.8 2312.1 1405.7 2313.1C1406.5 2314.1 1407.1 2315.5 1408.1 2316.3C1409.1 2317.2 1410.5 2317.6 1411.6 2318.3C1412.7 2319.1 1413.7 2320.0 1414.7 2320.8C1415.8 2321.7 1416.9 2322.4 1417.9 2323.3C1418.8 2324.2 1419.6 2325.4 1420.5 2326.3C1421.5 2327.3 1422.4 2328.2 1423.5 2329.0C1424.6 2329.8 1426.1 2330.2 1427.0 2331.2C1427.9 2332.2 1428.2 2333.8 1429.0 2334.9C1429.8 2336.0 1430.8 2336.8 1431.8 2337.7C1432.8 2338.7 1433.8 2339.5 1434.9 2340.4C1436.0 2341.2 1437.3 2341.9 1438.3 2342.8C1439.2 2343.7 1440.2 2344.7 1440.8 2345.9C1441.5 2347.2 1441.5 2348.9 1442.3 2350.1C1443.0 2351.2 1444.4 2351.8 1445.3 2352.8C1446.3 2353.8 1447.0 2354.9 1447.9 2355.9C1448.8 2356.9 1449.8 2357.9 1450.6 2359.0C1451.5 2360.0 1452.1 2361.2 1453.0 2362.3C1453.9 2363.3 1454.8 2364.3 1455.9 2365.2C1456.9 2366.1 1458.5 2366.6 1459.3 2367.7C1460.1 2368.8 1460.2 2370.5 1460.8 2371.7C1461.4 2373.0 1462.1 2374.1 1462.9 2375.3C1463.6 2376.4 1464.4 2377.6 1465.3 2378.6C1466.2 2379.6 1467.5 2380.4 1468.4 2381.4C1469.3 2382.4 1470.2 2383.5 1470.8 2384.7C1471.4 2386.0 1471.4 2387.6 1472.1 2388.8C1472.8 2390.0 1474.1 2390.7 1474.9 2391.8C1475.7 2393.0 1476.1 2394.3 1476.8 2395.5C1477.5 2396.7 1478.3 2397.8 1478.9 2399.0C1479.5 2400.2 1479.8 2401.6 1480.5 2402.8C1481.3 2403.9 1482.2 2404.9 1483.3 2405.9C1484.3 2406.9 1485.9 2407.5 1486.6 2408.6C1487.4 2409.7 1487.4 2411.3 1487.9 2412.6C1488.4 2413.9 1489.1 2415.1 1489.7 2416.3C1490.2 2417.5 1490.6 2418.9 1491.3 2420.1C1492.0 2421.2 1493.1 2422.1 1493.8 2423.3C1494.6 2424.4 1495.2 2425.6 1495.7 2426.9C1496.2 2428.2 1496.2 2429.7 1496.8 2430.9C1497.4 2432.1 1498.8 2432.9 1499.5 2434.0C1500.3 2435.1 1500.7 2436.4 1501.3 2437.6C1501.8 2438.9 1502.4 2440.1 1502.8 2441.3C1503.2 2442.6 1503.2 2444.1 1503.7 2445.4C1504.1 2446.7 1504.8 2447.8 1505.6 2448.9C1506.5 2450.0 1508.0 2450.7 1508.8 2451.9C1509.5 2453.0 1509.6 2454.4 1510.1 2455.7C1510.6 2456.9 1511.3 2458.1 1511.8 2459.3C1512.3 2460.5 1512.5 2461.9 1513.1 2463.1C1513.6 2464.3 1514.4 2465.4 1514.9 2466.6C1515.5 2467.8 1516.1 2469.0 1516.4 2470.4C1516.7 2471.7 1516.3 2473.3 1516.7 2474.5C1517.2 2475.8 1518.3 2476.7 1519.0 2477.9C1519.8 2479.0 1520.4 2480.2 1521.0 2481.4C1521.6 2482.6 1522.2 2483.8 1522.6 2485.0C1523.0 2486.3 1523.1 2487.7 1523.3 2489.0C1523.5 2490.4 1523.5 2491.8 1524.0 2493.0C1524.6 2494.2 1526.0 2495.1 1526.7 2496.3C1527.3 2497.4 1527.5 2498.8 1527.9 2500.0C1528.3 2501.3 1528.8 2502.5 1529.3 2503.8C1529.8 2505.0 1530.2 2506.2 1530.8 2507.5C1531.3 2508.7 1531.8 2509.9 1532.3 2511.1C1532.9 2512.3 1533.8 2513.4 1534.0 2514.7C1534.2 2516.1 1533.5 2517.7 1533.6 2519.1C1533.8 2520.4 1534.3 2521.6 1534.8 2522.8C1535.3 2524.1 1536.1 2525.2 1536.7 2526.4C1537.2 2527.6 1537.8 2528.8 1538.3 2530.1C1538.8 2531.3 1539.3 2532.5 1539.6 2533.8C1539.8 2535.1 1539.4 2536.6 1539.7 2537.9C1540.1 2539.2 1541.2 2540.2 1541.8 2541.5C1542.3 2542.7 1542.7 2543.9 1543.0 2545.2C1543.3 2546.5 1543.2 2547.9 1543.6 2549.2C1543.9 2550.5 1544.4 2551.7 1544.9 2553.0C1545.3 2554.2 1545.7 2555.5 1546.3 2556.7C1546.9 2557.9 1548.2 2558.9 1548.6 2560.2C1548.9 2561.4 1548.5 2562.9 1548.5 2564.3C1548.6 2565.7 1548.4 2567.1 1548.6 2568.4C1548.9 2569.7 1549.6 2570.9 1550.0 2572.2C1550.4 2573.4 1550.7 2574.7 1551.1 2576.0C1551.5 2577.2 1552.3 2578.4 1552.6 2579.7C1552.9 2581.0 1552.6 2582.5 1552.9 2583.7C1553.2 2585.0 1554.1 2586.2 1554.6 2587.4C1555.2 2588.6 1556.0 2589.8 1556.3 2591.1C1556.6 2592.4 1556.3 2593.8 1556.4 2595.2C1556.6 2596.5 1556.9 2597.8 1557.2 2599.1C1557.4 2600.4 1557.4 2601.8 1558.0 2603.0C1558.5 2604.3 1559.8 2605.3 1560.3 2606.5C1560.9 2607.8 1561.1 2609.1 1561.2 2610.4C1561.4 2611.8 1560.9 2613.2 1561.1 2614.6C1561.3 2615.9 1562.0 2617.1 1562.3 2618.4C1562.6 2619.7 1562.6 2621.1 1562.9 2622.4C1563.2 2623.6 1563.9 2624.9 1564.1 2626.2C1564.3 2627.5 1564.0 2628.9 1564.2 2630.3C1564.5 2631.6 1564.9 2632.8 1565.5 2634.1C1566.1 2635.3 1567.4 2636.4 1567.9 2637.6C1568.4 2638.9 1568.2 2640.3 1568.3 2641.6C1568.5 2642.9 1568.8 2644.3 1568.9 2645.6C1569.0 2646.9 1568.7 2648.4 1569.0 2649.7C1569.3 2651.0 1570.2 2652.1 1570.7 2653.4C1571.2 2654.7 1571.9 2655.9 1572.1 2657.2C1572.3 2658.5 1571.8 2660.0 1572.0 2661.3C1572.2 2662.6 1573.0 2663.8 1573.3 2665.1C1573.7 2666.4 1573.8 2667.8 1574.1 2669.1C1574.4 2670.4 1575.0 2671.6 1575.1 2673.0C1575.2 2674.3 1574.9 2675.7 1575.0 2677.1C1575.0 2678.4 1574.9 2679.8 1575.4 2681.1C1575.8 2682.4 1577.2 2683.4 1577.8 2684.7C1578.4 2685.9 1578.5 2687.3 1578.8 2688.6C1579.1 2689.9 1579.5 2691.2 1579.7 2692.5C1579.9 2693.8 1579.6 2695.2 1579.8 2696.6C1580.0 2697.9 1580.5 2699.2 1580.9 2700.4C1581.3 2701.7 1582.0 2702.9 1582.2 2704.3C1582.4 2705.6 1581.7 2707.1 1581.9 2708.5C1582.0 2709.8 1582.7 2711.0 1583.1 2712.3C1583.5 2713.6 1583.8 2714.9 1584.2 2716.2C1584.7 2717.4 1585.3 2718.7 1585.5 2720.0C1585.8 2721.3 1585.7 2722.7 1585.6 2724.1C1585.6 2725.5 1585.0 2727.0 1585.2 2728.3C1585.5 2729.6 1586.7 2730.7 1587.2 2732.0C1587.7 2733.2 1587.9 2734.6 1588.2 2735.9C1588.6 2737.1 1589.1 2738.4 1589.3 2739.7C1589.6 2741.0 1589.6 2742.4 1589.9 2743.7C1590.2 2745.0 1590.5 2746.3 1590.9 2747.6C1591.3 2748.9 1592.3 2750.1 1592.4 2751.4C1592.5 2752.8 1591.7 2754.3 1591.7 2755.7C1591.7 2757.0 1592.0 2758.3 1592.3 2759.6C1592.6 2760.9 1593.0 2762.2 1593.4 2763.5C1593.9 2764.8 1594.6 2766.0 1595.0 2767.3C1595.4 2768.6 1595.8 2769.9 1595.8 2771.2C1595.9 2772.6 1595.1 2774.1 1595.3 2775.4C1595.5 2776.8 1596.4 2777.9 1596.8 2779.2C1597.2 2780.5 1597.4 2781.8 1597.7 2783.1C1597.9 2784.5 1598.2 2785.8 1598.5 2787.1C1598.7 2788.4 1598.9 2789.7 1599.2 2791.0C1599.5 2792.3 1599.8 2793.6 1600.3 2794.9C1600.9 2796.2 1602.1 2797.3 1602.4 2798.6C1602.7 2799.9 1602.1 2801.4 1602.0 2802.8C1602.0 2804.1 1602.0 2805.5 1602.1 2806.8C1602.2 2808.2 1602.4 2809.5 1602.8 2810.8C1603.1 2812.1 1603.6 2813.3 1604.1 2814.6C1604.5 2815.9 1605.2 2817.1 1605.4 2818.4C1605.6 2819.8 1605.0 2821.3 1605.2 2822.6C1605.4 2823.9 1606.3 2825.1 1606.7 2826.4C1607.2 2827.6 1607.5 2828.9 1607.8 2830.2C1608.0 2831.6 1608.1 2832.9 1608.2 2834.2C1608.4 2835.6 1608.5 2836.9 1608.7 2838.2C1608.9 2839.6 1608.9 2840.9 1609.4 2842.2C1610.0 2843.4 1611.4 2844.5 1611.9 2845.7C1612.4 2847.0 1612.3 2848.4 1612.4 2849.7C1612.5 2851.1 1612.4 2852.5 1612.5 2853.8C1612.6 2855.1 1612.8 2856.5 1613.0 2857.8C1613.2 2859.1 1613.4 2860.4 1613.8 2861.7C1614.1 2863.0 1615.0 2864.2 1615.1 2865.5C1615.3 2866.8 1614.7 2868.3 1615.0 2869.7C1615.2 2871.0 1615.9 2872.2 1616.5 2873.4C1617.0 2874.7 1617.8 2875.8 1618.2 2877.1C1618.6 2878.4 1618.7 2879.7 1618.9 2881.1C1619.1 2882.4 1619.3 2883.7 1619.3 2885.0C1619.4 2886.4 1619.0 2887.9 1619.3 2889.1C1619.7 2890.4 1621.0 2891.5 1621.5 2892.7C1622.1 2894.0 1622.5 2895.2 1622.7 2896.5C1623.0 2897.9 1622.9 2899.2 1623.1 2900.6C1623.3 2901.9 1623.8 2903.1 1624.0 2904.4C1624.3 2905.7 1624.3 2907.1 1624.7 2908.4C1625.0 2909.7 1625.9 2910.8 1626.0 2912.1C1626.2 2913.5 1625.6 2915.0 1625.7 2916.3C1625.7 2917.7 1625.9 2919.0 1626.4 2920.2C1626.9 2921.5 1628.0 2922.6 1628.6 2923.8C1629.2 2925.0 1629.4 2926.3 1629.8 2927.6C1630.2 2928.9 1630.7 2930.1 1630.9 2931.5C1631.0 2932.8 1630.5 2934.3 1630.7 2935.6C1630.9 2936.9 1631.6 2938.1 1632.1 2939.3C1632.6 2940.6 1633.3 2941.8 1633.6 2943.1C1633.8 2944.4 1633.5 2945.8 1633.8 2947.1C1634.0 2948.5 1634.6 2949.7 1634.9 2951.0C1635.3 2952.2 1635.4 2953.6 1635.9 2954.8C1636.3 2956.1 1637.3 2957.2 1637.5 2958.5C1637.8 2959.8 1637.6 2961.3 1637.6 2962.6C1637.5 2964.0 1637.0 2965.5 1637.3 2966.8C1637.5 2968.1 1638.5 2969.2 1639.1 2970.5C1639.6 2971.7 1639.9 2973.0 1640.4 2974.3C1640.9 2975.5 1641.6 2976.7 1641.9 2978.0C1642.3 2979.3 1642.0 2980.7 1642.2 2982.0C1642.4 2983.4 1642.8 2984.6 1643.3 2985.9C1643.7 2987.2 1644.7 2988.3 1644.9 2989.6C1645.2 2990.9 1644.7 2992.4 1644.8 2993.8C1644.9 2995.1 1645.2 2996.4 1645.5 2997.7C1645.8 2999.0 1645.9 3000.3 1646.3 3001.6C1646.8 3002.9 1647.8 3004.0 1648.3 3005.3C1648.8 3006.5 1649.1 3007.8 1649.2 3009.2C1649.2 3010.6 1648.5 3012.1 1648.6 3013.4C1648.7 3014.8 1649.4 3016.0 1649.8 3017.3C1650.2 3018.6 1650.3 3019.9 1650.7 3021.2C1651.1 3022.5 1651.8 3023.7 1652.1 3025.0C1652.4 3026.3 1652.4 3027.7 1652.7 3029.0C1652.9 3030.3 1653.2 3031.6 1653.7 3032.9C1654.2 3034.2 1655.5 3035.3 1655.8 3036.6C1656.2 3037.8 1655.8 3039.3 1655.8 3040.7C1655.9 3042.0 1656.0 3043.4 1656.1 3044.8C1656.2 3046.1 1656.1 3047.5 1656.4 3048.8C1656.7 3050.1 1657.5 3051.3 1658.1 3052.6C1658.6 3053.8 1659.4 3055.0 1659.6 3056.4C1659.8 3057.7 1659.1 3059.2 1659.3 3060.5C1659.5 3061.9 1660.2 3063.1 1660.6 3064.4C1660.9 3065.7 1661.1 3067.0 1661.5 3068.3C1661.8 3069.6 1662.3 3070.9 1662.5 3072.2C1662.8 3073.5 1662.7 3074.9 1662.9 3076.3C1663.2 3077.6 1663.2 3079.0 1663.8 3080.2C1664.3 3081.5 1665.9 3082.5 1666.4 3083.7C1667.0 3084.9 1667.0 3086.3 1667.2 3087.7C1667.4 3089.0 1667.5 3090.3 1667.6 3091.7C1667.8 3093.1 1667.6 3094.5 1667.8 3095.8C1668.1 3097.1 1668.6 3098.4 1669.0 3099.6C1669.5 3100.9 1670.4 3102.0 1670.7 3103.4C1671.0 3104.7 1670.5 3106.2 1670.8 3107.5C1671.0 3108.8 1671.9 3110.0 1672.4 3111.2C1672.9 3112.5 1673.4 3113.7 1673.9 3115.0C1674.3 3116.2 1674.9 3117.5 1675.2 3118.8C1675.5 3120.1 1675.6 3121.4 1675.8 3122.8C1675.9 3124.1 1675.6 3125.6 1676.1 3126.9C1676.6 3128.1 1678.1 3129.1 1678.8 3130.2C1679.5 3131.4 1679.9 3132.7 1680.3 3133.9C1680.8 3135.2 1681.2 3136.5 1681.5 3137.8C1681.9 3139.0 1682.0 3140.4 1682.4 3141.7C1682.7 3143.0 1683.0 3144.3 1683.5 3145.5C1684.0 3146.8 1685.1 3147.8 1685.4 3149.1C1685.8 3150.4 1685.3 3152.0 1685.6 3153.3C1685.9 3154.6 1686.5 3155.8 1687.2 3157.0C1687.8 3158.2 1688.6 3159.3 1689.4 3160.4C1690.1 3161.6 1690.9 3162.7 1691.5 3163.9C1692.1 3165.1 1692.7 3166.2 1693.0 3167.6C1693.3 3168.9 1692.9 3170.5 1693.4 3171.8C1693.8 3173.0 1695.1 3174.0 1695.8 3175.1C1696.5 3176.2 1697.2 3177.4 1697.8 3178.6C1698.5 3179.7 1698.9 3181.0 1699.5 3182.2C1700.1 3183.4 1700.7 3184.6 1701.3 3185.8C1701.9 3187.0 1702.3 3188.3 1703.0 3189.4C1703.7 3190.5 1705.1 3191.3 1705.7 3192.5C1706.3 3193.7 1706.1 3195.3 1706.5 3196.7C1706.9 3198.0 1707.2 3199.4 1707.9 3200.5C1708.5 3201.7 1709.5 3202.7 1710.4 3203.7C1711.2 3204.8 1712.2 3205.8 1713.1 3206.8C1714.0 3207.8 1715.2 3208.6 1715.9 3209.7C1716.6 3210.8 1716.5 3212.5 1717.2 3213.6C1717.9 3214.8 1719.1 3215.6 1720.0 3216.5C1720.9 3217.5 1721.9 3218.4 1722.7 3219.5C1723.4 3220.5 1724.0 3221.8 1724.7 3222.9C1725.5 3223.9 1726.4 3224.9 1727.3 3225.9C1728.1 3226.9 1728.7 3228.2 1729.7 3229.0C1730.8 3229.8 1732.4 3230.1 1733.4 3230.9C1734.5 3231.7 1735.2 3232.7 1736.0 3233.8C1736.8 3234.9 1737.2 3236.4 1738.1 3237.4C1738.9 3238.5 1740.0 3239.2 1741.1 3240.0C1742.1 3240.8 1743.0 3241.8 1744.2 3242.4C1745.3 3243.1 1746.8 3243.3 1747.9 3244.0C1749.0 3244.7 1749.8 3245.9 1750.8 3246.7C1751.9 3247.5 1752.9 3248.3 1754.2 3248.8C1755.4 3249.4 1756.9 3249.3 1758.1 3249.9C1759.3 3250.5 1760.2 3251.6 1761.2 3252.3C1762.3 3253.1 1763.4 3253.8 1764.5 3254.5C1765.6 3255.3 1766.6 3256.4 1767.7 3257.0C1768.9 3257.6 1770.3 3257.8 1771.6 3258.1C1772.9 3258.5 1774.3 3258.6 1775.5 3259.2C1776.7 3259.7 1777.7 3260.7 1778.9 3261.3C1780.1 3261.9 1781.3 3262.3 1782.6 3262.8C1783.8 3263.3 1785.0 3263.8 1786.3 3264.2C1787.5 3264.6 1788.8 3264.9 1790.1 3265.3C1791.4 3265.7 1792.6 3266.1 1793.9 3266.5C1795.2 3266.9 1796.5 3267.3 1797.7 3267.7C1799.0 3268.0 1800.3 3268.3 1801.6 3268.6C1802.9 3269.0 1804.2 3269.3 1805.5 3269.6C1806.8 3269.9 1808.1 3270.2 1809.4 3270.5C1810.7 3270.8 1812.0 3271.0 1813.3 3271.3C1814.6 3271.6 1816.0 3271.8 1817.3 3272.1C1818.6 3272.3 1819.9 3272.6 1821.3 3272.8C1822.6 3273.0 1823.9 3273.2 1825.2 3273.4C1826.6 3273.7 1827.9 3273.9 1829.2 3274.0C1830.6 3274.2 1831.9 3274.4 1833.2 3274.6C1834.6 3274.8 1835.9 3275.0 1837.3 3275.1C1838.6 3275.3 1840.0 3275.4 1841.3 3275.6C1842.6 3275.7 1844.0 3275.9 1845.3 3276.0C1846.7 3276.2 1848.0 3276.3 1849.4 3276.4C1850.7 3276.6 1852.1 3276.7 1853.4 3276.8C1854.8 3276.9 1856.1 3277.0 1857.5 3277.2C1858.8 3277.3 1860.2 3277.4 1861.5 3277.5C1862.9 3277.6 1864.2 3277.7 1865.6 3277.8C1866.9 3277.9 1868.3 3278.0 1869.6 3278.1C1871.0 3278.2 1872.3 3278.3 1873.7 3278.4C1875.0 3278.5 1876.4 3278.6 1877.7 3278.6C1879.1 3278.7 1880.4 3278.8 1881.8 3278.9C1883.1 3279.0 1884.5 3279.1 1885.8 3279.1C1887.2 3279.2 1888.5 3279.3 1889.8 3279.4C1891.2 3279.5 1892.5 3279.5 1893.9 3279.6C1895.2 3279.7 1896.6 3279.8 1897.9 3279.8C1899.2 3279.9 1900.6 3280.0 1901.9 3280.0C1903.3 3280.1 1904.6 3280.2 1905.9 3280.2C1907.3 3280.3 1908.6 3280.4 1909.9 3280.4C1911.3 3280.5 1912.6 3280.6 1914.0 3280.6C1915.3 3280.7 1916.6 3280.7 1918.0 3280.8C1919.3 3280.8 1920.6 3280.9 1922.0 3281.0C1923.3 3281.0 1924.6 3281.1 1926.0 3281.1C1927.3 3281.2 1928.6 3281.2 1930.0 3281.3C1931.3 3281.3 1932.6 3281.4 1934.0 3281.4C1935.3 3281.5 1936.6 3281.5 1938.0 3281.5C1939.3 3281.6 1940.6 3281.6 1942.0 3281.7C1943.3 3281.7 1944.6 3281.8 1946.0 3281.8C1947.3 3281.8 1948.6 3281.9 1949.9 3281.9C1951.3 3281.9 1952.6 3282.0 1953.9 3282.0C1955.3 3282.1 1956.6 3282.1 1957.9 3282.1C1959.3 3282.2 1960.6 3282.2 1961.9 3282.2C1963.2 3282.3 1964.6 3282.3 1965.9 3282.3C1967.2 3282.4 1968.6 3282.4 1969.9 3282.4C1971.2 3282.4 1972.5 3282.5 1973.9 3282.5C1975.2 3282.5 1976.5 3282.6 1977.9 3282.6C1979.2 3282.6 1980.5 3282.6 1981.8 3282.7C1983.2 3282.7 1984.5 3282.7 1985.8 3282.7C1987.1 3282.8 1988.5 3282.8 1989.8 3282.8C1991.1 3282.8 1992.5 3282.9 1993.8 3282.9C1995.1 3282.9 1996.4 3282.9 1997.8 3282.9C1999.1 3283.0 2000.4 3283.0 2001.8 3283.0C2003.1 3283.0 2004.4 3283.0 2005.7 3283.1C2007.1 3283.1 2008.4 3283.1 2009.7 3283.1C2011.1 3283.1 2012.4 3283.2 2013.7 3283.2C2015.0 3283.2 2016.4 3283.2 2017.7 3283.2C2019.0 3283.3 2020.4 3283.3 2021.7 3283.3C2023.0 3283.3 2024.3 3283.3 2025.7 3283.3C2027.0 3283.4 2028.3 3283.4 2029.7 3283.4C2031.0 3283.4 2032.3 3283.4 2033.7 3283.4C2035.0 3283.5 2036.3 3283.5 2037.6 3283.5C2039.0 3283.5 2040.3 3283.5 2041.6 3283.6C2043.0 3283.6 2044.3 3283.6 2045.6 3283.6C2047.0 3283.6 2048.3 3283.6 2049.6 3283.7C2051.0 3283.7 2052.3 3283.7 2053.6 3283.7C2055.0 3283.7 2056.3 3283.7 2057.6 3283.7C2059.0 3283.8 2060.3 3283.8 2061.6 3283.8C2063.0 3283.8 2064.3 3283.8 2065.6 3283.8C2067.0 3283.9 2068.3 3283.9 2069.6 3283.9C2071.0 3283.9 2072.3 3283.9 2073.6 3283.9C2075.0 3283.9 2076.3 3284.0 2077.6 3284.0C2079.0 3284.0 2080.3 3284.0 2081.6 3284.0C2083.0 3284.0 2084.3 3284.0 2085.6 3284.1C2087.0 3284.1 2088.3 3284.1 2089.6 3284.1C2091.0 3284.1 2092.3 3284.1 2093.7 3284.1C2095.0 3284.2 2096.3 3284.2 2097.7 3284.2C2099.0 3284.2 2100.3 3284.2 2101.7 3284.2C2103.0 3284.2 2104.3 3284.2 2105.7 3284.3C2107.0 3284.3 2108.3 3284.3 2109.7 3284.3C2111.0 3284.3 2112.4 3284.3 2113.7 3284.3C2115.0 3284.3 2116.4 3284.3 2117.7 3284.4C2119.0 3284.4 2120.4 3284.4 2121.7 3284.4C2123.0 3284.4 2124.4 3284.4 2125.7 3284.4C2127.1 3284.4 2128.4 3284.4 2129.7 3284.5C2131.1 3284.5 2132.4 3284.5 2133.7 3284.5C2135.1 3284.5 2136.4 3284.5 2137.8 3284.5C2139.1 3284.5 2140.4 3284.5 2141.8 3284.5C2143.1 3284.5 2144.4 3284.5 2145.8 3284.6C2147.1 3284.6 2148.4 3284.6 2149.8 3284.6C2151.1 3284.6 2152.5 3284.6 2153.8 3284.6C2155.1 3284.6 2156.5 3284.6 2157.8 3284.6C2159.1 3284.6 2160.5 3284.6 2161.8 3284.6C2163.2 3284.6 2164.5 3284.6 2165.8 3284.7C2167.2 3284.7 2168.5 3284.7 2169.8 3284.7C2171.2 3284.7 2172.5 3284.7 2173.9 3284.7C2175.2 3284.7 2176.5 3284.7 2177.9 3284.7C2179.2 3284.7 2180.5 3284.7 2181.9 3284.7C2183.2 3284.7 2184.6 3284.7 2185.9 3284.7C2187.2 3284.7 2188.6 3284.7 2189.9 3284.7C2191.2 3284.7 2192.6 3284.7 2193.9 3284.7C2195.3 3284.7 2196.6 3284.7 2197.9 3284.7C2199.3 3284.7 2200.6 3284.7 2201.9 3284.7C2203.3 3284.7 2204.6 3284.7 2205.9 3284.7C2207.3 3284.7 2208.6 3284.7 2210.0 3284.7C2211.3 3284.7 2212.6 3284.7 2214.0 3284.7C2215.3 3284.7 2216.6 3284.7 2218.0 3284.7C2219.3 3284.7 2220.6 3284.7 2222.0 3284.7C2223.3 3284.7 2224.7 3284.7 2226.0 3284.7C2227.3 3284.7 2228.7 3284.7 2230.0 3284.7C2231.3 3284.7 2232.7 3284.7 2234.0 3284.7C2235.3 3284.7 2236.7 3284.6 2238.0 3284.6C2239.3 3284.6 2240.7 3284.6 2242.0 3284.6C2243.4 3284.6 2244.7 3284.6 2246.0 3284.6C2247.4 3284.6 2248.7 3284.6 2250.0 3284.6C2251.4 3284.6 2252.7 3284.6 2254.0 3284.6C2255.4 3284.5 2256.7 3284.5 2258.0 3284.5C2259.4 3284.5 2260.7 3284.5 2262.0 3284.5C2263.4 3284.5 2264.7 3284.5 2266.0 3284.5C2267.4 3284.5 2268.7 3284.4 2270.0 3284.4C2271.4 3284.4 2272.7 3284.4 2274.0 3284.4C2275.4 3284.4 2276.7 3284.4 2278.0 3284.4C2279.4 3284.3 2280.7 3284.3 2282.0 3284.3C2283.4 3284.3 2284.7 3284.3 2286.0 3284.3C2287.3 3284.3 2288.7 3284.2 2290.0 3284.2C2291.3 3284.2 2292.7 3284.2 2294.0 3284.2C2295.3 3284.2 2296.7 3284.1 2298.0 3284.1C2299.3 3284.1 2300.7 3284.1 2302.0 3284.1C2303.3 3284.0 2304.6 3284.0 2306.0 3284.0C2307.3 3284.0 2308.6 3284.0 2310.0 3283.9C2311.3 3283.9 2312.6 3283.9 2313.9 3283.9C2315.3 3283.9 2316.6 3283.8 2317.9 3283.8C2319.3 3283.8 2320.6 3283.8 2321.9 3283.8C2323.2 3283.7 2324.6 3283.6 2325.9 3283.7C2327.2 3283.7 2329.3 3283.9 2330.0 3284.0"/>
<path class="c" stroke-width="9.2" style="stroke-linecap:butt" d="M414.5 2247.0C415.2 2247.0 417.3 2246.9 418.7 2246.9C420.1 2246.9 421.4 2246.9 422.7 2246.9C424.0 2246.9 425.4 2246.9 426.7 2246.9C428.0 2246.9 429.3 2246.9 430.7 2246.9C432.0 2246.9 433.3 2246.9 434.7 2246.9C436.0 2247.0 437.3 2247.0 438.6 2247.0C440.0 2247.0 441.3 2247.0 442.6 2247.0C444.0 2247.0 445.3 2247.0 446.6 2247.0C447.9 2247.0 449.3 2247.0 450.6 2247.0C451.9 2247.0 453.3 2247.0 454.6 2247.0C455.9 2247.0 457.3 2247.0 458.6 2247.0C459.9 2247.0 461.2 2247.0 462.6 2247.1C463.9 2247.1 465.2 2247.1 466.6 2247.1C467.9 2247.1 469.2 2247.1 470.6 2247.1C471.9 2247.1 473.2 2247.1 474.6 2247.1C475.9 2247.1 477.2 2247.1 478.5 2247.1C479.9 2247.1 481.2 2247.1 482.5 2247.1C483.9 2247.1 485.2 2247.1 486.5 2247.1C487.9 2247.1 489.2 2247.1 490.5 2247.1C491.9 2247.1 493.2 2247.1 494.5 2247.2C495.9 2247.2 497.2 2247.2 498.5 2247.2C499.9 2247.2 501.2 2247.2 502.5 2247.2C503.9 2247.2 505.2 2247.2 506.5 2247.2C507.9 2247.2 509.2 2247.2 510.5 2247.2C511.9 2247.2 513.2 2247.2 514.5 2247.2C515.9 2247.2 517.2 2247.2 518.5 2247.2C519.8 2247.2 521.2 2247.2 522.5 2247.2C523.8 2247.2 525.2 2247.2 526.5 2247.2C527.8 2247.2 529.2 2247.2 530.5 2247.2C531.9 2247.3 533.2 2247.3 534.5 2247.3C535.9 2247.3 537.2 2247.3 538.5 2247.3C539.9 2247.3 541.2 2247.3 542.5 2247.3C543.9 2247.3 545.2 2247.3 546.5 2247.3C547.9 2247.3 549.2 2247.3 550.5 2247.3C551.9 2247.3 553.2 2247.3 554.5 2247.3C555.9 2247.3 557.2 2247.3 558.5 2247.3C559.9 2247.3 561.2 2247.3 562.5 2247.3C563.9 2247.3 565.2 2247.3 566.5 2247.3C567.9 2247.3 569.2 2247.3 570.5 2247.3C571.9 2247.4 573.2 2247.4 574.6 2247.4C575.9 2247.4 577.2 2247.4 578.6 2247.4C579.9 2247.4 581.2 2247.4 582.6 2247.4C583.9 2247.4 585.2 2247.4 586.6 2247.4C587.9 2247.4 589.2 2247.4 590.6 2247.4C591.9 2247.4 593.2 2247.4 594.6 2247.4C595.9 2247.4 597.3 2247.4 598.6 2247.4C599.9 2247.4 601.3 2247.4 602.6 2247.4C603.9 2247.4 605.3 2247.4 606.6 2247.4C607.9 2247.4 609.3 2247.4 610.6 2247.4C611.9 2247.5 613.3 2247.5 614.6 2247.5C616.0 2247.5 617.3 2247.5 618.6 2247.5C620.0 2247.5 621.3 2247.5 622.6 2247.5C624.0 2247.5 625.3 2247.5 626.6 2247.5C628.0 2247.5 629.3 2247.5 630.7 2247.5C632.0 2247.5 633.3 2247.5 634.7 2247.5C636.0 2247.5 637.3 2247.5 638.7 2247.5C640.0 2247.5 641.3 2247.5 642.7 2247.5C644.0 2247.5 645.4 2247.5 646.7 2247.6C648.0 2247.6 649.4 2247.6 650.7 2247.6C652.0 2247.6 653.4 2247.6 654.7 2247.6C656.1 2247.6 657.4 2247.6 658.7 2247.6C660.1 2247.6 661.4 2247.6 662.7 2247.6C664.1 2247.6 665.4 2247.6 666.7 2247.6C668.1 2247.6 669.4 2247.6 670.8 2247.6C672.1 2247.6 673.4 2247.6 674.8 2247.6C676.1 2247.6 677.4 2247.7 678.8 2247.7C680.1 2247.7 681.5 2247.7 682.8 2247.7C684.1 2247.7 685.5 2247.7 686.8 2247.7C688.1 2247.7 689.5 2247.7 690.8 2247.7C692.2 2247.7 693.5 2247.7 694.8 2247.7C696.2 2247.7 697.5 2247.7 698.8 2247.7C700.2 2247.7 701.5 2247.7 702.8 2247.7C704.2 2247.8 705.5 2247.8 706.9 2247.8C708.2 2247.8 709.5 2247.8 710.9 2247.8C712.2 2247.8 713.5 2247.8 714.9 2247.8C716.2 2247.8 717.6 2247.8 718.9 2247.8C720.2 2247.8 721.6 2247.8 722.9 2247.8C724.2 2247.8 725.6 2247.8 726.9 2247.9C728.3 2247.9 729.6 2247.9 730.9 2247.9C732.3 2247.9 733.6 2247.9 734.9 2247.9C736.3 2247.9 737.6 2247.9 739.0 2247.9C740.3 2247.9 741.6 2247.9 743.0 2247.9C744.3 2247.9 745.6 2247.9 747.0 2248.0C748.3 2248.0 749.7 2248.0 751.0 2248.0C752.3 2248.0 753.7 2248.0 755.0 2248.0C756.3 2248.0 757.7 2248.0 759.0 2248.0C760.3 2248.0 761.7 2248.0 763.0 2248.0C764.4 2248.0 765.7 2248.1 767.0 2248.1C768.4 2248.1 769.7 2248.1 771.0 2248.1C772.4 2248.1 773.7 2248.1 775.1 2248.1C776.4 2248.1 777.7 2248.1 779.1 2248.1C780.4 2248.1 781.7 2248.2 783.1 2248.2C784.4 2248.2 785.8 2248.2 787.1 2248.2C788.4 2248.2 789.8 2248.2 791.1 2248.2C792.4 2248.2 793.8 2248.2 795.1 2248.2C796.4 2248.3 797.8 2248.3 799.1 2248.3C800.5 2248.3 801.8 2248.3 803.1 2248.3C804.5 2248.3 805.8 2248.3 807.1 2248.3C808.5 2248.3 809.8 2248.3 811.1 2248.4C812.5 2248.4 813.8 2248.4 815.2 2248.4C816.5 2248.4 817.8 2248.4 819.2 2248.4C820.5 2248.4 821.8 2248.4 823.2 2248.5C824.5 2248.5 825.8 2248.5 827.2 2248.5C828.5 2248.5 829.9 2248.5 831.2 2248.5C832.5 2248.5 833.9 2248.5 835.2 2248.6C836.5 2248.6 837.9 2248.6 839.2 2248.6C840.5 2248.6 841.9 2248.6 843.2 2248.6C844.5 2248.6 845.9 2248.6 847.2 2248.7C848.6 2248.7 849.9 2248.7 851.2 2248.7C852.6 2248.7 853.9 2248.7 855.2 2248.7C856.6 2248.7 857.9 2248.8 859.2 2248.8C860.6 2248.8 861.9 2248.8 863.2 2248.8C864.6 2248.8 865.9 2248.8 867.3 2248.9C868.6 2248.9 869.9 2248.9 871.3 2248.9C872.6 2248.9 873.9 2248.9 875.3 2248.9C876.6 2248.9 877.9 2249.0 879.3 2249.0C880.6 2249.0 881.9 2249.0 883.3 2249.0C884.6 2249.0 885.9 2249.1 887.3 2249.1C888.6 2249.1 889.9 2249.1 891.3 2249.1C892.6 2249.1 893.9 2249.1 895.3 2249.2C896.6 2249.2 897.9 2249.2 899.3 2249.2C900.6 2249.2 902.0 2249.2 903.3 2249.3C904.6 2249.3 906.0 2249.3 907.3 2249.3C908.6 2249.3 910.0 2249.3 911.3 2249.4C912.6 2249.4 914.0 2249.4 915.3 2249.4C916.6 2249.4 918.0 2249.4 919.3 2249.5C920.6 2249.5 922.0 2249.5 923.3 2249.5C924.6 2249.5 926.0 2249.5 927.3 2249.6C928.6 2249.6 930.0 2249.6 931.3 2249.6C932.6 2249.6 934.0 2249.7 935.3 2249.7C936.6 2249.7 938.0 2249.7 939.3 2249.7C940.6 2249.7 941.9 2249.8 943.3 2249.8C944.6 2249.8 945.9 2249.8 947.3 2249.8C948.6 2249.9 949.9 2249.9 951.3 2249.9C952.6 2249.9 953.9 2249.9 955.3 2250.0C956.6 2250.0 957.9 2250.0 959.3 2250.0C960.6 2250.0 961.9 2250.1 963.3 2250.1C964.6 2250.1 965.9 2250.1 967.3 2250.2C968.6 2250.2 969.9 2250.2 971.2 2250.2C972.6 2250.2 973.9 2250.3 975.2 2250.3C976.6 2250.3 977.9 2250.3 979.2 2250.4C980.6 2250.4 981.9 2250.4 983.2 2250.4C984.6 2250.4 985.9 2250.5 987.2 2250.5C988.5 2250.5 989.9 2250.5 991.2 2250.6C992.5 2250.6 993.9 2250.6 995.2 2250.6C996.5 2250.7 997.9 2250.7 999.2 2250.7C1000.5 2250.7 1001.8 2250.8 1003.2 2250.8C1004.5 2250.8 1005.8 2250.8 1007.2 2250.9C1008.5 2250.9 1009.8 2250.9 1011.1 2250.9C1012.5 2251.0 1013.8 2251.0 1015.1 2251.0C1016.5 2251.0 1017.8 2251.1 1019.1 2251.1C1020.4 2251.1 1021.8 2251.1 1023.1 2251.2C1024.4 2251.2 1025.8 2251.2 1027.1 2251.3C1028.4 2251.3 1029.7 2251.3 1031.1 2251.3C1032.4 2251.4 1033.7 2251.4 1035.1 2251.4C1036.4 2251.4 1037.7 2251.5 1039.0 2251.5C1040.4 2251.5 1041.7 2251.6 1043.0 2251.6C1044.3 2251.6 1045.7 2251.6 1047.0 2251.7C1048.3 2251.7 1049.7 2251.7 1051.0 2251.8C1052.3 2251.8 1053.6 2251.8 1055.0 2251.9C1056.3 2251.9 1057.6 2251.9 1058.9 2252.0C1060.3 2252.0 1061.6 2252.0 1062.9 2252.0C1064.3 2252.1 1065.6 2252.1 1066.9 2252.1C1068.2 2252.2 1069.6 2252.2 1070.9 2252.2C1072.2 2252.3 1073.6 2252.3 1074.9 2252.3C1076.2 2252.4 1077.5 2252.4 1078.9 2252.4C1080.2 2252.5 1081.5 2252.5 1082.8 2252.5C1084.2 2252.6 1085.5 2252.6 1086.8 2252.6C1088.2 2252.7 1089.5 2252.7 1090.8 2252.7C1092.2 2252.8 1093.5 2252.8 1094.8 2252.8C1096.1 2252.9 1097.5 2252.9 1098.8 2253.0C1100.1 2253.0 1101.5 2253.0 1102.8 2253.1C1104.1 2253.1 1105.5 2253.1 1106.8 2253.2C1108.1 2253.2 1109.4 2253.2 1110.8 2253.3C1112.1 2253.3 1113.4 2253.4 1114.8 2253.4C1116.1 2253.4 1117.4 2253.5 1118.8 2253.5C1120.1 2253.6 1121.4 2253.6 1122.8 2253.6C1124.1 2253.7 1125.4 2253.7 1126.8 2253.8C1128.1 2253.8 1129.5 2253.8 1130.8 2253.9C1132.1 2253.9 1133.5 2254.0 1134.8 2254.0C1136.1 2254.0 1137.5 2254.1 1138.8 2254.1C1140.1 2254.2 1141.5 2254.2 1142.8 2254.2C1144.2 2254.3 1145.5 2254.3 1146.8 2254.4C1148.2 2254.4 1149.5 2254.5 1150.8 2254.5C1152.2 2254.5 1153.5 2254.6 1154.9 2254.6C1156.2 2254.7 1157.6 2254.7 1158.9 2254.8C1160.2 2254.8 1161.6 2254.9 1162.9 2254.9C1164.3 2254.9 1165.6 2255.0 1167.0 2255.0C1168.3 2255.1 1169.6 2255.1 1171.0 2255.2C1172.3 2255.2 1173.7 2255.3 1175.0 2255.3C1176.4 2255.4 1177.7 2255.4 1179.1 2255.5C1180.4 2255.5 1181.8 2255.6 1183.1 2255.6C1184.5 2255.7 1185.8 2255.7 1187.2 2255.8C1188.5 2255.8 1189.9 2255.9 1191.2 2255.9C1192.6 2256.0 1193.9 2256.0 1195.3 2256.1C1196.6 2256.1 1198.0 2256.2 1199.3 2256.2C1200.7 2256.3 1202.0 2256.3 1203.4 2256.4C1204.8 2256.4 1206.1 2256.5 1207.5 2256.5C1208.8 2256.6 1210.2 2256.6 1211.5 2256.7C1212.9 2256.7 1214.3 2256.8 1215.6 2256.9C1217.0 2256.9 1218.3 2257.0 1219.7 2257.0C1221.0 2257.1 1222.4 2257.2 1223.8 2257.2C1225.1 2257.3 1226.5 2257.4 1227.8 2257.4C1229.2 2257.5 1230.6 2257.6 1231.9 2257.7C1233.3 2257.7 1234.6 2257.8 1236.0 2257.9C1237.3 2258.0 1238.7 2258.1 1240.1 2258.1C1241.4 2258.2 1242.8 2258.3 1244.1 2258.4C1245.5 2258.5 1246.8 2258.6 1248.2 2258.7C1249.5 2258.8 1250.9 2258.9 1252.2 2259.0C1253.6 2259.1 1254.9 2259.2 1256.3 2259.3C1257.6 2259.5 1259.0 2259.6 1260.3 2259.7C1261.6 2259.8 1263.0 2260.0 1264.3 2260.1C1265.7 2260.2 1267.0 2260.4 1268.4 2260.5C1269.7 2260.6 1271.0 2260.8 1272.4 2261.0C1273.7 2261.1 1275.0 2261.3 1276.4 2261.4C1277.7 2261.6 1279.0 2261.8 1280.3 2261.9C1281.7 2262.1 1283.0 2262.3 1284.3 2262.5C1285.6 2262.7 1287.0 2262.9 1288.3 2263.1C1289.6 2263.3 1290.9 2263.5 1292.2 2263.7C1293.5 2263.9 1294.8 2264.2 1296.1 2264.4C1297.4 2264.6 1298.7 2264.8 1300.0 2265.1C1301.3 2265.3 1302.6 2265.6 1303.9 2265.8C1305.2 2266.1 1306.5 2266.4 1307.8 2266.7C1309.1 2266.9 1310.4 2267.2 1311.7 2267.5C1313.0 2267.8 1314.2 2268.1 1315.5 2268.4C1316.8 2268.7 1318.1 2269.0 1319.3 2269.4C1320.6 2269.7 1321.8 2270.0 1323.1 2270.4C1324.4 2270.7 1325.6 2271.1 1326.9 2271.4C1328.1 2271.8 1329.4 2272.1 1330.6 2272.5C1331.9 2272.9 1333.1 2273.3 1334.3 2273.7C1335.6 2274.1 1336.8 2274.5 1338.0 2274.9C1339.3 2275.4 1340.5 2275.8 1341.7 2276.2C1342.9 2276.7 1344.1 2277.1 1345.3 2277.6C1346.6 2278.0 1347.8 2278.5 1349.0 2279.0C1350.2 2279.5 1351.4 2280.0 1352.5 2280.5C1353.7 2281.0 1354.9 2281.5 1356.1 2282.1C1357.3 2282.6 1358.5 2283.1 1359.6 2283.7C1360.8 2284.2 1362.0 2284.8 1363.1 2285.4C1364.3 2285.9 1365.4 2286.5 1366.6 2287.1C1367.7 2287.7 1369.4 2288.7 1370.0 2289.0"/>
<path class="c" stroke-width="9.2" style="stroke-linecap:butt" d="M1767.7 3257.0C1768.4 3257.2 1770.3 3257.8 1771.6 3258.1C1772.9 3258.5 1774.3 3258.6 1775.5 3259.2C1776.7 3259.7 1777.7 3260.7 1778.9 3261.3C1780.1 3261.9 1781.3 3262.3 1782.6 3262.8C1783.8 3263.3 1785.0 3263.8 1786.3 3264.2C1787.5 3264.6 1788.8 3264.9 1790.1 3265.3C1791.4 3265.7 1792.6 3266.1 1793.9 3266.5C1795.2 3266.9 1796.5 3267.3 1797.7 3267.7C1799.0 3268.0 1800.3 3268.3 1801.6 3268.6C1802.9 3269.0 1804.2 3269.3 1805.5 3269.6C1806.8 3269.9 1808.1 3270.2 1809.4 3270.5C1810.7 3270.8 1812.0 3271.0 1813.3 3271.3C1814.6 3271.6 1816.0 3271.8 1817.3 3272.1C1818.6 3272.3 1819.9 3272.6 1821.3 3272.8C1822.6 3273.0 1823.9 3273.2 1825.2 3273.4C1826.6 3273.7 1827.9 3273.9 1829.2 3274.0C1830.6 3274.2 1831.9 3274.4 1833.2 3274.6C1834.6 3274.8 1835.9 3275.0 1837.3 3275.1C1838.6 3275.3 1840.0 3275.4 1841.3 3275.6C1842.6 3275.7 1844.0 3275.9 1845.3 3276.0C1846.7 3276.2 1848.0 3276.3 1849.4 3276.4C1850.7 3276.6 1852.1 3276.7 1853.4 3276.8C1854.8 3276.9 1856.1 3277.0 1857.5 3277.2C1858.8 3277.3 1860.2 3277.4 1861.5 3277.5C1862.9 3277.6 1864.2 3277.7 1865.6 3277.8C1866.9 3277.9 1868.3 3278.0 1869.6 3278.1C1871.0 3278.2 1872.3 3278.3 1873.7 3278.4C1875.0 3278.5 1876.4 3278.6 1877.7 3278.6C1879.1 3278.7 1880.4 3278.8 1881.8 3278.9C1883.1 3279.0 1884.5 3279.1 1885.8 3279.1C1887.2 3279.2 1888.5 3279.3 1889.8 3279.4C1891.2 3279.5 1892.5 3279.5 1893.9 3279.6C1895.2 3279.7 1896.6 3279.8 1897.9 3279.8C1899.2 3279.9 1900.6 3280.0 1901.9 3280.0C1903.3 3280.1 1904.6 3280.2 1905.9 3280.2C1907.3 3280.3 1908.6 3280.4 1909.9 3280.4C1911.3 3280.5 1912.6 3280.6 1914.0 3280.6C1915.3 3280.7 1916.6 3280.7 1918.0 3280.8C1919.3 3280.8 1920.6 3280.9 1922.0 3281.0C1923.3 3281.0 1924.6 3281.1 1926.0 3281.1C1927.3 3281.2 1928.6 3281.2 1930.0 3281.3C1931.3 3281.3 1932.6 3281.4 1934.0 3281.4C1935.3 3281.5 1936.6 3281.5 1938.0 3281.5C1939.3 3281.6 1940.6 3281.6 1942.0 3281.7C1943.3 3281.7 1944.6 3281.8 1946.0 3281.8C1947.3 3281.8 1948.6 3281.9 1949.9 3281.9C1951.3 3281.9 1952.6 3282.0 1953.9 3282.0C1955.3 3282.1 1956.6 3282.1 1957.9 3282.1C1959.3 3282.2 1960.6 3282.2 1961.9 3282.2C1963.2 3282.3 1964.6 3282.3 1965.9 3282.3C1967.2 3282.4 1968.6 3282.4 1969.9 3282.4C1971.2 3282.4 1972.5 3282.5 1973.9 3282.5C1975.2 3282.5 1976.5 3282.6 1977.9 3282.6C1979.2 3282.6 1980.5 3282.6 1981.8 3282.7C1983.2 3282.7 1984.5 3282.7 1985.8 3282.7C1987.1 3282.8 1988.5 3282.8 1989.8 3282.8C1991.1 3282.8 1992.5 3282.9 1993.8 3282.9C1995.1 3282.9 1996.4 3282.9 1997.8 3282.9C1999.1 3283.0 2000.4 3283.0 2001.8 3283.0C2003.1 3283.0 2004.4 3283.0 2005.7 3283.1C2007.1 3283.1 2008.4 3283.1 2009.7 3283.1C2011.1 3283.1 2012.4 3283.2 2013.7 3283.2C2015.0 3283.2 2016.4 3283.2 2017.7 3283.2C2019.0 3283.3 2020.4 3283.3 2021.7 3283.3C2023.0 3283.3 2024.3 3283.3 2025.7 3283.3C2027.0 3283.4 2028.3 3283.4 2029.7 3283.4C2031.0 3283.4 2032.3 3283.4 2033.7 3283.4C2035.0 3283.5 2036.3 3283.5 2037.6 3283.5C2039.0 3283.5 2040.3 3283.5 2041.6 3283.6C2043.0 3283.6 2044.3 3283.6 2045.6 3283.6C2047.0 3283.6 2048.3 3283.6 2049.6 3283.7C2051.0 3283.7 2052.3 3283.7 2053.6 3283.7C2055.0 3283.7 2056.3 3283.7 2057.6 3283.7C2059.0 3283.8 2060.3 3283.8 2061.6 3283.8C2063.0 3283.8 2064.3 3283.8 2065.6 3283.8C2067.0 3283.9 2068.3 3283.9 2069.6 3283.9C2071.0 3283.9 2072.3 3283.9 2073.6 3283.9C2075.0 3283.9 2076.3 3284.0 2077.6 3284.0C2079.0 3284.0 2080.3 3284.0 2081.6 3284.0C2083.0 3284.0 2084.3 3284.0 2085.6 3284.1C2087.0 3284.1 2088.3 3284.1 2089.6 3284.1C2091.0 3284.1 2092.3 3284.1 2093.7 3284.1C2095.0 3284.2 2096.3 3284.2 2097.7 3284.2C2099.0 3284.2 2100.3 3284.2 2101.7 3284.2C2103.0 3284.2 2104.3 3284.2 2105.7 3284.3C2107.0 3284.3 2108.3 3284.3 2109.7 3284.3C2111.0 3284.3 2112.4 3284.3 2113.7 3284.3C2115.0 3284.3 2116.4 3284.3 2117.7 3284.4C2119.0 3284.4 2120.4 3284.4 2121.7 3284.4C2123.0 3284.4 2124.4 3284.4 2125.7 3284.4C2127.1 3284.4 2128.4 3284.4 2129.7 3284.5C2131.1 3284.5 2132.4 3284.5 2133.7 3284.5C2135.1 3284.5 2136.4 3284.5 2137.8 3284.5C2139.1 3284.5 2140.4 3284.5 2141.8 3284.5C2143.1 3284.5 2144.4 3284.5 2145.8 3284.6C2147.1 3284.6 2148.4 3284.6 2149.8 3284.6C2151.1 3284.6 2152.5 3284.6 2153.8 3284.6C2155.1 3284.6 2156.5 3284.6 2157.8 3284.6C2159.1 3284.6 2160.5 3284.6 2161.8 3284.6C2163.2 3284.6 2164.5 3284.6 2165.8 3284.7C2167.2 3284.7 2168.5 3284.7 2169.8 3284.7C2171.2 3284.7 2172.5 3284.7 2173.9 3284.7C2175.2 3284.7 2176.5 3284.7 2177.9 3284.7C2179.2 3284.7 2180.5 3284.7 2181.9 3284.7C2183.2 3284.7 2184.6 3284.7 2185.9 3284.7C2187.2 3284.7 2188.6 3284.7 2189.9 3284.7C2191.2 3284.7 2192.6 3284.7 2193.9 3284.7C2195.3 3284.7 2196.6 3284.7 2197.9 3284.7C2199.3 3284.7 2200.6 3284.7 2201.9 3284.7C2203.3 3284.7 2204.6 3284.7 2205.9 3284.7C2207.3 3284.7 2208.6 3284.7 2210.0 3284.7C2211.3 3284.7 2212.6 3284.7 2214.0 3284.7C2215.3 3284.7 2216.6 3284.7 2218.0 3284.7C2219.3 3284.7 2220.6 3284.7 2222.0 3284.7C2223.3 3284.7 2224.7 3284.7 2226.0 3284.7C2227.3 3284.7 2228.7 3284.7 2230.0 3284.7C2231.3 3284.7 2232.7 3284.7 2234.0 3284.7C2235.3 3284.7 2236.7 3284.6 2238.0 3284.6C2239.3 3284.6 2240.7 3284.6 2242.0 3284.6C2243.4 3284.6 2244.7 3284.6 2246.0 3284.6C2247.4 3284.6 2248.7 3284.6 2250.0 3284.6C2251.4 3284.6 2252.7 3284.6 2254.0 3284.6C2255.4 3284.5 2256.7 3284.5 2258.0 3284.5C2259.4 3284.5 2260.7 3284.5 2262.0 3284.5C2263.4 3284.5 2264.7 3284.5 2266.0 3284.5C2267.4 3284.5 2268.7 3284.4 2270.0 3284.4C2271.4 3284.4 2272.7 3284.4 2274.0 3284.4C2275.4 3284.4 2276.7 3284.4 2278.0 3284.4C2279.4 3284.3 2280.7 3284.3 2282.0 3284.3C2283.4 3284.3 2284.7 3284.3 2286.0 3284.3C2287.3 3284.3 2288.7 3284.2 2290.0 3284.2C2291.3 3284.2 2292.7 3284.2 2294.0 3284.2C2295.3 3284.2 2296.7 3284.1 2298.0 3284.1C2299.3 3284.1 2300.7 3284.1 2302.0 3284.1C2303.3 3284.0 2304.6 3284.0 2306.0 3284.0C2307.3 3284.0 2308.6 3284.0 2310.0 3283.9C2311.3 3283.9 2312.6 3283.9 2313.9 3283.9C2315.3 3283.9 2316.6 3283.8 2317.9 3283.8C2319.3 3283.8 2320.6 3283.8 2321.9 3283.8C2323.2 3283.7 2324.6 3283.6 2325.9 3283.7C2327.2 3283.7 2329.3 3283.9 2330.0 3284.0"/>
<path class="c" stroke-width="7.6" style="stroke-linecap:butt" d="M414.5 2249.5C416.0 2249.5 420.5 2249.6 423.5 2249.6C426.5 2249.6 429.5 2249.5 432.5 2249.5C435.5 2249.5 438.5 2249.5 441.5 2249.5C444.5 2249.5 447.5 2249.4 450.5 2249.4C453.5 2249.4 456.5 2249.4 459.5 2249.4C462.5 2249.4 465.5 2249.4 468.5 2249.4C471.5 2249.3 474.5 2249.3 477.5 2249.3C480.5 2249.3 483.5 2249.3 486.5 2249.3C489.5 2249.3 492.5 2249.3 495.5 2249.3C498.5 2249.2 501.5 2249.2 504.5 2249.2C507.5 2249.2 510.5 2249.2 513.5 2249.2C516.5 2249.2 519.5 2249.2 522.5 2249.2C525.5 2249.2 528.5 2249.2 531.5 2249.2C534.5 2249.2 537.5 2249.2 540.5 2249.2C543.5 2249.2 546.5 2249.1 549.5 2249.1C552.5 2249.1 555.5 2249.1 558.5 2249.1C561.5 2249.1 564.5 2249.1 567.5 2249.1C570.5 2249.1 573.5 2249.1 576.5 2249.1C579.5 2249.1 582.5 2249.1 585.5 2249.1C588.5 2249.1 591.5 2249.1 594.5 2249.1C597.5 2249.1 600.5 2249.1 603.5 2249.1C606.5 2249.1 609.5 2249.1 612.5 2249.1C615.5 2249.2 618.5 2249.2 621.5 2249.2C624.5 2249.2 627.5 2249.2 630.5 2249.2C633.5 2249.2 636.5 2249.2 639.5 2249.2C642.5 2249.2 645.5 2249.2 648.5 2249.2C651.5 2249.2 654.5 2249.2 657.5 2249.2C660.5 2249.3 663.5 2249.3 666.5 2249.3C669.5 2249.3 672.5 2249.3 675.5 2249.3C678.5 2249.3 681.5 2249.3 684.5 2249.4C687.5 2249.4 690.5 2249.4 693.5 2249.4C696.5 2249.4 699.5 2249.4 702.5 2249.4C705.6 2249.5 708.6 2249.5 711.6 2249.5C714.6 2249.5 717.6 2249.5 720.6 2249.5C723.6 2249.6 726.6 2249.6 729.6 2249.6C732.6 2249.6 735.6 2249.6 738.6 2249.7C741.6 2249.7 744.6 2249.7 747.6 2249.7C750.6 2249.7 753.6 2249.8 756.6 2249.8C759.6 2249.8 762.6 2249.8 765.6 2249.9C768.6 2249.9 771.6 2249.9 774.6 2249.9C777.6 2250.0 780.6 2250.0 783.6 2250.0C786.6 2250.0 789.6 2250.1 792.6 2250.1C795.6 2250.1 798.6 2250.2 801.6 2250.2C804.6 2250.2 807.6 2250.2 810.6 2250.3C813.6 2250.3 816.6 2250.3 819.6 2250.4C822.6 2250.4 825.6 2250.4 828.6 2250.5C831.6 2250.5 834.6 2250.5 837.6 2250.6C840.6 2250.6 843.6 2250.7 846.6 2250.7C849.6 2250.7 852.6 2250.8 855.6 2250.8C858.6 2250.8 861.6 2250.9 864.6 2250.9C867.6 2251.0 870.6 2251.0 873.6 2251.1C876.6 2251.1 879.6 2251.1 882.6 2251.2C885.6 2251.2 888.6 2251.3 891.6 2251.3C894.6 2251.4 897.6 2251.4 900.6 2251.4C903.6 2251.5 906.6 2251.5 909.6 2251.6C912.6 2251.6 915.6 2251.7 918.6 2251.7C921.6 2251.8 924.6 2251.8 927.6 2251.9C930.6 2251.9 933.6 2252.0 936.6 2252.0C939.6 2252.1 942.6 2252.1 945.6 2252.2C948.6 2252.3 951.6 2252.3 954.6 2252.4C957.6 2252.4 960.6 2252.5 963.6 2252.5C966.6 2252.6 969.6 2252.7 972.6 2252.7C975.6 2252.8 978.6 2252.8 981.6 2252.9C984.6 2253.0 987.6 2253.0 990.6 2253.1C993.6 2253.1 996.6 2253.2 999.6 2253.3C1002.6 2253.3 1005.6 2253.4 1008.6 2253.5C1011.6 2253.5 1014.6 2253.6 1017.6 2253.7C1020.6 2253.7 1023.6 2253.8 1026.6 2253.9C1029.6 2253.9 1032.6 2254.0 1035.6 2254.1C1038.5 2254.2 1041.5 2254.2 1044.5 2254.3C1047.5 2254.4 1050.5 2254.4 1053.5 2254.5C1056.5 2254.6 1059.5 2254.7 1062.5 2254.7C1065.5 2254.8 1068.5 2254.9 1071.5 2255.0C1074.5 2255.1 1077.5 2255.1 1080.5 2255.2C1083.5 2255.3 1086.5 2255.4 1089.5 2255.5C1092.5 2255.6 1095.5 2255.7 1098.5 2255.8C1101.5 2255.8 1104.5 2255.9 1107.5 2256.0C1110.5 2256.1 1113.5 2256.2 1116.5 2256.3C1119.5 2256.4 1122.4 2256.5 1125.4 2256.7C1128.4 2256.8 1131.4 2256.9 1134.4 2257.0C1137.4 2257.1 1140.4 2257.2 1143.4 2257.3C1146.4 2257.5 1149.4 2257.6 1152.4 2257.7C1155.4 2257.9 1158.4 2258.0 1161.4 2258.1C1164.4 2258.3 1167.4 2258.4 1170.4 2258.6C1173.4 2258.7 1176.4 2258.9 1179.4 2259.0C1182.4 2259.2 1185.4 2259.4 1188.4 2259.5C1191.4 2259.7 1194.4 2259.9 1197.4 2260.0C1200.4 2260.2 1203.4 2260.4 1206.4 2260.6C1209.4 2260.8 1212.5 2261.0 1215.5 2261.2C1218.5 2261.4 1221.5 2261.6 1224.5 2261.8C1227.5 2262.0 1230.5 2262.3 1233.5 2262.5C1236.5 2262.7 1239.5 2263.0 1242.5 2263.2C1245.5 2263.5 1248.5 2263.8 1251.5 2264.1C1254.5 2264.4 1257.5 2264.7 1260.5 2265.0C1263.5 2265.4 1266.5 2265.8 1269.4 2266.2C1272.4 2266.6 1275.4 2267.0 1278.3 2267.5C1281.3 2268.0 1284.3 2268.5 1287.2 2269.1C1290.2 2269.6 1293.1 2270.2 1296.0 2270.9C1298.9 2271.5 1301.9 2272.2 1304.8 2273.0C1307.7 2273.7 1310.6 2274.6 1313.4 2275.4C1316.3 2276.3 1319.2 2277.2 1322.0 2278.1C1324.8 2279.1 1327.7 2280.1 1330.5 2281.2C1333.3 2282.2 1336.0 2283.3 1338.8 2284.5C1341.5 2285.7 1344.3 2286.9 1347.0 2288.1C1349.7 2289.4 1352.3 2290.7 1355.0 2292.1C1357.6 2293.4 1360.2 2294.9 1362.8 2296.3C1365.4 2297.8 1368.0 2299.3 1370.5 2300.9C1373.0 2302.5 1375.5 2304.1 1377.9 2305.7C1380.3 2307.4 1382.7 2309.1 1385.1 2310.9C1387.5 2312.7 1389.8 2314.5 1392.1 2316.3C1394.4 2318.2 1396.7 2320.1 1398.9 2322.0C1401.1 2324.0 1403.3 2326.0 1405.5 2328.0C1407.6 2330.0 1409.8 2332.1 1411.9 2334.2C1414.0 2336.3 1416.0 2338.4 1418.0 2340.6C1420.1 2342.8 1422.1 2345.0 1424.1 2347.2C1426.0 2349.5 1428.0 2351.7 1429.9 2354.0C1431.8 2356.4 1433.7 2358.7 1435.5 2361.1C1437.4 2363.4 1439.2 2365.8 1441.0 2368.2C1442.8 2370.7 1444.6 2373.1 1446.3 2375.6C1448.1 2378.0 1449.8 2380.5 1451.5 2383.0C1453.2 2385.6 1454.8 2388.1 1456.5 2390.7C1458.1 2393.2 1459.7 2395.8 1461.3 2398.4C1462.9 2401.0 1464.5 2403.6 1466.0 2406.2C1467.5 2408.8 1469.1 2411.5 1470.6 2414.1C1472.0 2416.7 1473.5 2419.4 1475.0 2422.1C1476.4 2424.7 1477.9 2427.4 1479.3 2430.1C1480.7 2432.8 1482.1 2435.5 1483.4 2438.2C1484.8 2440.9 1486.1 2443.6 1487.5 2446.3C1488.8 2449.0 1490.1 2451.7 1491.4 2454.5C1492.7 2457.2 1494.0 2459.9 1495.2 2462.7C1496.5 2465.4 1497.7 2468.1 1498.9 2470.9C1500.1 2473.6 1501.3 2476.4 1502.5 2479.1C1503.7 2481.9 1504.9 2484.6 1506.0 2487.4C1507.2 2490.2 1508.3 2492.9 1509.4 2495.7C1510.5 2498.5 1511.6 2501.3 1512.7 2504.0C1513.8 2506.8 1514.8 2509.6 1515.9 2512.4C1517.0 2515.2 1518.0 2518.0 1519.0 2520.8C1520.0 2523.6 1521.0 2526.4 1522.0 2529.2C1523.0 2532.0 1524.0 2534.9 1525.0 2537.7C1525.9 2540.5 1526.9 2543.3 1527.8 2546.2C1528.8 2549.0 1529.7 2551.8 1530.6 2554.7C1531.5 2557.5 1532.4 2560.3 1533.3 2563.2C1534.2 2566.0 1535.1 2568.9 1536.0 2571.7C1536.8 2574.6 1537.7 2577.5 1538.5 2580.3C1539.4 2583.2 1540.2 2586.0 1541.0 2588.9C1541.9 2591.8 1542.7 2594.7 1543.5 2597.5C1544.3 2600.4 1545.1 2603.3 1545.9 2606.2C1546.7 2609.1 1547.4 2611.9 1548.2 2614.8C1549.0 2617.7 1549.7 2620.6 1550.5 2623.5C1551.3 2626.4 1552.0 2629.3 1552.7 2632.2C1553.5 2635.1 1554.2 2638.0 1554.9 2640.9C1555.6 2643.8 1556.4 2646.7 1557.1 2649.7C1557.8 2652.6 1558.5 2655.5 1559.2 2658.4C1559.9 2661.3 1560.6 2664.3 1561.2 2667.2C1561.9 2670.1 1562.6 2673.0 1563.3 2676.0C1563.9 2678.9 1564.6 2681.8 1565.2 2684.7C1565.9 2687.7 1566.6 2690.6 1567.2 2693.5C1567.8 2696.5 1568.5 2699.4 1569.1 2702.4C1569.8 2705.3 1570.4 2708.2 1571.0 2711.2C1571.6 2714.1 1572.2 2717.1 1572.9 2720.0C1573.5 2723.0 1574.1 2725.9 1574.7 2728.9C1575.3 2731.8 1575.9 2734.8 1576.5 2737.7C1577.1 2740.7 1577.7 2743.6 1578.3 2746.6C1578.9 2749.5 1579.5 2752.5 1580.1 2755.4C1580.6 2758.4 1581.2 2761.3 1581.8 2764.3C1582.4 2767.3 1582.9 2770.2 1583.5 2773.2C1584.1 2776.1 1584.7 2779.1 1585.2 2782.0C1585.8 2785.0 1586.4 2788.0 1586.9 2790.9C1587.5 2793.9 1588.1 2796.8 1588.6 2799.8C1589.2 2802.7 1589.7 2805.7 1590.3 2808.7C1590.8 2811.6 1591.4 2814.6 1592.0 2817.5C1592.5 2820.5 1593.1 2823.4 1593.6 2826.4C1594.2 2829.4 1594.7 2832.3 1595.3 2835.3C1595.8 2838.2 1596.4 2841.2 1596.9 2844.1C1597.5 2847.1 1598.0 2850.0 1598.6 2853.0C1599.1 2855.9 1599.7 2858.9 1600.3 2861.8C1600.8 2864.8 1601.4 2867.7 1601.9 2870.7C1602.5 2873.6 1603.0 2876.6 1603.6 2879.5C1604.1 2882.5 1604.7 2885.4 1605.3 2888.4C1605.8 2891.3 1606.4 2894.2 1606.9 2897.2C1607.5 2900.1 1608.1 2903.0 1608.6 2906.0C1609.2 2908.9 1609.8 2911.8 1610.4 2914.8C1610.9 2917.7 1611.5 2920.6 1612.1 2923.6C1612.7 2926.5 1613.2 2929.4 1613.8 2932.3C1614.4 2935.2 1615.0 2938.2 1615.6 2941.1C1616.2 2944.0 1616.8 2946.9 1617.4 2949.8C1618.0 2952.7 1618.6 2955.7 1619.2 2958.6C1619.8 2961.5 1620.4 2964.4 1621.0 2967.3C1621.6 2970.2 1622.2 2973.1 1622.8 2976.1C1623.4 2979.0 1624.0 2981.9 1624.6 2984.8C1625.2 2987.7 1625.9 2990.6 1626.5 2993.5C1627.1 2996.4 1627.7 2999.4 1628.4 3002.3C1629.0 3005.2 1629.6 3008.1 1630.2 3011.0C1630.9 3014.0 1631.5 3016.9 1632.1 3019.8C1632.8 3022.7 1633.4 3025.6 1634.0 3028.6C1634.7 3031.5 1635.3 3034.4 1636.0 3037.4C1636.6 3040.3 1637.3 3043.2 1637.9 3046.2C1638.6 3049.1 1639.2 3052.0 1639.9 3055.0C1640.5 3057.9 1641.2 3060.9 1641.8 3063.8C1642.5 3066.8 1643.1 3069.7 1643.8 3072.7C1644.5 3075.6 1645.1 3078.6 1645.8 3081.6C1646.4 3084.5 1647.1 3087.5 1647.8 3090.5C1648.5 3093.5 1649.1 3096.4 1649.8 3099.4C1650.5 3102.4 1651.2 3105.4 1651.9 3108.3C1652.6 3111.3 1653.3 3114.3 1654.0 3117.3C1654.8 3120.2 1655.5 3123.2 1656.3 3126.2C1657.0 3129.1 1657.8 3132.1 1658.6 3135.0C1659.4 3138.0 1660.2 3140.9 1661.0 3143.8C1661.8 3146.7 1662.7 3149.7 1663.6 3152.6C1664.4 3155.5 1665.3 3158.4 1666.3 3161.3C1667.2 3164.1 1668.1 3167.0 1669.1 3169.9C1670.1 3172.7 1671.1 3175.5 1672.1 3178.4C1673.2 3181.2 1674.2 3184.0 1675.3 3186.8C1676.5 3189.5 1677.6 3192.3 1678.8 3195.1C1679.9 3197.8 1681.2 3200.5 1682.4 3203.2C1683.7 3205.9 1684.9 3208.6 1686.3 3211.2C1687.6 3213.9 1689.0 3216.5 1690.4 3219.1C1691.8 3221.7 1693.3 3224.3 1694.8 3226.8C1696.3 3229.3 1697.9 3231.9 1699.5 3234.3C1701.1 3236.8 1702.7 3239.3 1704.4 3241.7C1706.1 3244.1 1707.9 3246.5 1709.7 3248.8C1711.5 3251.1 1713.4 3253.4 1715.3 3255.6C1717.2 3257.8 1719.2 3260.0 1721.2 3262.1C1723.3 3264.2 1725.4 3266.3 1727.5 3268.2C1729.7 3270.2 1731.9 3272.1 1734.1 3273.9C1736.4 3275.8 1738.7 3277.5 1741.1 3279.2C1743.5 3280.8 1745.9 3282.4 1748.4 3283.8C1750.9 3285.3 1753.5 3286.7 1756.1 3288.0C1758.7 3289.3 1761.3 3290.5 1764.0 3291.6C1766.7 3292.8 1769.5 3293.8 1772.3 3294.8C1775.1 3295.7 1777.9 3296.6 1780.7 3297.5C1783.6 3298.3 1786.5 3299.0 1789.4 3299.7C1792.3 3300.4 1795.2 3301.0 1798.2 3301.5C1801.1 3302.1 1804.1 3302.6 1807.1 3303.0C1810.1 3303.4 1813.1 3303.8 1816.1 3304.2C1819.1 3304.5 1822.2 3304.8 1825.2 3305.1C1828.3 3305.3 1831.3 3305.6 1834.4 3305.8C1837.5 3306.0 1840.5 3306.1 1843.6 3306.3C1846.7 3306.5 1849.7 3306.6 1852.8 3306.7C1855.9 3306.9 1858.9 3307.0 1862.0 3307.1C1865.0 3307.2 1868.1 3307.3 1871.1 3307.4C1874.2 3307.6 1877.2 3307.7 1880.2 3307.8C1883.2 3307.9 1886.3 3308.0 1889.3 3308.1C1892.3 3308.1 1895.3 3308.2 1898.4 3308.3C1901.4 3308.4 1904.4 3308.5 1907.4 3308.6C1910.4 3308.6 1913.4 3308.7 1916.4 3308.8C1919.4 3308.8 1922.4 3308.9 1925.4 3309.0C1928.4 3309.0 1931.4 3309.1 1934.3 3309.1C1937.3 3309.2 1940.3 3309.2 1943.3 3309.3C1946.3 3309.3 1949.3 3309.4 1952.3 3309.4C1955.2 3309.4 1958.2 3309.5 1961.2 3309.5C1964.2 3309.5 1967.2 3309.6 1970.1 3309.6C1973.1 3309.6 1976.1 3309.6 1979.1 3309.6C1982.1 3309.7 1985.0 3309.7 1988.0 3309.7C1991.0 3309.7 1994.0 3309.7 1997.0 3309.7C2000.0 3309.7 2002.9 3309.7 2005.9 3309.7C2008.9 3309.7 2011.9 3309.7 2014.9 3309.7C2017.9 3309.7 2020.9 3309.7 2023.9 3309.7C2026.8 3309.7 2029.8 3309.7 2032.8 3309.7C2035.8 3309.7 2038.8 3309.7 2041.8 3309.6C2044.8 3309.6 2047.8 3309.6 2050.8 3309.6C2053.8 3309.6 2056.8 3309.5 2059.8 3309.5C2062.8 3309.5 2065.8 3309.5 2068.8 3309.4C2071.8 3309.4 2074.8 3309.4 2077.8 3309.4C2080.8 3309.3 2083.8 3309.3 2086.8 3309.3C2089.8 3309.2 2092.8 3309.2 2095.8 3309.2C2098.8 3309.2 2101.8 3309.1 2104.8 3309.1C2107.8 3309.1 2110.8 3309.0 2113.8 3309.0C2116.9 3309.0 2119.9 3308.9 2122.9 3308.9C2125.9 3308.9 2128.9 3308.8 2131.9 3308.8C2134.9 3308.8 2137.9 3308.7 2140.9 3308.7C2143.9 3308.7 2146.9 3308.6 2149.9 3308.6C2152.9 3308.6 2155.9 3308.5 2159.0 3308.5C2162.0 3308.5 2165.0 3308.4 2168.0 3308.4C2171.0 3308.4 2174.0 3308.4 2177.0 3308.3C2180.0 3308.3 2183.0 3308.3 2186.0 3308.3C2189.0 3308.2 2192.0 3308.2 2195.0 3308.2C2198.1 3308.2 2201.1 3308.2 2204.1 3308.1C2207.1 3308.1 2210.1 3308.1 2213.1 3308.1C2216.1 3308.1 2219.1 3308.1 2222.1 3308.1C2225.1 3308.0 2228.1 3308.0 2231.1 3308.0C2234.1 3308.0 2237.1 3308.0 2240.1 3308.0C2243.1 3308.0 2246.1 3308.0 2249.1 3308.0C2252.1 3308.0 2255.1 3308.0 2258.1 3308.1C2261.1 3308.1 2264.1 3308.1 2267.1 3308.1C2270.1 3308.1 2273.1 3308.1 2276.1 3308.2C2279.1 3308.2 2282.1 3308.2 2285.1 3308.2C2288.1 3308.3 2291.1 3308.3 2294.0 3308.3C2297.0 3308.4 2300.0 3308.4 2303.0 3308.5C2306.0 3308.5 2309.0 3308.6 2312.0 3308.6C2315.0 3308.7 2317.9 3308.7 2320.9 3308.8C2323.9 3308.9 2328.5 3309.0 2330.0 3309.0"/>
<path class="c" stroke-width="9.2" style="stroke-linecap:butt" d="M414.5 2249.5C416.0 2249.5 420.5 2249.6 423.5 2249.6C426.5 2249.6 429.5 2249.5 432.5 2249.5C435.5 2249.5 438.5 2249.5 441.5 2249.5C444.5 2249.5 447.5 2249.4 450.5 2249.4C453.5 2249.4 456.5 2249.4 459.5 2249.4C462.5 2249.4 465.5 2249.4 468.5 2249.4C471.5 2249.3 474.5 2249.3 477.5 2249.3C480.5 2249.3 483.5 2249.3 486.5 2249.3C489.5 2249.3 492.5 2249.3 495.5 2249.3C498.5 2249.2 501.5 2249.2 504.5 2249.2C507.5 2249.2 510.5 2249.2 513.5 2249.2C516.5 2249.2 519.5 2249.2 522.5 2249.2C525.5 2249.2 528.5 2249.2 531.5 2249.2C534.5 2249.2 537.5 2249.2 540.5 2249.2C543.5 2249.2 546.5 2249.1 549.5 2249.1C552.5 2249.1 555.5 2249.1 558.5 2249.1C561.5 2249.1 564.5 2249.1 567.5 2249.1C570.5 2249.1 573.5 2249.1 576.5 2249.1C579.5 2249.1 582.5 2249.1 585.5 2249.1C588.5 2249.1 591.5 2249.1 594.5 2249.1C597.5 2249.1 600.5 2249.1 603.5 2249.1C606.5 2249.1 609.5 2249.1 612.5 2249.1C615.5 2249.2 618.5 2249.2 621.5 2249.2C624.5 2249.2 627.5 2249.2 630.5 2249.2C633.5 2249.2 636.5 2249.2 639.5 2249.2C642.5 2249.2 645.5 2249.2 648.5 2249.2C651.5 2249.2 654.5 2249.2 657.5 2249.2C660.5 2249.3 663.5 2249.3 666.5 2249.3C669.5 2249.3 672.5 2249.3 675.5 2249.3C678.5 2249.3 681.5 2249.3 684.5 2249.4C687.5 2249.4 690.5 2249.4 693.5 2249.4C696.5 2249.4 699.5 2249.4 702.5 2249.4C705.6 2249.5 708.6 2249.5 711.6 2249.5C714.6 2249.5 717.6 2249.5 720.6 2249.5C723.6 2249.6 726.6 2249.6 729.6 2249.6C732.6 2249.6 735.6 2249.6 738.6 2249.7C741.6 2249.7 744.6 2249.7 747.6 2249.7C750.6 2249.7 753.6 2249.8 756.6 2249.8C759.6 2249.8 762.6 2249.8 765.6 2249.9C768.6 2249.9 771.6 2249.9 774.6 2249.9C777.6 2250.0 780.6 2250.0 783.6 2250.0C786.6 2250.0 789.6 2250.1 792.6 2250.1C795.6 2250.1 798.6 2250.2 801.6 2250.2C804.6 2250.2 807.6 2250.2 810.6 2250.3C813.6 2250.3 816.6 2250.3 819.6 2250.4C822.6 2250.4 825.6 2250.4 828.6 2250.5C831.6 2250.5 834.6 2250.5 837.6 2250.6C840.6 2250.6 843.6 2250.7 846.6 2250.7C849.6 2250.7 852.6 2250.8 855.6 2250.8C858.6 2250.8 861.6 2250.9 864.6 2250.9C867.6 2251.0 870.6 2251.0 873.6 2251.1C876.6 2251.1 879.6 2251.1 882.6 2251.2C885.6 2251.2 888.6 2251.3 891.6 2251.3C894.6 2251.4 897.6 2251.4 900.6 2251.4C903.6 2251.5 906.6 2251.5 909.6 2251.6C912.6 2251.6 915.6 2251.7 918.6 2251.7C921.6 2251.8 924.6 2251.8 927.6 2251.9C930.6 2251.9 933.6 2252.0 936.6 2252.0C939.6 2252.1 942.6 2252.1 945.6 2252.2C948.6 2252.3 951.6 2252.3 954.6 2252.4C957.6 2252.4 960.6 2252.5 963.6 2252.5C966.6 2252.6 969.6 2252.7 972.6 2252.7C975.6 2252.8 978.6 2252.8 981.6 2252.9C984.6 2253.0 987.6 2253.0 990.6 2253.1C993.6 2253.1 996.6 2253.2 999.6 2253.3C1002.6 2253.3 1005.6 2253.4 1008.6 2253.5C1011.6 2253.5 1014.6 2253.6 1017.6 2253.7C1020.6 2253.7 1023.6 2253.8 1026.6 2253.9C1029.6 2253.9 1032.6 2254.0 1035.6 2254.1C1038.5 2254.2 1041.5 2254.2 1044.5 2254.3C1047.5 2254.4 1050.5 2254.4 1053.5 2254.5C1056.5 2254.6 1059.5 2254.7 1062.5 2254.7C1065.5 2254.8 1068.5 2254.9 1071.5 2255.0C1074.5 2255.1 1077.5 2255.1 1080.5 2255.2C1083.5 2255.3 1086.5 2255.4 1089.5 2255.5C1092.5 2255.6 1095.5 2255.7 1098.5 2255.8C1101.5 2255.8 1104.5 2255.9 1107.5 2256.0C1110.5 2256.1 1113.5 2256.2 1116.5 2256.3C1119.5 2256.4 1122.4 2256.5 1125.4 2256.7C1128.4 2256.8 1131.4 2256.9 1134.4 2257.0C1137.4 2257.1 1140.4 2257.2 1143.4 2257.3C1146.4 2257.5 1149.4 2257.6 1152.4 2257.7C1155.4 2257.9 1158.4 2258.0 1161.4 2258.1C1164.4 2258.3 1167.4 2258.4 1170.4 2258.6C1173.4 2258.7 1176.4 2258.9 1179.4 2259.0C1182.4 2259.2 1185.4 2259.4 1188.4 2259.5C1191.4 2259.7 1194.4 2259.9 1197.4 2260.0C1200.4 2260.2 1203.4 2260.4 1206.4 2260.6C1209.4 2260.8 1212.5 2261.0 1215.5 2261.2C1218.5 2261.4 1221.5 2261.6 1224.5 2261.8C1227.5 2262.0 1230.5 2262.3 1233.5 2262.5C1236.5 2262.7 1239.5 2263.0 1242.5 2263.2C1245.5 2263.5 1248.5 2263.8 1251.5 2264.1C1254.5 2264.4 1257.5 2264.7 1260.5 2265.0C1263.5 2265.4 1266.5 2265.8 1269.4 2266.2C1272.4 2266.6 1275.4 2267.0 1278.3 2267.5C1281.3 2268.0 1284.3 2268.5 1287.2 2269.1C1290.2 2269.6 1293.1 2270.2 1296.0 2270.9C1298.9 2271.5 1301.9 2272.2 1304.8 2273.0C1307.7 2273.7 1310.6 2274.6 1313.4 2275.4C1316.3 2276.3 1319.2 2277.2 1322.0 2278.1C1324.8 2279.1 1327.7 2280.1 1330.5 2281.2C1333.3 2282.2 1336.0 2283.3 1338.8 2284.5C1341.5 2285.7 1344.3 2286.9 1347.0 2288.1C1349.7 2289.4 1353.7 2291.4 1355.0 2292.1"/>
<path class="c" stroke-width="9.2" style="stroke-linecap:butt" d="M1756.1 3288.0C1757.4 3288.6 1761.3 3290.5 1764.0 3291.6C1766.7 3292.8 1769.5 3293.8 1772.3 3294.8C1775.1 3295.7 1777.9 3296.6 1780.7 3297.5C1783.6 3298.3 1786.5 3299.0 1789.4 3299.7C1792.3 3300.4 1795.2 3301.0 1798.2 3301.5C1801.1 3302.1 1804.1 3302.6 1807.1 3303.0C1810.1 3303.4 1813.1 3303.8 1816.1 3304.2C1819.1 3304.5 1822.2 3304.8 1825.2 3305.1C1828.3 3305.3 1831.3 3305.6 1834.4 3305.8C1837.5 3306.0 1840.5 3306.1 1843.6 3306.3C1846.7 3306.5 1849.7 3306.6 1852.8 3306.7C1855.9 3306.9 1858.9 3307.0 1862.0 3307.1C1865.0 3307.2 1868.1 3307.3 1871.1 3307.4C1874.2 3307.6 1877.2 3307.7 1880.2 3307.8C1883.2 3307.9 1886.3 3308.0 1889.3 3308.1C1892.3 3308.1 1895.3 3308.2 1898.4 3308.3C1901.4 3308.4 1904.4 3308.5 1907.4 3308.6C1910.4 3308.6 1913.4 3308.7 1916.4 3308.8C1919.4 3308.8 1922.4 3308.9 1925.4 3309.0C1928.4 3309.0 1931.4 3309.1 1934.3 3309.1C1937.3 3309.2 1940.3 3309.2 1943.3 3309.3C1946.3 3309.3 1949.3 3309.4 1952.3 3309.4C1955.2 3309.4 1958.2 3309.5 1961.2 3309.5C1964.2 3309.5 1967.2 3309.6 1970.1 3309.6C1973.1 3309.6 1976.1 3309.6 1979.1 3309.6C1982.1 3309.7 1985.0 3309.7 1988.0 3309.7C1991.0 3309.7 1994.0 3309.7 1997.0 3309.7C2000.0 3309.7 2002.9 3309.7 2005.9 3309.7C2008.9 3309.7 2011.9 3309.7 2014.9 3309.7C2017.9 3309.7 2020.9 3309.7 2023.9 3309.7C2026.8 3309.7 2029.8 3309.7 2032.8 3309.7C2035.8 3309.7 2038.8 3309.7 2041.8 3309.6C2044.8 3309.6 2047.8 3309.6 2050.8 3309.6C2053.8 3309.6 2056.8 3309.5 2059.8 3309.5C2062.8 3309.5 2065.8 3309.5 2068.8 3309.4C2071.8 3309.4 2074.8 3309.4 2077.8 3309.4C2080.8 3309.3 2083.8 3309.3 2086.8 3309.3C2089.8 3309.2 2092.8 3309.2 2095.8 3309.2C2098.8 3309.2 2101.8 3309.1 2104.8 3309.1C2107.8 3309.1 2110.8 3309.0 2113.8 3309.0C2116.9 3309.0 2119.9 3308.9 2122.9 3308.9C2125.9 3308.9 2128.9 3308.8 2131.9 3308.8C2134.9 3308.8 2137.9 3308.7 2140.9 3308.7C2143.9 3308.7 2146.9 3308.6 2149.9 3308.6C2152.9 3308.6 2155.9 3308.5 2159.0 3308.5C2162.0 3308.5 2165.0 3308.4 2168.0 3308.4C2171.0 3308.4 2174.0 3308.4 2177.0 3308.3C2180.0 3308.3 2183.0 3308.3 2186.0 3308.3C2189.0 3308.2 2192.0 3308.2 2195.0 3308.2C2198.1 3308.2 2201.1 3308.2 2204.1 3308.1C2207.1 3308.1 2210.1 3308.1 2213.1 3308.1C2216.1 3308.1 2219.1 3308.1 2222.1 3308.1C2225.1 3308.0 2228.1 3308.0 2231.1 3308.0C2234.1 3308.0 2237.1 3308.0 2240.1 3308.0C2243.1 3308.0 2246.1 3308.0 2249.1 3308.0C2252.1 3308.0 2255.1 3308.0 2258.1 3308.1C2261.1 3308.1 2264.1 3308.1 2267.1 3308.1C2270.1 3308.1 2273.1 3308.1 2276.1 3308.2C2279.1 3308.2 2282.1 3308.2 2285.1 3308.2C2288.1 3308.3 2291.1 3308.3 2294.0 3308.3C2297.0 3308.4 2300.0 3308.4 2303.0 3308.5C2306.0 3308.5 2309.0 3308.6 2312.0 3308.6C2315.0 3308.7 2317.9 3308.7 2320.9 3308.8C2323.9 3308.9 2328.5 3309.0 2330.0 3309.0"/>
<path class="c" stroke-width="7.4" style="stroke-linecap:butt" d="M414.5 2252.0C415.2 2252.0 417.3 2252.2 418.7 2252.2C420.0 2252.3 421.3 2252.2 422.7 2252.2C424.0 2252.1 425.3 2252.1 426.7 2252.1C428.0 2252.0 429.3 2252.0 430.6 2252.0C432.0 2251.9 433.3 2251.9 434.6 2251.9C436.0 2251.9 437.3 2251.8 438.6 2251.8C440.0 2251.8 441.3 2251.8 442.6 2251.7C443.9 2251.7 445.3 2251.7 446.6 2251.7C447.9 2251.6 449.3 2251.6 450.6 2251.6C451.9 2251.6 453.3 2251.5 454.6 2251.5C455.9 2251.5 457.3 2251.5 458.6 2251.4C459.9 2251.4 461.3 2251.4 462.6 2251.4C463.9 2251.3 465.3 2251.3 466.6 2251.3C467.9 2251.3 469.2 2251.3 470.6 2251.2C471.9 2251.2 473.2 2251.2 474.6 2251.2C475.9 2251.1 477.2 2251.1 478.6 2251.1C479.9 2251.1 481.2 2251.1 482.6 2251.1C483.9 2251.0 485.2 2251.0 486.6 2251.0C487.9 2251.0 489.2 2251.0 490.6 2250.9C491.9 2250.9 493.2 2250.9 494.6 2250.9C495.9 2250.9 497.2 2250.9 498.6 2250.8C499.9 2250.8 501.2 2250.8 502.6 2250.8C503.9 2250.8 505.2 2250.8 506.6 2250.7C507.9 2250.7 509.2 2250.7 510.6 2250.7C511.9 2250.7 513.2 2250.7 514.6 2250.7C515.9 2250.7 517.2 2250.6 518.6 2250.6C519.9 2250.6 521.2 2250.6 522.6 2250.6C523.9 2250.6 525.2 2250.6 526.6 2250.6C527.9 2250.5 529.2 2250.5 530.6 2250.5C531.9 2250.5 533.2 2250.5 534.6 2250.5C535.9 2250.5 537.2 2250.5 538.6 2250.5C539.9 2250.4 541.2 2250.4 542.6 2250.4C543.9 2250.4 545.2 2250.4 546.6 2250.4C547.9 2250.4 549.2 2250.4 550.6 2250.4C551.9 2250.4 553.3 2250.4 554.6 2250.4C555.9 2250.4 557.3 2250.3 558.6 2250.3C559.9 2250.3 561.3 2250.3 562.6 2250.3C563.9 2250.3 565.3 2250.3 566.6 2250.3C567.9 2250.3 569.3 2250.3 570.6 2250.3C571.9 2250.3 573.3 2250.3 574.6 2250.3C575.9 2250.3 577.3 2250.3 578.6 2250.3C580.0 2250.3 581.3 2250.3 582.6 2250.3C584.0 2250.3 585.3 2250.3 586.6 2250.2C588.0 2250.2 589.3 2250.2 590.6 2250.2C592.0 2250.2 593.3 2250.2 594.6 2250.2C596.0 2250.2 597.3 2250.2 598.7 2250.2C600.0 2250.2 601.3 2250.2 602.7 2250.2C604.0 2250.2 605.3 2250.2 606.7 2250.2C608.0 2250.2 609.3 2250.2 610.7 2250.2C612.0 2250.2 613.3 2250.2 614.7 2250.2C616.0 2250.2 617.4 2250.2 618.7 2250.3C620.0 2250.3 621.4 2250.3 622.7 2250.3C624.0 2250.3 625.4 2250.3 626.7 2250.3C628.0 2250.3 629.4 2250.3 630.7 2250.3C632.1 2250.3 633.4 2250.3 634.7 2250.3C636.1 2250.3 637.4 2250.3 638.7 2250.3C640.1 2250.3 641.4 2250.3 642.7 2250.3C644.1 2250.3 645.4 2250.3 646.8 2250.3C648.1 2250.3 649.4 2250.4 650.8 2250.4C652.1 2250.4 653.4 2250.4 654.8 2250.4C656.1 2250.4 657.4 2250.4 658.8 2250.4C660.1 2250.4 661.5 2250.4 662.8 2250.4C664.1 2250.4 665.5 2250.4 666.8 2250.4C668.1 2250.5 669.5 2250.5 670.8 2250.5C672.1 2250.5 673.5 2250.5 674.8 2250.5C676.2 2250.5 677.5 2250.5 678.8 2250.5C680.2 2250.5 681.5 2250.5 682.8 2250.6C684.2 2250.6 685.5 2250.6 686.9 2250.6C688.2 2250.6 689.5 2250.6 690.9 2250.6C692.2 2250.6 693.5 2250.6 694.9 2250.7C696.2 2250.7 697.5 2250.7 698.9 2250.7C700.2 2250.7 701.6 2250.7 702.9 2250.7C704.2 2250.7 705.6 2250.8 706.9 2250.8C708.2 2250.8 709.6 2250.8 710.9 2250.8C712.3 2250.8 713.6 2250.8 714.9 2250.8C716.3 2250.9 717.6 2250.9 718.9 2250.9C720.3 2250.9 721.6 2250.9 722.9 2250.9C724.3 2250.9 725.6 2251.0 727.0 2251.0C728.3 2251.0 729.6 2251.0 731.0 2251.0C732.3 2251.0 733.6 2251.1 735.0 2251.1C736.3 2251.1 737.7 2251.1 739.0 2251.1C740.3 2251.1 741.7 2251.2 743.0 2251.2C744.3 2251.2 745.7 2251.2 747.0 2251.2C748.4 2251.2 749.7 2251.3 751.0 2251.3C752.4 2251.3 753.7 2251.3 755.0 2251.3C756.4 2251.3 757.7 2251.4 759.0 2251.4C760.4 2251.4 761.7 2251.4 763.1 2251.4C764.4 2251.4 765.7 2251.5 767.1 2251.5C768.4 2251.5 769.7 2251.5 771.1 2251.5C772.4 2251.6 773.8 2251.6 775.1 2251.6C776.4 2251.6 777.8 2251.6 779.1 2251.7C780.4 2251.7 781.8 2251.7 783.1 2251.7C784.4 2251.7 785.8 2251.8 787.1 2251.8C788.5 2251.8 789.8 2251.8 791.1 2251.8C792.5 2251.9 793.8 2251.9 795.1 2251.9C796.5 2251.9 797.8 2251.9 799.2 2252.0C800.5 2252.0 801.8 2252.0 803.2 2252.0C804.5 2252.1 805.8 2252.1 807.2 2252.1C808.5 2252.1 809.8 2252.1 811.2 2252.2C812.5 2252.2 813.9 2252.2 815.2 2252.2C816.5 2252.3 817.9 2252.3 819.2 2252.3C820.5 2252.3 821.9 2252.3 823.2 2252.4C824.5 2252.4 825.9 2252.4 827.2 2252.4C828.6 2252.5 829.9 2252.5 831.2 2252.5C832.6 2252.5 833.9 2252.6 835.2 2252.6C836.6 2252.6 837.9 2252.6 839.2 2252.7C840.6 2252.7 841.9 2252.7 843.3 2252.7C844.6 2252.8 845.9 2252.8 847.3 2252.8C848.6 2252.8 849.9 2252.9 851.3 2252.9C852.6 2252.9 853.9 2252.9 855.3 2253.0C856.6 2253.0 857.9 2253.0 859.3 2253.0C860.6 2253.1 862.0 2253.1 863.3 2253.1C864.6 2253.1 866.0 2253.2 867.3 2253.2C868.6 2253.2 870.0 2253.2 871.3 2253.3C872.6 2253.3 874.0 2253.3 875.3 2253.3C876.6 2253.4 878.0 2253.4 879.3 2253.4C880.6 2253.4 882.0 2253.5 883.3 2253.5C884.7 2253.5 886.0 2253.6 887.3 2253.6C888.7 2253.6 890.0 2253.6 891.3 2253.7C892.7 2253.7 894.0 2253.7 895.3 2253.7C896.7 2253.8 898.0 2253.8 899.3 2253.8C900.7 2253.9 902.0 2253.9 903.3 2253.9C904.7 2253.9 906.0 2254.0 907.3 2254.0C908.7 2254.0 910.0 2254.1 911.4 2254.1C912.7 2254.1 914.0 2254.1 915.4 2254.2C916.7 2254.2 918.0 2254.2 919.4 2254.3C920.7 2254.3 922.0 2254.3 923.4 2254.3C924.7 2254.4 926.0 2254.4 927.4 2254.4C928.7 2254.5 930.0 2254.5 931.4 2254.5C932.7 2254.5 934.0 2254.6 935.4 2254.6C936.7 2254.6 938.0 2254.7 939.4 2254.7C940.7 2254.7 942.0 2254.7 943.4 2254.8C944.7 2254.8 946.0 2254.8 947.4 2254.9C948.7 2254.9 950.0 2254.9 951.4 2254.9C952.7 2255.0 954.0 2255.0 955.4 2255.0C956.7 2255.1 958.0 2255.1 959.4 2255.1C960.7 2255.2 962.0 2255.2 963.4 2255.2C964.7 2255.2 966.0 2255.3 967.4 2255.3C968.7 2255.3 970.0 2255.4 971.4 2255.4C972.7 2255.4 974.0 2255.5 975.4 2255.5C976.7 2255.5 978.0 2255.5 979.4 2255.6C980.7 2255.6 982.0 2255.6 983.4 2255.7C984.7 2255.7 986.0 2255.7 987.4 2255.8C988.7 2255.8 990.0 2255.8 991.3 2255.9C992.7 2255.9 994.0 2255.9 995.3 2255.9C996.7 2256.0 998.0 2256.0 999.3 2256.0C1000.7 2256.1 1002.0 2256.1 1003.3 2256.1C1004.7 2256.2 1006.0 2256.2 1007.3 2256.2C1008.7 2256.3 1010.0 2256.3 1011.3 2256.3C1012.7 2256.3 1014.0 2256.4 1015.3 2256.4C1016.6 2256.4 1018.0 2256.5 1019.3 2256.5C1020.6 2256.5 1022.0 2256.6 1023.3 2256.6C1024.6 2256.6 1026.0 2256.7 1027.3 2256.7C1028.6 2256.7 1030.0 2256.7 1031.3 2256.8C1032.6 2256.8 1033.9 2256.8 1035.3 2256.9C1036.6 2256.9 1037.9 2256.9 1039.3 2257.0C1040.6 2257.0 1041.9 2257.0 1043.3 2257.1C1044.6 2257.1 1045.9 2257.1 1047.2 2257.1C1048.6 2257.2 1049.9 2257.2 1051.2 2257.2C1052.6 2257.3 1053.9 2257.3 1055.2 2257.3C1056.5 2257.4 1057.9 2257.4 1059.2 2257.4C1060.5 2257.5 1061.9 2257.5 1063.2 2257.5C1064.5 2257.6 1065.8 2257.6 1067.2 2257.6C1068.5 2257.6 1069.8 2257.7 1071.2 2257.7C1072.5 2257.7 1073.8 2257.8 1075.2 2257.8C1076.5 2257.8 1077.8 2257.9 1079.1 2257.9C1080.5 2257.9 1081.8 2258.0 1083.1 2258.0C1084.5 2258.1 1085.8 2258.1 1087.1 2258.1C1088.4 2258.2 1089.8 2258.2 1091.1 2258.2C1092.4 2258.3 1093.8 2258.3 1095.1 2258.4C1096.4 2258.4 1097.7 2258.4 1099.1 2258.5C1100.4 2258.5 1101.7 2258.6 1103.1 2258.6C1104.4 2258.6 1105.7 2258.7 1107.0 2258.7C1108.4 2258.8 1109.7 2258.8 1111.0 2258.9C1112.4 2258.9 1113.7 2259.0 1115.0 2259.0C1116.4 2259.0 1117.7 2259.1 1119.0 2259.1C1120.3 2259.2 1121.7 2259.2 1123.0 2259.3C1124.3 2259.3 1125.7 2259.4 1127.0 2259.5C1128.3 2259.5 1129.7 2259.6 1131.0 2259.6C1132.3 2259.7 1133.7 2259.7 1135.0 2259.8C1136.3 2259.9 1137.7 2259.9 1139.0 2260.0C1140.3 2260.0 1141.6 2260.1 1143.0 2260.2C1144.3 2260.2 1145.6 2260.3 1147.0 2260.4C1148.3 2260.4 1149.6 2260.5 1151.0 2260.6C1152.3 2260.7 1153.6 2260.7 1155.0 2260.8C1156.3 2260.9 1157.6 2260.9 1159.0 2261.0C1160.3 2261.1 1161.7 2261.2 1163.0 2261.3C1164.3 2261.3 1165.7 2261.4 1167.0 2261.5C1168.3 2261.6 1169.7 2261.7 1171.0 2261.8C1172.3 2261.9 1173.7 2262.0 1175.0 2262.0C1176.4 2262.1 1177.7 2262.2 1179.0 2262.3C1180.4 2262.4 1181.7 2262.5 1183.0 2262.6C1184.4 2262.7 1185.7 2262.8 1187.1 2262.9C1188.4 2263.0 1189.7 2263.1 1191.1 2263.3C1192.4 2263.4 1193.8 2263.5 1195.1 2263.6C1196.4 2263.7 1197.8 2263.8 1199.1 2263.9C1200.5 2264.1 1201.8 2264.2 1203.1 2264.3C1204.5 2264.4 1205.8 2264.6 1207.2 2264.7C1208.5 2264.8 1209.9 2264.9 1211.2 2265.1C1212.6 2265.2 1213.9 2265.3 1215.2 2265.5C1216.6 2265.6 1217.9 2265.8 1219.3 2265.9C1220.6 2266.0 1222.0 2266.2 1223.3 2266.3C1224.7 2266.5 1226.0 2266.6 1227.4 2266.8C1228.7 2266.9 1230.1 2267.1 1231.4 2267.3C1232.8 2267.4 1234.1 2267.6 1235.5 2267.8C1236.8 2267.9 1238.2 2268.1 1239.5 2268.3C1240.9 2268.4 1242.2 2268.6 1243.6 2268.8C1244.9 2269.0 1246.3 2269.2 1247.6 2269.4C1248.9 2269.5 1250.3 2269.7 1251.6 2269.9C1253.0 2270.1 1254.3 2270.3 1255.7 2270.5C1257.0 2270.7 1258.4 2270.9 1259.7 2271.2C1261.0 2271.4 1262.4 2271.6 1263.7 2271.8C1265.1 2272.0 1266.4 2272.3 1267.7 2272.5C1269.1 2272.7 1270.4 2273.0 1271.7 2273.2C1273.1 2273.5 1274.4 2273.7 1275.7 2274.0C1277.0 2274.2 1278.4 2274.5 1279.7 2274.8C1281.0 2275.0 1282.3 2275.3 1283.7 2275.6C1285.0 2275.9 1286.3 2276.1 1287.6 2276.4C1288.9 2276.7 1290.2 2277.0 1291.5 2277.3C1292.9 2277.6 1294.2 2277.9 1295.5 2278.2C1296.8 2278.6 1298.1 2278.9 1299.4 2279.2C1300.6 2279.5 1301.9 2279.9 1303.2 2280.2C1304.5 2280.6 1305.8 2280.9 1307.1 2281.3C1308.4 2281.6 1309.6 2282.0 1310.9 2282.4C1312.2 2282.7 1313.5 2283.1 1314.7 2283.5C1316.0 2283.9 1317.2 2284.3 1318.5 2284.7C1319.8 2285.1 1321.0 2285.5 1322.3 2285.9C1323.5 2286.3 1324.7 2286.8 1326.0 2287.2C1327.2 2287.6 1328.5 2288.1 1329.7 2288.5C1330.9 2289.0 1332.1 2289.5 1333.4 2289.9C1334.6 2290.4 1335.8 2290.9 1337.0 2291.4C1338.2 2291.8 1339.4 2292.3 1340.6 2292.9C1341.8 2293.4 1343.0 2293.9 1344.2 2294.4C1345.4 2294.9 1346.5 2295.5 1347.7 2296.0C1348.9 2296.5 1350.0 2297.1 1351.2 2297.7C1352.4 2298.2 1353.5 2298.8 1354.7 2299.4C1355.8 2300.0 1357.0 2300.6 1358.1 2301.2C1359.2 2301.8 1360.4 2302.4 1361.5 2303.0C1362.6 2303.6 1363.7 2304.3 1364.8 2304.9C1365.9 2305.6 1367.0 2306.2 1368.1 2306.9C1369.2 2307.6 1370.3 2308.2 1371.4 2308.9C1372.4 2309.6 1373.5 2310.3 1374.6 2311.0C1375.6 2311.8 1376.7 2312.5 1377.7 2313.2C1378.8 2314.0 1379.8 2314.7 1380.9 2315.5C1381.9 2316.2 1382.9 2317.0 1383.9 2317.8C1384.9 2318.6 1385.9 2319.4 1387.0 2320.1C1388.0 2320.9 1389.1 2321.6 1390.0 2322.5C1391.0 2323.3 1391.9 2324.3 1392.8 2325.2C1393.8 2326.0 1394.7 2326.9 1395.6 2327.8C1396.6 2328.7 1397.5 2329.6 1398.4 2330.5C1399.4 2331.3 1400.5 2332.1 1401.5 2332.9C1402.5 2333.8 1403.6 2334.5 1404.4 2335.5C1405.3 2336.5 1405.8 2337.8 1406.6 2338.9C1407.4 2339.9 1408.3 2340.8 1409.2 2341.7C1410.1 2342.7 1411.0 2343.6 1411.9 2344.6C1412.8 2345.5 1413.8 2346.4 1414.7 2347.4C1415.6 2348.4 1416.5 2349.3 1417.3 2350.4C1418.1 2351.4 1418.6 2352.7 1419.5 2353.7C1420.5 2354.6 1421.9 2355.2 1422.9 2356.1C1423.8 2357.1 1424.5 2358.3 1425.1 2359.4C1425.8 2360.6 1426.3 2361.9 1426.9 2363.1C1427.6 2364.3 1428.2 2365.4 1428.9 2366.6C1429.7 2367.7 1430.4 2368.8 1431.3 2369.8C1432.2 2370.8 1433.6 2371.5 1434.4 2372.6C1435.2 2373.7 1435.4 2375.2 1436.0 2376.4C1436.7 2377.6 1437.4 2378.7 1438.2 2379.8C1438.9 2381.0 1439.8 2382.0 1440.5 2383.2C1441.3 2384.3 1442.0 2385.5 1442.7 2386.6C1443.3 2387.8 1444.1 2389.0 1444.7 2390.2C1445.3 2391.4 1445.5 2392.9 1446.3 2394.0C1447.1 2395.1 1448.5 2395.9 1449.4 2396.9C1450.3 2398.0 1451.0 2399.2 1451.6 2400.4C1452.3 2401.7 1452.7 2403.0 1453.2 2404.3C1453.7 2405.6 1454.0 2407.0 1454.6 2408.2C1455.1 2409.5 1455.7 2410.8 1456.4 2412.0C1457.1 2413.1 1458.3 2414.1 1458.9 2415.3C1459.5 2416.6 1459.5 2418.1 1460.0 2419.4C1460.6 2420.7 1461.5 2421.8 1462.2 2423.0C1462.9 2424.1 1463.6 2425.3 1464.3 2426.5C1465.0 2427.8 1465.7 2428.9 1466.3 2430.2C1466.8 2431.5 1467.1 2432.9 1467.5 2434.2C1467.9 2435.5 1468.0 2437.0 1468.7 2438.2C1469.4 2439.4 1470.8 2440.3 1471.5 2441.5C1472.3 2442.7 1472.7 2444.0 1473.3 2445.3C1473.8 2446.5 1474.4 2447.8 1474.9 2449.1C1475.3 2450.4 1475.5 2451.8 1476.0 2453.1C1476.5 2454.4 1477.2 2455.6 1477.8 2456.8C1478.3 2458.1 1479.0 2459.3 1479.4 2460.6C1479.8 2462.0 1479.6 2463.5 1480.0 2464.8C1480.5 2466.1 1481.4 2467.2 1482.1 2468.4C1482.8 2469.6 1483.4 2470.8 1484.0 2472.0C1484.7 2473.2 1485.6 2474.3 1486.1 2475.6C1486.6 2476.9 1486.6 2478.3 1486.9 2479.7C1487.2 2481.0 1487.4 2482.4 1487.9 2483.6C1488.5 2484.9 1489.6 2485.9 1490.2 2487.1C1490.8 2488.3 1491.0 2489.7 1491.5 2491.0C1491.9 2492.2 1492.6 2493.4 1493.0 2494.7C1493.4 2496.0 1493.6 2497.3 1494.1 2498.6C1494.6 2499.8 1495.4 2501.0 1495.9 2502.2C1496.5 2503.4 1497.1 2504.6 1497.4 2505.9C1497.6 2507.3 1497.3 2508.8 1497.5 2510.1C1497.8 2511.5 1498.5 2512.6 1499.0 2513.9C1499.5 2515.1 1500.0 2516.3 1500.6 2517.5C1501.2 2518.7 1502.2 2519.8 1502.7 2521.0C1503.2 2522.2 1503.5 2523.6 1503.8 2524.9C1504.1 2526.2 1504.1 2527.6 1504.5 2528.8C1505.0 2530.1 1506.0 2531.1 1506.5 2532.3C1507.0 2533.6 1507.1 2534.9 1507.5 2536.2C1507.8 2537.5 1508.2 2538.7 1508.6 2540.0C1508.9 2541.3 1509.1 2542.6 1509.5 2543.9C1509.9 2545.1 1510.5 2546.3 1511.1 2547.5C1511.7 2548.7 1512.7 2549.8 1513.1 2551.0C1513.4 2552.3 1513.1 2553.8 1513.3 2555.1C1513.4 2556.4 1513.7 2557.7 1514.0 2559.0C1514.3 2560.3 1514.7 2561.6 1515.1 2562.8C1515.6 2564.0 1516.2 2565.2 1516.7 2566.4C1517.2 2567.7 1517.9 2568.8 1518.3 2570.1C1518.6 2571.4 1518.4 2572.8 1518.8 2574.0C1519.2 2575.3 1520.1 2576.4 1520.6 2577.6C1521.2 2578.8 1521.6 2580.0 1522.0 2581.3C1522.3 2582.6 1522.4 2583.9 1522.6 2585.2C1522.9 2586.5 1523.1 2587.8 1523.3 2589.1C1523.6 2590.4 1523.6 2591.8 1524.1 2593.0C1524.5 2594.3 1525.6 2595.3 1526.1 2596.5C1526.6 2597.8 1526.8 2599.1 1527.1 2600.4C1527.3 2601.7 1527.4 2603.0 1527.6 2604.3C1527.9 2605.6 1528.3 2606.8 1528.7 2608.1C1529.0 2609.4 1529.2 2610.7 1529.6 2611.9C1530.0 2613.2 1530.7 2614.4 1531.0 2615.7C1531.3 2616.9 1531.3 2618.3 1531.6 2619.6C1531.9 2620.9 1532.3 2622.1 1532.8 2623.4C1533.3 2624.6 1534.0 2625.8 1534.5 2627.0C1534.9 2628.3 1535.1 2629.6 1535.4 2630.9C1535.7 2632.2 1536.0 2633.4 1536.2 2634.8C1536.4 2636.1 1536.3 2637.5 1536.6 2638.7C1536.9 2640.0 1537.5 2641.3 1537.9 2642.5C1538.3 2643.8 1538.8 2645.0 1539.1 2646.3C1539.4 2647.6 1539.5 2649.0 1539.8 2650.2C1540.1 2651.5 1540.5 2652.8 1540.8 2654.1C1541.2 2655.4 1541.4 2656.7 1541.8 2657.9C1542.1 2659.2 1542.6 2660.5 1542.9 2661.8C1543.2 2663.0 1543.4 2664.4 1543.6 2665.7C1543.9 2667.0 1544.0 2668.3 1544.4 2669.6C1544.7 2670.9 1545.3 2672.1 1545.7 2673.4C1546.1 2674.7 1546.4 2676.0 1546.7 2677.2C1547.1 2678.5 1547.4 2679.8 1547.7 2681.1C1548.0 2682.4 1548.1 2683.8 1548.4 2685.1C1548.7 2686.4 1549.0 2687.7 1549.3 2689.0C1549.6 2690.3 1550.0 2691.5 1550.3 2692.8C1550.6 2694.1 1550.8 2695.5 1551.0 2696.8C1551.3 2698.1 1551.7 2699.4 1552.0 2700.7C1552.3 2702.0 1552.6 2703.3 1552.9 2704.6C1553.2 2705.8 1553.6 2707.1 1553.9 2708.4C1554.2 2709.7 1554.5 2711.0 1554.8 2712.3C1555.1 2713.7 1555.3 2715.0 1555.5 2716.3C1555.8 2717.6 1556.2 2718.9 1556.5 2720.2C1556.8 2721.5 1557.1 2722.8 1557.4 2724.1C1557.7 2725.4 1558.0 2726.7 1558.3 2728.0C1558.6 2729.3 1558.9 2730.6 1559.1 2731.9C1559.4 2733.2 1559.7 2734.5 1560.0 2735.9C1560.3 2737.2 1560.6 2738.5 1560.9 2739.8C1561.2 2741.1 1561.4 2742.4 1561.7 2743.7C1562.0 2745.0 1562.3 2746.3 1562.6 2747.6C1562.9 2748.9 1563.2 2750.3 1563.4 2751.6C1563.7 2752.9 1564.0 2754.2 1564.3 2755.5C1564.6 2756.8 1564.9 2758.1 1565.1 2759.4C1565.4 2760.7 1565.7 2762.1 1566.0 2763.4C1566.3 2764.7 1566.5 2766.0 1566.8 2767.3C1567.1 2768.6 1567.4 2769.9 1567.7 2771.2C1567.9 2772.6 1568.2 2773.9 1568.5 2775.2C1568.8 2776.5 1569.1 2777.8 1569.3 2779.1C1569.6 2780.4 1569.9 2781.8 1570.2 2783.1C1570.4 2784.4 1570.7 2785.7 1571.0 2787.0C1571.3 2788.3 1571.5 2789.6 1571.8 2791.0C1572.1 2792.3 1572.4 2793.6 1572.6 2794.9C1572.9 2796.2 1573.2 2797.5 1573.5 2798.9C1573.7 2800.2 1574.0 2801.5 1574.3 2802.8C1574.6 2804.1 1574.8 2805.4 1575.1 2806.7C1575.4 2808.1 1575.6 2809.4 1575.9 2810.7C1576.2 2812.0 1576.5 2813.3 1576.7 2814.6C1577.0 2816.0 1577.3 2817.3 1577.5 2818.6C1577.8 2819.9 1578.1 2821.2 1578.4 2822.5C1578.6 2823.9 1578.9 2825.2 1579.2 2826.5C1579.4 2827.8 1579.7 2829.1 1580.0 2830.4C1580.2 2831.8 1580.5 2833.1 1580.8 2834.4C1581.0 2835.7 1581.3 2837.0 1581.6 2838.3C1581.9 2839.7 1582.1 2841.0 1582.4 2842.3C1582.7 2843.6 1582.9 2844.9 1583.2 2846.2C1583.5 2847.6 1583.7 2848.9 1584.0 2850.2C1584.3 2851.5 1584.5 2852.8 1584.8 2854.1C1585.1 2855.5 1585.3 2856.8 1585.6 2858.1C1585.9 2859.4 1586.1 2860.7 1586.4 2862.0C1586.7 2863.4 1586.9 2864.7 1587.2 2866.0C1587.5 2867.3 1587.7 2868.6 1588.0 2869.9C1588.3 2871.3 1588.5 2872.6 1588.8 2873.9C1589.1 2875.2 1589.3 2876.5 1589.6 2877.8C1589.9 2879.1 1590.2 2880.5 1590.4 2881.8C1590.7 2883.1 1591.0 2884.4 1591.2 2885.7C1591.5 2887.0 1591.8 2888.3 1592.0 2889.7C1592.3 2891.0 1592.6 2892.3 1592.8 2893.6C1593.1 2894.9 1593.4 2896.2 1593.6 2897.5C1593.9 2898.9 1594.2 2900.2 1594.4 2901.5C1594.7 2902.8 1595.0 2904.1 1595.2 2905.4C1595.5 2906.7 1595.8 2908.0 1596.0 2909.4C1596.3 2910.7 1596.6 2912.0 1596.8 2913.3C1597.1 2914.6 1597.4 2915.9 1597.7 2917.2C1597.9 2918.5 1598.2 2919.8 1598.5 2921.2C1598.7 2922.5 1599.0 2923.8 1599.3 2925.1C1599.5 2926.4 1599.8 2927.7 1600.1 2929.0C1600.4 2930.3 1600.6 2931.6 1600.9 2932.9C1601.2 2934.2 1601.4 2935.6 1601.7 2936.9C1602.0 2938.2 1602.3 2939.5 1602.5 2940.8C1602.8 2942.1 1603.1 2943.4 1603.3 2944.7C1603.6 2946.0 1603.9 2947.3 1604.2 2948.6C1604.4 2949.9 1604.7 2951.2 1605.0 2952.5C1605.3 2953.8 1605.5 2955.1 1605.8 2956.4C1606.1 2957.7 1606.4 2959.0 1606.6 2960.3C1606.9 2961.6 1607.2 2962.9 1607.5 2964.2C1607.7 2965.6 1608.0 2966.9 1608.3 2968.2C1608.6 2969.5 1608.8 2970.8 1609.1 2972.1C1609.4 2973.4 1609.7 2974.6 1610.0 2975.9C1610.2 2977.2 1610.5 2978.5 1610.8 2979.8C1611.1 2981.1 1611.4 2982.4 1611.6 2983.7C1611.9 2985.0 1612.2 2986.3 1612.5 2987.6C1612.8 2988.9 1613.0 2990.2 1613.3 2991.5C1613.6 2992.8 1613.9 2994.1 1614.2 2995.4C1614.4 2996.7 1614.7 2998.0 1615.0 2999.3C1615.3 3000.6 1615.6 3001.9 1615.9 3003.2C1616.2 3004.5 1616.4 3005.8 1616.7 3007.0C1617.0 3008.3 1617.3 3009.6 1617.6 3010.9C1617.9 3012.2 1618.1 3013.5 1618.4 3014.8C1618.7 3016.1 1619.0 3017.4 1619.3 3018.7C1619.6 3020.0 1619.9 3021.3 1620.2 3022.6C1620.4 3023.9 1620.7 3025.2 1621.0 3026.4C1621.3 3027.7 1621.6 3029.0 1621.9 3030.3C1622.2 3031.6 1622.5 3032.9 1622.8 3034.2C1623.1 3035.5 1623.3 3036.8 1623.6 3038.1C1623.9 3039.4 1624.2 3040.7 1624.5 3042.0C1624.8 3043.3 1625.1 3044.5 1625.4 3045.8C1625.7 3047.1 1626.0 3048.4 1626.3 3049.7C1626.6 3051.0 1626.9 3052.3 1627.2 3053.6C1627.4 3054.9 1627.7 3056.2 1628.0 3057.5C1628.3 3058.8 1628.6 3060.1 1628.9 3061.4C1629.2 3062.7 1629.5 3064.0 1629.8 3065.2C1630.1 3066.5 1630.4 3067.8 1630.7 3069.1C1631.0 3070.4 1631.3 3071.7 1631.6 3073.0C1631.9 3074.3 1632.2 3075.6 1632.5 3076.9C1632.8 3078.2 1633.1 3079.5 1633.4 3080.8C1633.7 3082.1 1634.0 3083.4 1634.3 3084.7C1634.6 3086.0 1634.9 3087.3 1635.2 3088.6C1635.5 3089.9 1635.8 3091.2 1636.1 3092.5C1636.4 3093.8 1636.7 3095.1 1637.0 3096.4C1637.3 3097.7 1637.6 3099.0 1637.9 3100.3C1638.2 3101.6 1638.5 3102.9 1638.8 3104.2C1639.1 3105.5 1639.4 3106.8 1639.8 3108.1C1640.1 3109.4 1640.4 3110.7 1640.7 3112.0C1641.0 3113.3 1641.3 3114.6 1641.6 3115.9C1641.9 3117.2 1642.2 3118.6 1642.5 3119.9C1642.8 3121.2 1643.1 3122.5 1643.4 3123.8C1643.7 3125.1 1644.0 3126.4 1644.4 3127.7C1644.7 3129.0 1645.0 3130.3 1645.3 3131.7C1645.6 3133.0 1645.9 3134.3 1646.2 3135.6C1646.5 3136.9 1646.9 3138.2 1647.2 3139.5C1647.5 3140.8 1647.8 3142.1 1648.1 3143.5C1648.4 3144.8 1648.8 3146.1 1649.1 3147.4C1649.4 3148.7 1649.7 3150.0 1650.1 3151.3C1650.4 3152.6 1650.7 3153.9 1651.1 3155.3C1651.4 3156.6 1651.7 3157.9 1652.1 3159.2C1652.4 3160.5 1652.7 3161.8 1653.1 3163.1C1653.4 3164.4 1653.8 3165.7 1654.1 3167.0C1654.5 3168.3 1654.8 3169.6 1655.2 3170.9C1655.5 3172.2 1655.9 3173.5 1656.3 3174.8C1656.6 3176.1 1657.0 3177.4 1657.4 3178.7C1657.8 3180.0 1658.1 3181.3 1658.5 3182.6C1658.9 3183.9 1659.3 3185.1 1659.7 3186.4C1660.1 3187.7 1660.5 3189.0 1660.9 3190.3C1661.3 3191.6 1661.7 3192.8 1662.1 3194.1C1662.5 3195.4 1663.0 3196.7 1663.4 3197.9C1663.8 3199.2 1664.2 3200.5 1664.7 3201.7C1665.1 3203.0 1665.6 3204.3 1666.0 3205.5C1666.5 3206.8 1666.9 3208.0 1667.4 3209.3C1667.8 3210.5 1668.3 3211.8 1668.8 3213.0C1669.3 3214.3 1669.7 3215.5 1670.2 3216.8C1670.7 3218.0 1671.2 3219.2 1671.7 3220.5C1672.2 3221.7 1672.8 3222.9 1673.3 3224.1C1673.8 3225.4 1674.3 3226.6 1674.9 3227.8C1675.4 3229.0 1675.9 3230.2 1676.5 3231.4C1677.1 3232.6 1677.6 3233.8 1678.2 3235.0C1678.8 3236.2 1679.3 3237.4 1679.9 3238.6C1680.5 3239.8 1681.1 3241.0 1681.7 3242.2C1682.3 3243.3 1682.9 3244.5 1683.6 3245.7C1684.2 3246.9 1684.8 3248.0 1685.5 3249.2C1686.1 3250.3 1686.8 3251.5 1687.4 3252.6C1688.1 3253.8 1688.8 3254.9 1689.5 3256.1C1690.1 3257.2 1690.8 3258.3 1691.5 3259.4C1692.3 3260.6 1693.0 3261.7 1693.7 3262.8C1694.4 3263.9 1695.2 3265.0 1695.9 3266.1C1696.7 3267.2 1697.4 3268.3 1698.2 3269.4C1699.0 3270.5 1699.8 3271.6 1700.6 3272.6C1701.3 3273.7 1702.2 3274.8 1703.0 3275.8C1703.8 3276.9 1704.6 3278.0 1705.5 3279.0C1706.3 3280.0 1707.2 3281.1 1708.0 3282.1C1708.9 3283.1 1709.8 3284.1 1710.7 3285.1C1711.5 3286.1 1712.4 3287.1 1713.4 3288.1C1714.3 3289.1 1715.2 3290.1 1716.1 3291.0C1717.1 3292.0 1718.0 3292.9 1719.0 3293.8C1719.9 3294.8 1720.9 3295.7 1721.9 3296.6C1722.8 3297.5 1723.8 3298.4 1724.8 3299.2C1725.8 3300.1 1726.9 3301.0 1727.9 3301.8C1728.9 3302.6 1729.9 3303.5 1731.0 3304.3C1732.0 3305.1 1733.1 3305.9 1734.2 3306.6C1735.2 3307.4 1736.3 3308.2 1737.4 3308.9C1738.5 3309.6 1739.6 3310.3 1740.7 3311.0C1741.8 3311.7 1743.0 3312.4 1744.1 3313.1C1745.2 3313.7 1746.4 3314.3 1747.6 3314.9C1748.7 3315.6 1749.9 3316.1 1751.1 3316.7C1752.2 3317.3 1753.4 3317.8 1754.6 3318.3C1755.8 3318.9 1757.1 3319.4 1758.3 3319.8C1759.5 3320.3 1760.7 3320.8 1762.0 3321.2C1763.2 3321.7 1764.5 3322.1 1765.7 3322.5C1767.0 3322.9 1768.3 3323.3 1769.5 3323.7C1770.8 3324.0 1772.1 3324.4 1773.4 3324.7C1774.6 3325.0 1775.9 3325.4 1777.2 3325.7C1778.5 3326.0 1779.8 3326.3 1781.1 3326.5C1782.5 3326.8 1783.8 3327.1 1785.1 3327.3C1786.4 3327.6 1787.7 3327.8 1789.0 3328.0C1790.4 3328.3 1791.7 3328.5 1793.0 3328.7C1794.3 3328.9 1795.7 3329.1 1797.0 3329.2C1798.3 3329.4 1799.7 3329.6 1801.0 3329.7C1802.3 3329.9 1803.7 3330.1 1805.0 3330.2C1806.3 3330.3 1807.7 3330.5 1809.0 3330.6C1810.3 3330.7 1811.7 3330.8 1813.0 3331.0C1814.3 3331.1 1815.7 3331.2 1817.0 3331.3C1818.4 3331.4 1819.7 3331.5 1821.0 3331.5C1822.4 3331.6 1823.7 3331.7 1825.0 3331.8C1826.4 3331.8 1827.7 3331.9 1829.1 3332.0C1830.4 3332.0 1831.7 3332.1 1833.1 3332.1C1834.4 3332.2 1835.8 3332.2 1837.1 3332.2C1838.4 3332.3 1839.8 3332.3 1841.1 3332.3C1842.5 3332.4 1843.8 3332.4 1845.1 3332.4C1846.5 3332.4 1847.8 3332.4 1849.2 3332.5C1850.5 3332.5 1851.8 3332.5 1853.2 3332.5C1854.5 3332.5 1855.9 3332.5 1857.2 3332.5C1858.6 3332.5 1859.9 3332.5 1861.2 3332.5C1862.6 3332.5 1863.9 3332.5 1865.3 3332.5C1866.6 3332.5 1867.9 3332.5 1869.3 3332.5C1870.6 3332.4 1872.0 3332.4 1873.3 3332.4C1874.7 3332.4 1876.0 3332.4 1877.3 3332.4C1878.7 3332.4 1880.0 3332.4 1881.4 3332.3C1882.7 3332.3 1884.0 3332.3 1885.4 3332.3C1886.7 3332.3 1888.1 3332.3 1889.4 3332.3C1890.7 3332.3 1892.1 3332.3 1893.4 3332.3C1894.8 3332.2 1896.1 3332.2 1897.4 3332.2C1898.8 3332.2 1900.1 3332.2 1901.4 3332.2C1902.8 3332.2 1904.1 3332.2 1905.5 3332.2C1906.8 3332.2 1908.1 3332.2 1909.5 3332.2C1910.8 3332.2 1912.1 3332.2 1913.5 3332.2C1914.8 3332.1 1916.2 3332.1 1917.5 3332.1C1918.8 3332.1 1920.2 3332.1 1921.5 3332.1C1922.8 3332.1 1924.2 3332.1 1925.5 3332.1C1926.8 3332.1 1928.2 3332.1 1929.5 3332.1C1930.9 3332.1 1932.2 3332.1 1933.5 3332.1C1934.9 3332.1 1936.2 3332.1 1937.5 3332.1C1938.9 3332.1 1940.2 3332.1 1941.5 3332.1C1942.9 3332.1 1944.2 3332.1 1945.5 3332.1C1946.9 3332.1 1948.2 3332.1 1949.5 3332.1C1950.9 3332.1 1952.2 3332.1 1953.5 3332.1C1954.9 3332.1 1956.2 3332.1 1957.5 3332.1C1958.9 3332.2 1960.2 3332.2 1961.5 3332.2C1962.9 3332.2 1964.2 3332.2 1965.5 3332.2C1966.9 3332.2 1968.2 3332.2 1969.5 3332.2C1970.9 3332.2 1972.2 3332.2 1973.6 3332.2C1974.9 3332.2 1976.2 3332.2 1977.6 3332.2C1978.9 3332.2 1980.2 3332.2 1981.5 3332.2C1982.9 3332.2 1984.2 3332.2 1985.5 3332.2C1986.9 3332.2 1988.2 3332.3 1989.5 3332.3C1990.9 3332.3 1992.2 3332.3 1993.5 3332.3C1994.9 3332.3 1996.2 3332.3 1997.5 3332.3C1998.9 3332.3 2000.2 3332.3 2001.5 3332.3C2002.9 3332.3 2004.2 3332.3 2005.5 3332.3C2006.9 3332.3 2008.2 3332.3 2009.5 3332.3C2010.9 3332.3 2012.2 3332.4 2013.5 3332.4C2014.9 3332.4 2016.2 3332.4 2017.5 3332.4C2018.9 3332.4 2020.2 3332.4 2021.5 3332.4C2022.9 3332.4 2024.2 3332.4 2025.5 3332.4C2026.9 3332.4 2028.2 3332.4 2029.5 3332.4C2030.9 3332.4 2032.2 3332.4 2033.5 3332.4C2034.9 3332.4 2036.2 3332.4 2037.5 3332.4C2038.9 3332.5 2040.2 3332.5 2041.5 3332.5C2042.9 3332.5 2044.2 3332.5 2045.5 3332.5C2046.9 3332.5 2048.2 3332.5 2049.5 3332.5C2050.9 3332.5 2052.2 3332.5 2053.5 3332.5C2054.9 3332.5 2056.2 3332.5 2057.6 3332.5C2058.9 3332.5 2060.2 3332.5 2061.6 3332.5C2062.9 3332.5 2064.2 3332.5 2065.6 3332.5C2066.9 3332.5 2068.2 3332.5 2069.6 3332.5C2070.9 3332.5 2072.2 3332.5 2073.6 3332.5C2074.9 3332.5 2076.2 3332.5 2077.6 3332.5C2078.9 3332.5 2080.2 3332.5 2081.6 3332.5C2082.9 3332.5 2084.2 3332.5 2085.6 3332.5C2086.9 3332.5 2088.3 3332.5 2089.6 3332.5C2090.9 3332.5 2092.3 3332.5 2093.6 3332.5C2094.9 3332.5 2096.3 3332.5 2097.6 3332.5C2098.9 3332.5 2100.3 3332.5 2101.6 3332.5C2102.9 3332.5 2104.3 3332.5 2105.6 3332.5C2107.0 3332.5 2108.3 3332.5 2109.6 3332.5C2111.0 3332.5 2112.3 3332.5 2113.6 3332.5C2115.0 3332.5 2116.3 3332.5 2117.6 3332.5C2119.0 3332.5 2120.3 3332.5 2121.6 3332.5C2123.0 3332.5 2124.3 3332.5 2125.7 3332.5C2127.0 3332.5 2128.3 3332.5 2129.7 3332.5C2131.0 3332.5 2132.3 3332.5 2133.7 3332.5C2135.0 3332.5 2136.3 3332.5 2137.7 3332.5C2139.0 3332.5 2140.4 3332.5 2141.7 3332.5C2143.0 3332.5 2144.4 3332.5 2145.7 3332.5C2147.0 3332.5 2148.4 3332.5 2149.7 3332.5C2151.0 3332.5 2152.4 3332.5 2153.7 3332.5C2155.1 3332.5 2156.4 3332.4 2157.7 3332.4C2159.1 3332.4 2160.4 3332.4 2161.7 3332.4C2163.1 3332.4 2164.4 3332.4 2165.7 3332.4C2167.1 3332.4 2168.4 3332.4 2169.8 3332.4C2171.1 3332.4 2172.4 3332.4 2173.8 3332.4C2175.1 3332.4 2176.4 3332.4 2177.8 3332.4C2179.1 3332.4 2180.4 3332.4 2181.8 3332.4C2183.1 3332.4 2184.5 3332.4 2185.8 3332.4C2187.1 3332.4 2188.5 3332.4 2189.8 3332.4C2191.1 3332.4 2192.5 3332.4 2193.8 3332.4C2195.1 3332.4 2196.5 3332.4 2197.8 3332.4C2199.2 3332.4 2200.5 3332.4 2201.8 3332.4C2203.2 3332.4 2204.5 3332.4 2205.8 3332.4C2207.2 3332.4 2208.5 3332.4 2209.8 3332.4C2211.2 3332.3 2212.5 3332.3 2213.9 3332.3C2215.2 3332.3 2216.5 3332.3 2217.9 3332.3C2219.2 3332.3 2220.5 3332.3 2221.9 3332.3C2223.2 3332.3 2224.5 3332.3 2225.9 3332.3C2227.2 3332.3 2228.5 3332.3 2229.9 3332.3C2231.2 3332.3 2232.6 3332.3 2233.9 3332.3C2235.2 3332.3 2236.6 3332.3 2237.9 3332.3C2239.2 3332.3 2240.6 3332.3 2241.9 3332.3C2243.2 3332.3 2244.6 3332.3 2245.9 3332.3C2247.2 3332.3 2248.6 3332.3 2249.9 3332.3C2251.3 3332.3 2252.6 3332.3 2253.9 3332.3C2255.3 3332.3 2256.6 3332.3 2257.9 3332.3C2259.3 3332.3 2260.6 3332.3 2261.9 3332.3C2263.3 3332.3 2264.6 3332.3 2265.9 3332.3C2267.3 3332.3 2268.6 3332.3 2269.9 3332.3C2271.3 3332.3 2272.6 3332.3 2273.9 3332.3C2275.3 3332.3 2276.6 3332.3 2278.0 3332.3C2279.3 3332.3 2280.6 3332.3 2282.0 3332.3C2283.3 3332.3 2284.6 3332.3 2286.0 3332.3C2287.3 3332.3 2288.6 3332.4 2290.0 3332.4C2291.3 3332.4 2292.6 3332.4 2294.0 3332.4C2295.3 3332.4 2296.6 3332.4 2298.0 3332.4C2299.3 3332.4 2300.6 3332.4 2302.0 3332.4C2303.3 3332.4 2304.6 3332.4 2306.0 3332.4C2307.3 3332.4 2308.6 3332.4 2310.0 3332.4C2311.3 3332.4 2312.6 3332.4 2314.0 3332.4C2315.3 3332.4 2316.6 3332.4 2318.0 3332.4C2319.3 3332.5 2320.6 3332.5 2322.0 3332.5C2323.3 3332.5 2324.6 3332.5 2326.0 3332.5C2327.3 3332.5 2329.3 3332.4 2330.0 3332.4"/>
<path class="c" stroke-width="8.6" style="stroke-linecap:butt" d="M414.5 2252.0C415.2 2252.0 417.3 2252.2 418.7 2252.2C420.0 2252.3 421.3 2252.2 422.7 2252.2C424.0 2252.1 425.3 2252.1 426.7 2252.1C428.0 2252.0 429.3 2252.0 430.6 2252.0C432.0 2251.9 433.3 2251.9 434.6 2251.9C436.0 2251.9 437.3 2251.8 438.6 2251.8C440.0 2251.8 441.3 2251.8 442.6 2251.7C443.9 2251.7 445.3 2251.7 446.6 2251.7C447.9 2251.6 449.3 2251.6 450.6 2251.6C451.9 2251.6 453.3 2251.5 454.6 2251.5C455.9 2251.5 457.3 2251.5 458.6 2251.4C459.9 2251.4 461.3 2251.4 462.6 2251.4C463.9 2251.3 465.3 2251.3 466.6 2251.3C467.9 2251.3 469.2 2251.3 470.6 2251.2C471.9 2251.2 473.2 2251.2 474.6 2251.2C475.9 2251.1 477.2 2251.1 478.6 2251.1C479.9 2251.1 481.2 2251.1 482.6 2251.1C483.9 2251.0 485.2 2251.0 486.6 2251.0C487.9 2251.0 489.2 2251.0 490.6 2250.9C491.9 2250.9 493.2 2250.9 494.6 2250.9C495.9 2250.9 497.2 2250.9 498.6 2250.8C499.9 2250.8 501.2 2250.8 502.6 2250.8C503.9 2250.8 505.2 2250.8 506.6 2250.7C507.9 2250.7 509.2 2250.7 510.6 2250.7C511.9 2250.7 513.2 2250.7 514.6 2250.7C515.9 2250.7 517.2 2250.6 518.6 2250.6C519.9 2250.6 521.2 2250.6 522.6 2250.6C523.9 2250.6 525.2 2250.6 526.6 2250.6C527.9 2250.5 529.2 2250.5 530.6 2250.5C531.9 2250.5 533.2 2250.5 534.6 2250.5C535.9 2250.5 537.2 2250.5 538.6 2250.5C539.9 2250.4 541.2 2250.4 542.6 2250.4C543.9 2250.4 545.2 2250.4 546.6 2250.4C547.9 2250.4 549.2 2250.4 550.6 2250.4C551.9 2250.4 553.3 2250.4 554.6 2250.4C555.9 2250.4 557.3 2250.3 558.6 2250.3C559.9 2250.3 561.3 2250.3 562.6 2250.3C563.9 2250.3 565.3 2250.3 566.6 2250.3C567.9 2250.3 569.3 2250.3 570.6 2250.3C571.9 2250.3 573.3 2250.3 574.6 2250.3C575.9 2250.3 577.3 2250.3 578.6 2250.3C580.0 2250.3 581.3 2250.3 582.6 2250.3C584.0 2250.3 585.3 2250.3 586.6 2250.2C588.0 2250.2 589.3 2250.2 590.6 2250.2C592.0 2250.2 593.3 2250.2 594.6 2250.2C596.0 2250.2 597.3 2250.2 598.7 2250.2C600.0 2250.2 601.3 2250.2 602.7 2250.2C604.0 2250.2 605.3 2250.2 606.7 2250.2C608.0 2250.2 609.3 2250.2 610.7 2250.2C612.0 2250.2 613.3 2250.2 614.7 2250.2C616.0 2250.2 617.4 2250.2 618.7 2250.3C620.0 2250.3 621.4 2250.3 622.7 2250.3C624.0 2250.3 625.4 2250.3 626.7 2250.3C628.0 2250.3 629.4 2250.3 630.7 2250.3C632.1 2250.3 633.4 2250.3 634.7 2250.3C636.1 2250.3 637.4 2250.3 638.7 2250.3C640.1 2250.3 641.4 2250.3 642.7 2250.3C644.1 2250.3 645.4 2250.3 646.8 2250.3C648.1 2250.3 649.4 2250.4 650.8 2250.4C652.1 2250.4 653.4 2250.4 654.8 2250.4C656.1 2250.4 657.4 2250.4 658.8 2250.4C660.1 2250.4 661.5 2250.4 662.8 2250.4C664.1 2250.4 665.5 2250.4 666.8 2250.4C668.1 2250.5 669.5 2250.5 670.8 2250.5C672.1 2250.5 673.5 2250.5 674.8 2250.5C676.2 2250.5 677.5 2250.5 678.8 2250.5C680.2 2250.5 681.5 2250.5 682.8 2250.6C684.2 2250.6 685.5 2250.6 686.9 2250.6C688.2 2250.6 689.5 2250.6 690.9 2250.6C692.2 2250.6 693.5 2250.6 694.9 2250.7C696.2 2250.7 697.5 2250.7 698.9 2250.7C700.2 2250.7 701.6 2250.7 702.9 2250.7C704.2 2250.7 705.6 2250.8 706.9 2250.8C708.2 2250.8 709.6 2250.8 710.9 2250.8C712.3 2250.8 713.6 2250.8 714.9 2250.8C716.3 2250.9 717.6 2250.9 718.9 2250.9C720.3 2250.9 721.6 2250.9 722.9 2250.9C724.3 2250.9 725.6 2251.0 727.0 2251.0C728.3 2251.0 729.6 2251.0 731.0 2251.0C732.3 2251.0 733.6 2251.1 735.0 2251.1C736.3 2251.1 737.7 2251.1 739.0 2251.1C740.3 2251.1 741.7 2251.2 743.0 2251.2C744.3 2251.2 745.7 2251.2 747.0 2251.2C748.4 2251.2 749.7 2251.3 751.0 2251.3C752.4 2251.3 753.7 2251.3 755.0 2251.3C756.4 2251.3 757.7 2251.4 759.0 2251.4C760.4 2251.4 761.7 2251.4 763.1 2251.4C764.4 2251.4 765.7 2251.5 767.1 2251.5C768.4 2251.5 769.7 2251.5 771.1 2251.5C772.4 2251.6 773.8 2251.6 775.1 2251.6C776.4 2251.6 777.8 2251.6 779.1 2251.7C780.4 2251.7 781.8 2251.7 783.1 2251.7C784.4 2251.7 785.8 2251.8 787.1 2251.8C788.5 2251.8 789.8 2251.8 791.1 2251.8C792.5 2251.9 793.8 2251.9 795.1 2251.9C796.5 2251.9 797.8 2251.9 799.2 2252.0C800.5 2252.0 801.8 2252.0 803.2 2252.0C804.5 2252.1 805.8 2252.1 807.2 2252.1C808.5 2252.1 809.8 2252.1 811.2 2252.2C812.5 2252.2 813.9 2252.2 815.2 2252.2C816.5 2252.3 817.9 2252.3 819.2 2252.3C820.5 2252.3 821.9 2252.3 823.2 2252.4C824.5 2252.4 825.9 2252.4 827.2 2252.4C828.6 2252.5 829.9 2252.5 831.2 2252.5C832.6 2252.5 833.9 2252.6 835.2 2252.6C836.6 2252.6 837.9 2252.6 839.2 2252.7C840.6 2252.7 841.9 2252.7 843.3 2252.7C844.6 2252.8 845.9 2252.8 847.3 2252.8C848.6 2252.8 849.9 2252.9 851.3 2252.9C852.6 2252.9 853.9 2252.9 855.3 2253.0C856.6 2253.0 857.9 2253.0 859.3 2253.0C860.6 2253.1 862.0 2253.1 863.3 2253.1C864.6 2253.1 866.0 2253.2 867.3 2253.2C868.6 2253.2 870.0 2253.2 871.3 2253.3C872.6 2253.3 874.0 2253.3 875.3 2253.3C876.6 2253.4 878.0 2253.4 879.3 2253.4C880.6 2253.4 882.0 2253.5 883.3 2253.5C884.7 2253.5 886.0 2253.6 887.3 2253.6C888.7 2253.6 890.0 2253.6 891.3 2253.7C892.7 2253.7 894.0 2253.7 895.3 2253.7C896.7 2253.8 898.0 2253.8 899.3 2253.8C900.7 2253.9 902.0 2253.9 903.3 2253.9C904.7 2253.9 906.0 2254.0 907.3 2254.0C908.7 2254.0 910.0 2254.1 911.4 2254.1C912.7 2254.1 914.0 2254.1 915.4 2254.2C916.7 2254.2 918.0 2254.2 919.4 2254.3C920.7 2254.3 922.0 2254.3 923.4 2254.3C924.7 2254.4 926.0 2254.4 927.4 2254.4C928.7 2254.5 930.0 2254.5 931.4 2254.5C932.7 2254.5 934.0 2254.6 935.4 2254.6C936.7 2254.6 938.0 2254.7 939.4 2254.7C940.7 2254.7 942.0 2254.7 943.4 2254.8C944.7 2254.8 946.0 2254.8 947.4 2254.9C948.7 2254.9 950.0 2254.9 951.4 2254.9C952.7 2255.0 954.0 2255.0 955.4 2255.0C956.7 2255.1 958.0 2255.1 959.4 2255.1C960.7 2255.2 962.0 2255.2 963.4 2255.2C964.7 2255.2 966.0 2255.3 967.4 2255.3C968.7 2255.3 970.0 2255.4 971.4 2255.4C972.7 2255.4 974.0 2255.5 975.4 2255.5C976.7 2255.5 978.0 2255.5 979.4 2255.6C980.7 2255.6 982.0 2255.6 983.4 2255.7C984.7 2255.7 986.0 2255.7 987.4 2255.8C988.7 2255.8 990.0 2255.8 991.3 2255.9C992.7 2255.9 994.0 2255.9 995.3 2255.9C996.7 2256.0 998.0 2256.0 999.3 2256.0C1000.7 2256.1 1002.0 2256.1 1003.3 2256.1C1004.7 2256.2 1006.0 2256.2 1007.3 2256.2C1008.7 2256.3 1010.0 2256.3 1011.3 2256.3C1012.7 2256.3 1014.0 2256.4 1015.3 2256.4C1016.6 2256.4 1018.0 2256.5 1019.3 2256.5C1020.6 2256.5 1022.0 2256.6 1023.3 2256.6C1024.6 2256.6 1026.0 2256.7 1027.3 2256.7C1028.6 2256.7 1030.0 2256.7 1031.3 2256.8C1032.6 2256.8 1033.9 2256.8 1035.3 2256.9C1036.6 2256.9 1037.9 2256.9 1039.3 2257.0C1040.6 2257.0 1041.9 2257.0 1043.3 2257.1C1044.6 2257.1 1045.9 2257.1 1047.2 2257.1C1048.6 2257.2 1049.9 2257.2 1051.2 2257.2C1052.6 2257.3 1053.9 2257.3 1055.2 2257.3C1056.5 2257.4 1057.9 2257.4 1059.2 2257.4C1060.5 2257.5 1061.9 2257.5 1063.2 2257.5C1064.5 2257.6 1065.8 2257.6 1067.2 2257.6C1068.5 2257.6 1069.8 2257.7 1071.2 2257.7C1072.5 2257.7 1073.8 2257.8 1075.2 2257.8C1076.5 2257.8 1077.8 2257.9 1079.1 2257.9C1080.5 2257.9 1081.8 2258.0 1083.1 2258.0C1084.5 2258.1 1085.8 2258.1 1087.1 2258.1C1088.4 2258.2 1089.8 2258.2 1091.1 2258.2C1092.4 2258.3 1093.8 2258.3 1095.1 2258.4C1096.4 2258.4 1097.7 2258.4 1099.1 2258.5C1100.4 2258.5 1101.7 2258.6 1103.1 2258.6C1104.4 2258.6 1105.7 2258.7 1107.0 2258.7C1108.4 2258.8 1109.7 2258.8 1111.0 2258.9C1112.4 2258.9 1113.7 2259.0 1115.0 2259.0C1116.4 2259.0 1117.7 2259.1 1119.0 2259.1C1120.3 2259.2 1121.7 2259.2 1123.0 2259.3C1124.3 2259.3 1125.7 2259.4 1127.0 2259.5C1128.3 2259.5 1129.7 2259.6 1131.0 2259.6C1132.3 2259.7 1133.7 2259.7 1135.0 2259.8C1136.3 2259.9 1137.7 2259.9 1139.0 2260.0C1140.3 2260.0 1141.6 2260.1 1143.0 2260.2C1144.3 2260.2 1145.6 2260.3 1147.0 2260.4C1148.3 2260.4 1149.6 2260.5 1151.0 2260.6C1152.3 2260.7 1153.6 2260.7 1155.0 2260.8C1156.3 2260.9 1157.6 2260.9 1159.0 2261.0C1160.3 2261.1 1161.7 2261.2 1163.0 2261.3C1164.3 2261.3 1165.7 2261.4 1167.0 2261.5C1168.3 2261.6 1169.7 2261.7 1171.0 2261.8C1172.3 2261.9 1173.7 2262.0 1175.0 2262.0C1176.4 2262.1 1177.7 2262.2 1179.0 2262.3C1180.4 2262.4 1181.7 2262.5 1183.0 2262.6C1184.4 2262.7 1185.7 2262.8 1187.1 2262.9C1188.4 2263.0 1189.7 2263.1 1191.1 2263.3C1192.4 2263.4 1193.8 2263.5 1195.1 2263.6C1196.4 2263.7 1197.8 2263.8 1199.1 2263.9C1200.5 2264.1 1201.8 2264.2 1203.1 2264.3C1204.5 2264.4 1205.8 2264.6 1207.2 2264.7C1208.5 2264.8 1209.9 2264.9 1211.2 2265.1C1212.6 2265.2 1213.9 2265.3 1215.2 2265.5C1216.6 2265.6 1217.9 2265.8 1219.3 2265.9C1220.6 2266.0 1222.0 2266.2 1223.3 2266.3C1224.7 2266.5 1226.0 2266.6 1227.4 2266.8C1228.7 2266.9 1230.1 2267.1 1231.4 2267.3C1232.8 2267.4 1234.1 2267.6 1235.5 2267.8C1236.8 2267.9 1238.2 2268.1 1239.5 2268.3C1240.9 2268.4 1242.2 2268.6 1243.6 2268.8C1244.9 2269.0 1246.3 2269.2 1247.6 2269.4C1248.9 2269.5 1250.3 2269.7 1251.6 2269.9C1253.0 2270.1 1254.3 2270.3 1255.7 2270.5C1257.0 2270.7 1258.4 2270.9 1259.7 2271.2C1261.0 2271.4 1262.4 2271.6 1263.7 2271.8C1265.1 2272.0 1266.4 2272.3 1267.7 2272.5C1269.1 2272.7 1270.4 2273.0 1271.7 2273.2C1273.1 2273.5 1274.4 2273.7 1275.7 2274.0C1277.0 2274.2 1278.4 2274.5 1279.7 2274.8C1281.0 2275.0 1282.3 2275.3 1283.7 2275.6C1285.0 2275.9 1286.3 2276.1 1287.6 2276.4C1288.9 2276.7 1290.2 2277.0 1291.5 2277.3C1292.9 2277.6 1294.2 2277.9 1295.5 2278.2C1296.8 2278.6 1298.1 2278.9 1299.4 2279.2C1300.6 2279.5 1301.9 2279.9 1303.2 2280.2C1304.5 2280.6 1305.8 2280.9 1307.1 2281.3C1308.4 2281.6 1309.6 2282.0 1310.9 2282.4C1312.2 2282.7 1313.5 2283.1 1314.7 2283.5C1316.0 2283.9 1317.2 2284.3 1318.5 2284.7C1319.8 2285.1 1321.0 2285.5 1322.3 2285.9C1323.5 2286.3 1324.7 2286.8 1326.0 2287.2C1327.2 2287.6 1328.5 2288.1 1329.7 2288.5C1330.9 2289.0 1332.1 2289.5 1333.4 2289.9C1334.6 2290.4 1335.8 2290.9 1337.0 2291.4C1338.2 2291.8 1339.4 2292.3 1340.6 2292.9C1341.8 2293.4 1343.0 2293.9 1344.2 2294.4C1345.4 2294.9 1346.5 2295.5 1347.7 2296.0C1348.9 2296.5 1350.0 2297.1 1351.2 2297.7C1352.4 2298.2 1353.5 2298.8 1354.7 2299.4C1355.8 2300.0 1357.5 2300.9 1358.1 2301.2"/>
<path class="c" stroke-width="8.6" style="stroke-linecap:butt" d="M1747.6 3314.9C1748.1 3315.2 1749.9 3316.1 1751.1 3316.7C1752.2 3317.3 1753.4 3317.8 1754.6 3318.3C1755.8 3318.9 1757.1 3319.4 1758.3 3319.8C1759.5 3320.3 1760.7 3320.8 1762.0 3321.2C1763.2 3321.7 1764.5 3322.1 1765.7 3322.5C1767.0 3322.9 1768.3 3323.3 1769.5 3323.7C1770.8 3324.0 1772.1 3324.4 1773.4 3324.7C1774.6 3325.0 1775.9 3325.4 1777.2 3325.7C1778.5 3326.0 1779.8 3326.3 1781.1 3326.5C1782.5 3326.8 1783.8 3327.1 1785.1 3327.3C1786.4 3327.6 1787.7 3327.8 1789.0 3328.0C1790.4 3328.3 1791.7 3328.5 1793.0 3328.7C1794.3 3328.9 1795.7 3329.1 1797.0 3329.2C1798.3 3329.4 1799.7 3329.6 1801.0 3329.7C1802.3 3329.9 1803.7 3330.1 1805.0 3330.2C1806.3 3330.3 1807.7 3330.5 1809.0 3330.6C1810.3 3330.7 1811.7 3330.8 1813.0 3331.0C1814.3 3331.1 1815.7 3331.2 1817.0 3331.3C1818.4 3331.4 1819.7 3331.5 1821.0 3331.5C1822.4 3331.6 1823.7 3331.7 1825.0 3331.8C1826.4 3331.8 1827.7 3331.9 1829.1 3332.0C1830.4 3332.0 1831.7 3332.1 1833.1 3332.1C1834.4 3332.2 1835.8 3332.2 1837.1 3332.2C1838.4 3332.3 1839.8 3332.3 1841.1 3332.3C1842.5 3332.4 1843.8 3332.4 1845.1 3332.4C1846.5 3332.4 1847.8 3332.4 1849.2 3332.5C1850.5 3332.5 1851.8 3332.5 1853.2 3332.5C1854.5 3332.5 1855.9 3332.5 1857.2 3332.5C1858.6 3332.5 1859.9 3332.5 1861.2 3332.5C1862.6 3332.5 1863.9 3332.5 1865.3 3332.5C1866.6 3332.5 1867.9 3332.5 1869.3 3332.5C1870.6 3332.4 1872.0 3332.4 1873.3 3332.4C1874.7 3332.4 1876.0 3332.4 1877.3 3332.4C1878.7 3332.4 1880.0 3332.4 1881.4 3332.3C1882.7 3332.3 1884.0 3332.3 1885.4 3332.3C1886.7 3332.3 1888.1 3332.3 1889.4 3332.3C1890.7 3332.3 1892.1 3332.3 1893.4 3332.3C1894.8 3332.2 1896.1 3332.2 1897.4 3332.2C1898.8 3332.2 1900.1 3332.2 1901.4 3332.2C1902.8 3332.2 1904.1 3332.2 1905.5 3332.2C1906.8 3332.2 1908.1 3332.2 1909.5 3332.2C1910.8 3332.2 1912.1 3332.2 1913.5 3332.2C1914.8 3332.1 1916.2 3332.1 1917.5 3332.1C1918.8 3332.1 1920.2 3332.1 1921.5 3332.1C1922.8 3332.1 1924.2 3332.1 1925.5 3332.1C1926.8 3332.1 1928.2 3332.1 1929.5 3332.1C1930.9 3332.1 1932.2 3332.1 1933.5 3332.1C1934.9 3332.1 1936.2 3332.1 1937.5 3332.1C1938.9 3332.1 1940.2 3332.1 1941.5 3332.1C1942.9 3332.1 1944.2 3332.1 1945.5 3332.1C1946.9 3332.1 1948.2 3332.1 1949.5 3332.1C1950.9 3332.1 1952.2 3332.1 1953.5 3332.1C1954.9 3332.1 1956.2 3332.1 1957.5 3332.1C1958.9 3332.2 1960.2 3332.2 1961.5 3332.2C1962.9 3332.2 1964.2 3332.2 1965.5 3332.2C1966.9 3332.2 1968.2 3332.2 1969.5 3332.2C1970.9 3332.2 1972.2 3332.2 1973.6 3332.2C1974.9 3332.2 1976.2 3332.2 1977.6 3332.2C1978.9 3332.2 1980.2 3332.2 1981.5 3332.2C1982.9 3332.2 1984.2 3332.2 1985.5 3332.2C1986.9 3332.2 1988.2 3332.3 1989.5 3332.3C1990.9 3332.3 1992.2 3332.3 1993.5 3332.3C1994.9 3332.3 1996.2 3332.3 1997.5 3332.3C1998.9 3332.3 2000.2 3332.3 2001.5 3332.3C2002.9 3332.3 2004.2 3332.3 2005.5 3332.3C2006.9 3332.3 2008.2 3332.3 2009.5 3332.3C2010.9 3332.3 2012.2 3332.4 2013.5 3332.4C2014.9 3332.4 2016.2 3332.4 2017.5 3332.4C2018.9 3332.4 2020.2 3332.4 2021.5 3332.4C2022.9 3332.4 2024.2 3332.4 2025.5 3332.4C2026.9 3332.4 2028.2 3332.4 2029.5 3332.4C2030.9 3332.4 2032.2 3332.4 2033.5 3332.4C2034.9 3332.4 2036.2 3332.4 2037.5 3332.4C2038.9 3332.5 2040.2 3332.5 2041.5 3332.5C2042.9 3332.5 2044.2 3332.5 2045.5 3332.5C2046.9 3332.5 2048.2 3332.5 2049.5 3332.5C2050.9 3332.5 2052.2 3332.5 2053.5 3332.5C2054.9 3332.5 2056.2 3332.5 2057.6 3332.5C2058.9 3332.5 2060.2 3332.5 2061.6 3332.5C2062.9 3332.5 2064.2 3332.5 2065.6 3332.5C2066.9 3332.5 2068.2 3332.5 2069.6 3332.5C2070.9 3332.5 2072.2 3332.5 2073.6 3332.5C2074.9 3332.5 2076.2 3332.5 2077.6 3332.5C2078.9 3332.5 2080.2 3332.5 2081.6 3332.5C2082.9 3332.5 2084.2 3332.5 2085.6 3332.5C2086.9 3332.5 2088.3 3332.5 2089.6 3332.5C2090.9 3332.5 2092.3 3332.5 2093.6 3332.5C2094.9 3332.5 2096.3 3332.5 2097.6 3332.5C2098.9 3332.5 2100.3 3332.5 2101.6 3332.5C2102.9 3332.5 2104.3 3332.5 2105.6 3332.5C2107.0 3332.5 2108.3 3332.5 2109.6 3332.5C2111.0 3332.5 2112.3 3332.5 2113.6 3332.5C2115.0 3332.5 2116.3 3332.5 2117.6 3332.5C2119.0 3332.5 2120.3 3332.5 2121.6 3332.5C2123.0 3332.5 2124.3 3332.5 2125.7 3332.5C2127.0 3332.5 2128.3 3332.5 2129.7 3332.5C2131.0 3332.5 2132.3 3332.5 2133.7 3332.5C2135.0 3332.5 2136.3 3332.5 2137.7 3332.5C2139.0 3332.5 2140.4 3332.5 2141.7 3332.5C2143.0 3332.5 2144.4 3332.5 2145.7 3332.5C2147.0 3332.5 2148.4 3332.5 2149.7 3332.5C2151.0 3332.5 2152.4 3332.5 2153.7 3332.5C2155.1 3332.5 2156.4 3332.4 2157.7 3332.4C2159.1 3332.4 2160.4 3332.4 2161.7 3332.4C2163.1 3332.4 2164.4 3332.4 2165.7 3332.4C2167.1 3332.4 2168.4 3332.4 2169.8 3332.4C2171.1 3332.4 2172.4 3332.4 2173.8 3332.4C2175.1 3332.4 2176.4 3332.4 2177.8 3332.4C2179.1 3332.4 2180.4 3332.4 2181.8 3332.4C2183.1 3332.4 2184.5 3332.4 2185.8 3332.4C2187.1 3332.4 2188.5 3332.4 2189.8 3332.4C2191.1 3332.4 2192.5 3332.4 2193.8 3332.4C2195.1 3332.4 2196.5 3332.4 2197.8 3332.4C2199.2 3332.4 2200.5 3332.4 2201.8 3332.4C2203.2 3332.4 2204.5 3332.4 2205.8 3332.4C2207.2 3332.4 2208.5 3332.4 2209.8 3332.4C2211.2 3332.3 2212.5 3332.3 2213.9 3332.3C2215.2 3332.3 2216.5 3332.3 2217.9 3332.3C2219.2 3332.3 2220.5 3332.3 2221.9 3332.3C2223.2 3332.3 2224.5 3332.3 2225.9 3332.3C2227.2 3332.3 2228.5 3332.3 2229.9 3332.3C2231.2 3332.3 2232.6 3332.3 2233.9 3332.3C2235.2 3332.3 2236.6 3332.3 2237.9 3332.3C2239.2 3332.3 2240.6 3332.3 2241.9 3332.3C2243.2 3332.3 2244.6 3332.3 2245.9 3332.3C2247.2 3332.3 2248.6 3332.3 2249.9 3332.3C2251.3 3332.3 2252.6 3332.3 2253.9 3332.3C2255.3 3332.3 2256.6 3332.3 2257.9 3332.3C2259.3 3332.3 2260.6 3332.3 2261.9 3332.3C2263.3 3332.3 2264.6 3332.3 2265.9 3332.3C2267.3 3332.3 2268.6 3332.3 2269.9 3332.3C2271.3 3332.3 2272.6 3332.3 2273.9 3332.3C2275.3 3332.3 2276.6 3332.3 2278.0 3332.3C2279.3 3332.3 2280.6 3332.3 2282.0 3332.3C2283.3 3332.3 2284.6 3332.3 2286.0 3332.3C2287.3 3332.3 2288.6 3332.4 2290.0 3332.4C2291.3 3332.4 2292.6 3332.4 2294.0 3332.4C2295.3 3332.4 2296.6 3332.4 2298.0 3332.4C2299.3 3332.4 2300.6 3332.4 2302.0 3332.4C2303.3 3332.4 2304.6 3332.4 2306.0 3332.4C2307.3 3332.4 2308.6 3332.4 2310.0 3332.4C2311.3 3332.4 2312.6 3332.4 2314.0 3332.4C2315.3 3332.4 2316.6 3332.4 2318.0 3332.4C2319.3 3332.5 2320.6 3332.5 2322.0 3332.5C2323.3 3332.5 2324.6 3332.5 2326.0 3332.5C2327.3 3332.5 2329.3 3332.4 2330.0 3332.4"/>
<path class="c" stroke-width="5" d="M900.6 454.3 L1050.2 376.0M1342.3 213.2 L1186.6 288.5M1430.4 336.6 L1247.0 430.8M1606.9 502.8 L1446.5 608.0M1156.0 647.6 L1305.0 554.5M916.8 2650.0 L1109.5 2547.3M1625.0 2244.0 L1467.0 2322.0M1675.4 2343.8 L1492.0 2436.0M2183.5 3166.0 L1957.8 3315.0M1592.9 3411.9 L1743.0 3317.0"/>
</svg></body></html>
